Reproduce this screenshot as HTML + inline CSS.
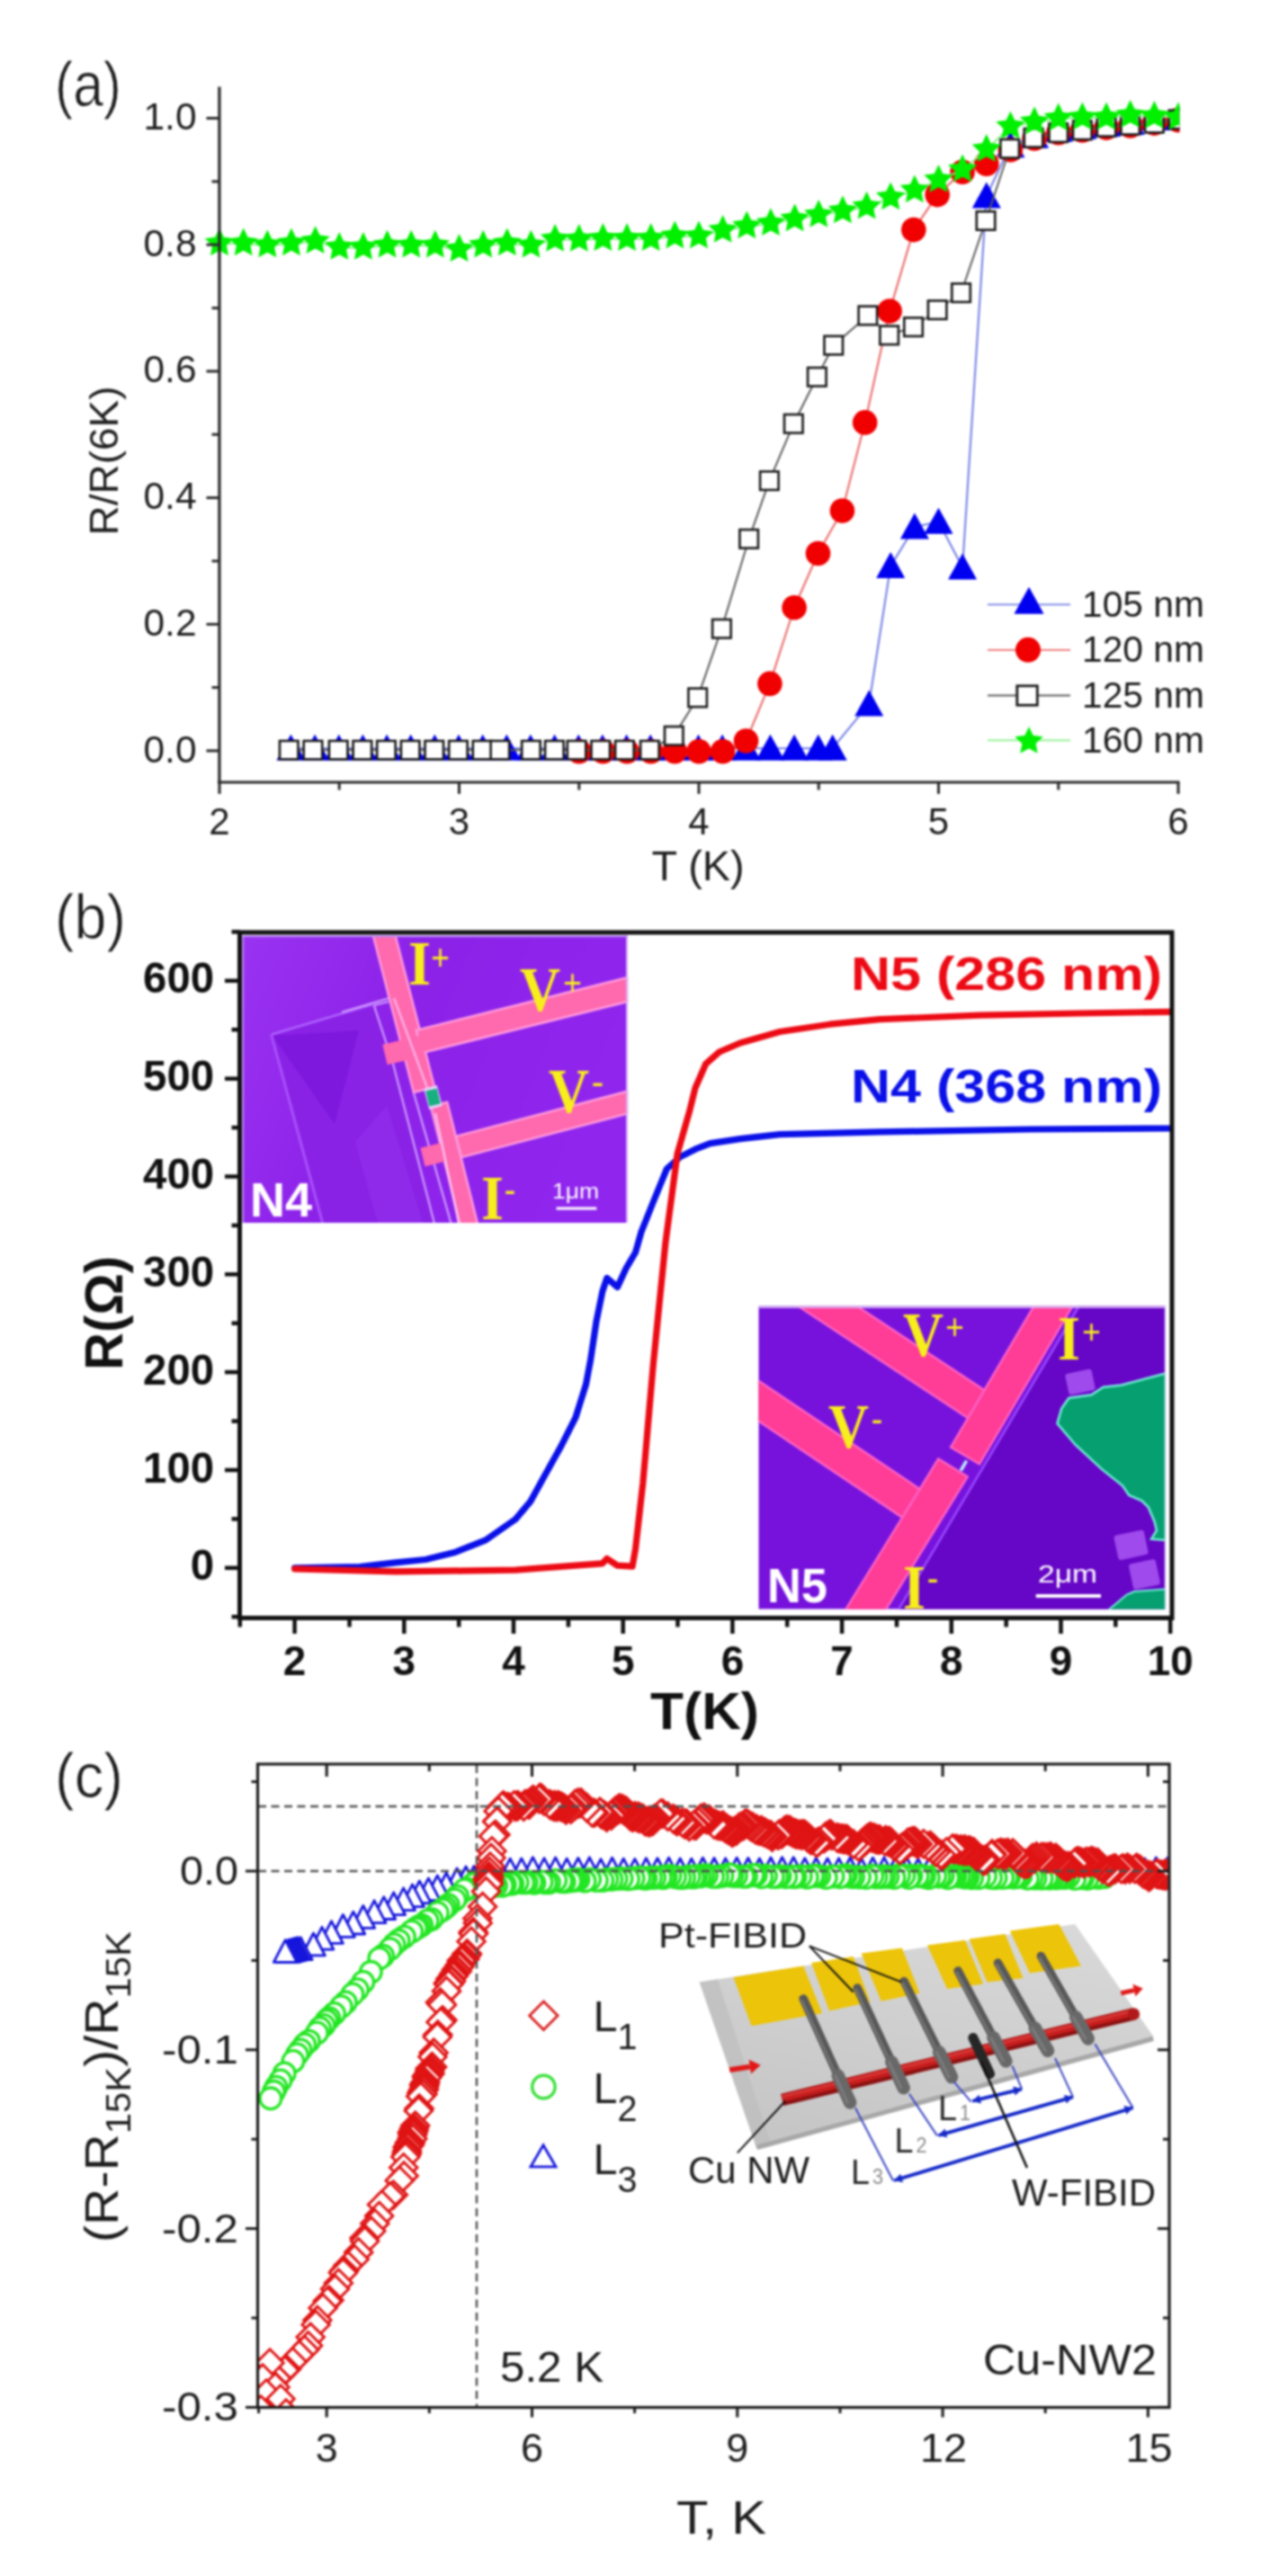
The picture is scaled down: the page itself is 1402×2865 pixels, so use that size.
<!DOCTYPE html><html><head><meta charset="utf-8"><style>html,body{margin:0;padding:0;background:#fff;}svg{display:block}</style></head><body><svg width="1402" height="2865" viewBox="0 0 1402 2865"><rect width="1402" height="2865" fill="#fff"/><defs><filter id="soft" x="0" y="0" width="1402" height="2865" filterUnits="userSpaceOnUse" color-interpolation-filters="sRGB"><feGaussianBlur stdDeviation="1.0"/></filter></defs><g filter="url(#soft)"><rect width="1402" height="2865" fill="#fff"/><defs><clipPath id="ca"><rect x="200" y="60" width="1111.5" height="820"/></clipPath></defs><g clip-path="url(#ca)">
<path d="M323.4 832.2 L350.1 832.2 L376.8 832.2 L403.4 832.2 L430.1 832.2 L456.7 832.2 L483.3 832.2 L510 832.2 L536.7 832.2 L563.3 832.2 L589.9 832.2 L616.6 832.2 L643.2 832.2 L669.9 832.2 L696.6 832.2 L723.2 832.2 L749.8 832.2 L776.5 832.2 L803.1 832.2 L829.8 832.2 L856.4 832.2 L883.1 832.2 L909.8 832.2 L925.7 832.2 L966.2 782.9 L990.2 629.6 L1016.9 586 L1043.5 580.3 L1070.1 631 L1096.8 218 L1123.4 161.8 L1150.1 151.2 L1176.8 144.2 L1203.4 141.3 L1230.1 138.5 L1256.7 136.4 L1283.4 131.5 L1310 131.5" fill="none" stroke="#7480e4" stroke-width="2.1" stroke-linejoin="round"/>
<path d="M323.4 816.7 L339.4 845.7 L307.4 845.7 Z" fill="#0000f0" stroke="none" stroke-width="1"/>
<path d="M350.1 816.7 L366.1 845.7 L334.1 845.7 Z" fill="#0000f0" stroke="none" stroke-width="1"/>
<path d="M376.8 816.7 L392.8 845.7 L360.8 845.7 Z" fill="#0000f0" stroke="none" stroke-width="1"/>
<path d="M403.4 816.7 L419.4 845.7 L387.4 845.7 Z" fill="#0000f0" stroke="none" stroke-width="1"/>
<path d="M430.1 816.7 L446.1 845.7 L414.1 845.7 Z" fill="#0000f0" stroke="none" stroke-width="1"/>
<path d="M456.7 816.7 L472.7 845.7 L440.7 845.7 Z" fill="#0000f0" stroke="none" stroke-width="1"/>
<path d="M483.3 816.7 L499.3 845.7 L467.3 845.7 Z" fill="#0000f0" stroke="none" stroke-width="1"/>
<path d="M510 816.7 L526 845.7 L494 845.7 Z" fill="#0000f0" stroke="none" stroke-width="1"/>
<path d="M536.7 816.7 L552.7 845.7 L520.7 845.7 Z" fill="#0000f0" stroke="none" stroke-width="1"/>
<path d="M563.3 816.7 L579.3 845.7 L547.3 845.7 Z" fill="#0000f0" stroke="none" stroke-width="1"/>
<path d="M589.9 816.7 L605.9 845.7 L573.9 845.7 Z" fill="#0000f0" stroke="none" stroke-width="1"/>
<path d="M616.6 816.7 L632.6 845.7 L600.6 845.7 Z" fill="#0000f0" stroke="none" stroke-width="1"/>
<path d="M643.2 816.7 L659.2 845.7 L627.2 845.7 Z" fill="#0000f0" stroke="none" stroke-width="1"/>
<path d="M669.9 816.7 L685.9 845.7 L653.9 845.7 Z" fill="#0000f0" stroke="none" stroke-width="1"/>
<path d="M696.6 816.7 L712.6 845.7 L680.6 845.7 Z" fill="#0000f0" stroke="none" stroke-width="1"/>
<path d="M723.2 816.7 L739.2 845.7 L707.2 845.7 Z" fill="#0000f0" stroke="none" stroke-width="1"/>
<path d="M749.8 816.7 L765.8 845.7 L733.8 845.7 Z" fill="#0000f0" stroke="none" stroke-width="1"/>
<path d="M776.5 816.7 L792.5 845.7 L760.5 845.7 Z" fill="#0000f0" stroke="none" stroke-width="1"/>
<path d="M803.1 816.7 L819.1 845.7 L787.1 845.7 Z" fill="#0000f0" stroke="none" stroke-width="1"/>
<path d="M829.8 816.7 L845.8 845.7 L813.8 845.7 Z" fill="#0000f0" stroke="none" stroke-width="1"/>
<path d="M856.4 816.7 L872.4 845.7 L840.4 845.7 Z" fill="#0000f0" stroke="none" stroke-width="1"/>
<path d="M883.1 816.7 L899.1 845.7 L867.1 845.7 Z" fill="#0000f0" stroke="none" stroke-width="1"/>
<path d="M909.8 816.7 L925.8 845.7 L893.8 845.7 Z" fill="#0000f0" stroke="none" stroke-width="1"/>
<path d="M925.7 816.7 L941.7 845.7 L909.7 845.7 Z" fill="#0000f0" stroke="none" stroke-width="1"/>
<path d="M966.2 767.4 L982.2 796.4 L950.2 796.4 Z" fill="#0000f0" stroke="none" stroke-width="1"/>
<path d="M990.2 614.1 L1006.2 643.1 L974.2 643.1 Z" fill="#0000f0" stroke="none" stroke-width="1"/>
<path d="M1016.9 570.5 L1032.9 599.5 L1000.9 599.5 Z" fill="#0000f0" stroke="none" stroke-width="1"/>
<path d="M1043.5 564.8 L1059.5 593.8 L1027.5 593.8 Z" fill="#0000f0" stroke="none" stroke-width="1"/>
<path d="M1070.1 615.5 L1086.1 644.5 L1054.1 644.5 Z" fill="#0000f0" stroke="none" stroke-width="1"/>
<path d="M1096.8 202.5 L1112.8 231.5 L1080.8 231.5 Z" fill="#0000f0" stroke="none" stroke-width="1"/>
<path d="M1123.4 146.3 L1139.4 175.3 L1107.4 175.3 Z" fill="#0000f0" stroke="none" stroke-width="1"/>
<path d="M1150.1 135.7 L1166.1 164.7 L1134.1 164.7 Z" fill="#0000f0" stroke="none" stroke-width="1"/>
<path d="M1176.8 128.7 L1192.8 157.7 L1160.8 157.7 Z" fill="#0000f0" stroke="none" stroke-width="1"/>
<path d="M1203.4 125.8 L1219.4 154.8 L1187.4 154.8 Z" fill="#0000f0" stroke="none" stroke-width="1"/>
<path d="M1230.1 123 L1246.1 152 L1214.1 152 Z" fill="#0000f0" stroke="none" stroke-width="1"/>
<path d="M1256.7 120.9 L1272.7 149.9 L1240.7 149.9 Z" fill="#0000f0" stroke="none" stroke-width="1"/>
<path d="M1283.4 116 L1299.4 145 L1267.4 145 Z" fill="#0000f0" stroke="none" stroke-width="1"/>
<path d="M1310 116 L1326 145 L1294 145 Z" fill="#0000f0" stroke="none" stroke-width="1"/>
<path d="M643.8 835.7 L670.4 835.7 L697.1 835.7 L723.7 835.7 L750.3 835.7 L777 835.7 L803.6 835.7 L829.5 824 L855.9 760.4 L883.1 675.7 L909.5 615.5 L936.4 568 L961.7 469.9 L989.1 346.1 L1015.8 255.6 L1042.2 216.6 L1070.1 191.3 L1096.8 182.2 L1123.4 166.7 L1150.1 154 L1176.8 147.7 L1203.4 144.9 L1230.1 142.1 L1256.7 139.9 L1283.4 137.1 L1310 133.6" fill="none" stroke="#ec6a6a" stroke-width="2.1" stroke-linejoin="round"/>
<circle cx="643.8" cy="835.7" r="13.8" fill="#f00000"/>
<circle cx="670.4" cy="835.7" r="13.8" fill="#f00000"/>
<circle cx="697.1" cy="835.7" r="13.8" fill="#f00000"/>
<circle cx="723.7" cy="835.7" r="13.8" fill="#f00000"/>
<circle cx="750.3" cy="835.7" r="13.8" fill="#f00000"/>
<circle cx="777" cy="835.7" r="13.8" fill="#f00000"/>
<circle cx="803.6" cy="835.7" r="13.8" fill="#f00000"/>
<circle cx="829.5" cy="824" r="13.8" fill="#f00000"/>
<circle cx="855.9" cy="760.4" r="13.8" fill="#f00000"/>
<circle cx="883.1" cy="675.7" r="13.8" fill="#f00000"/>
<circle cx="909.5" cy="615.5" r="13.8" fill="#f00000"/>
<circle cx="936.4" cy="568" r="13.8" fill="#f00000"/>
<circle cx="961.7" cy="469.9" r="13.8" fill="#f00000"/>
<circle cx="989.1" cy="346.1" r="13.8" fill="#f00000"/>
<circle cx="1015.8" cy="255.6" r="13.8" fill="#f00000"/>
<circle cx="1042.2" cy="216.6" r="13.8" fill="#f00000"/>
<circle cx="1070.1" cy="191.3" r="13.8" fill="#f00000"/>
<circle cx="1096.8" cy="182.2" r="13.8" fill="#f00000"/>
<circle cx="1123.4" cy="166.7" r="13.8" fill="#f00000"/>
<circle cx="1150.1" cy="154" r="13.8" fill="#f00000"/>
<circle cx="1176.8" cy="147.7" r="13.8" fill="#f00000"/>
<circle cx="1203.4" cy="144.9" r="13.8" fill="#f00000"/>
<circle cx="1230.1" cy="142.1" r="13.8" fill="#f00000"/>
<circle cx="1256.7" cy="139.9" r="13.8" fill="#f00000"/>
<circle cx="1283.4" cy="137.1" r="13.8" fill="#f00000"/>
<circle cx="1310" cy="133.6" r="13.8" fill="#f00000"/>
<path d="M321.3 834.3 L347.9 834.3 L376.2 834.3 L402.8 834.3 L429.5 834.3 L456.1 834.3 L482.8 834.3 L509.4 834.3 L536.1 834.3 L555.8 834.3 L590.4 834.3 L616.3 834.3 L641.1 834.3 L667.7 834.3 L694.4 834.3 L722.4 834.3 L749.3 818.4 L775.7 775.9 L802.3 699.2 L832.7 599.3 L855.4 534.6 L882.3 471.3 L908.4 419.2 L926.8 384.1 L964.9 351 L988.6 372.8 L1015.5 363.7 L1042.2 344.7 L1068.6 325.7 L1096 245.5 L1122.7 165.3 L1149 153.3 L1176.8 147.7 L1203.4 144.9 L1230.1 141.3 L1256.7 139.2 L1283.4 137.1 L1310 132.9" fill="none" stroke="#5a5a5a" stroke-width="2" stroke-linejoin="round"/>
<rect x="311" y="824" width="20.5" height="20.5" fill="#fff" stroke="#1a1a1a" stroke-width="2.6"/>
<rect x="337.7" y="824" width="20.5" height="20.5" fill="#fff" stroke="#1a1a1a" stroke-width="2.6"/>
<rect x="365.9" y="824" width="20.5" height="20.5" fill="#fff" stroke="#1a1a1a" stroke-width="2.6"/>
<rect x="392.6" y="824" width="20.5" height="20.5" fill="#fff" stroke="#1a1a1a" stroke-width="2.6"/>
<rect x="419.2" y="824" width="20.5" height="20.5" fill="#fff" stroke="#1a1a1a" stroke-width="2.6"/>
<rect x="445.9" y="824" width="20.5" height="20.5" fill="#fff" stroke="#1a1a1a" stroke-width="2.6"/>
<rect x="472.5" y="824" width="20.5" height="20.5" fill="#fff" stroke="#1a1a1a" stroke-width="2.6"/>
<rect x="499.2" y="824" width="20.5" height="20.5" fill="#fff" stroke="#1a1a1a" stroke-width="2.6"/>
<rect x="525.8" y="824" width="20.5" height="20.5" fill="#fff" stroke="#1a1a1a" stroke-width="2.6"/>
<rect x="545.6" y="824" width="20.5" height="20.5" fill="#fff" stroke="#1a1a1a" stroke-width="2.6"/>
<rect x="580.2" y="824" width="20.5" height="20.5" fill="#fff" stroke="#1a1a1a" stroke-width="2.6"/>
<rect x="606.1" y="824" width="20.5" height="20.5" fill="#fff" stroke="#1a1a1a" stroke-width="2.6"/>
<rect x="630.8" y="824" width="20.5" height="20.5" fill="#fff" stroke="#1a1a1a" stroke-width="2.6"/>
<rect x="657.5" y="824" width="20.5" height="20.5" fill="#fff" stroke="#1a1a1a" stroke-width="2.6"/>
<rect x="684.1" y="824" width="20.5" height="20.5" fill="#fff" stroke="#1a1a1a" stroke-width="2.6"/>
<rect x="712.1" y="824" width="20.5" height="20.5" fill="#fff" stroke="#1a1a1a" stroke-width="2.6"/>
<rect x="739" y="808.1" width="20.5" height="20.5" fill="#fff" stroke="#1a1a1a" stroke-width="2.6"/>
<rect x="765.4" y="765.7" width="20.5" height="20.5" fill="#fff" stroke="#1a1a1a" stroke-width="2.6"/>
<rect x="792.1" y="689" width="20.5" height="20.5" fill="#fff" stroke="#1a1a1a" stroke-width="2.6"/>
<rect x="822.4" y="589.1" width="20.5" height="20.5" fill="#fff" stroke="#1a1a1a" stroke-width="2.6"/>
<rect x="845.1" y="524.4" width="20.5" height="20.5" fill="#fff" stroke="#1a1a1a" stroke-width="2.6"/>
<rect x="872" y="461" width="20.5" height="20.5" fill="#fff" stroke="#1a1a1a" stroke-width="2.6"/>
<rect x="898.1" y="409" width="20.5" height="20.5" fill="#fff" stroke="#1a1a1a" stroke-width="2.6"/>
<rect x="916.5" y="373.8" width="20.5" height="20.5" fill="#fff" stroke="#1a1a1a" stroke-width="2.6"/>
<rect x="954.6" y="340.7" width="20.5" height="20.5" fill="#fff" stroke="#1a1a1a" stroke-width="2.6"/>
<rect x="978.4" y="362.6" width="20.5" height="20.5" fill="#fff" stroke="#1a1a1a" stroke-width="2.6"/>
<rect x="1005.3" y="353.4" width="20.5" height="20.5" fill="#fff" stroke="#1a1a1a" stroke-width="2.6"/>
<rect x="1031.9" y="334.4" width="20.5" height="20.5" fill="#fff" stroke="#1a1a1a" stroke-width="2.6"/>
<rect x="1058.3" y="315.4" width="20.5" height="20.5" fill="#fff" stroke="#1a1a1a" stroke-width="2.6"/>
<rect x="1085.8" y="235.2" width="20.5" height="20.5" fill="#fff" stroke="#1a1a1a" stroke-width="2.6"/>
<rect x="1112.4" y="155" width="20.5" height="20.5" fill="#fff" stroke="#1a1a1a" stroke-width="2.6"/>
<rect x="1138.8" y="143.1" width="20.5" height="20.5" fill="#fff" stroke="#1a1a1a" stroke-width="2.6"/>
<rect x="1166.5" y="137.4" width="20.5" height="20.5" fill="#fff" stroke="#1a1a1a" stroke-width="2.6"/>
<rect x="1193.1" y="134.6" width="20.5" height="20.5" fill="#fff" stroke="#1a1a1a" stroke-width="2.6"/>
<rect x="1219.8" y="131.1" width="20.5" height="20.5" fill="#fff" stroke="#1a1a1a" stroke-width="2.6"/>
<rect x="1246.4" y="129" width="20.5" height="20.5" fill="#fff" stroke="#1a1a1a" stroke-width="2.6"/>
<rect x="1273.1" y="126.9" width="20.5" height="20.5" fill="#fff" stroke="#1a1a1a" stroke-width="2.6"/>
<rect x="1299.8" y="122.7" width="20.5" height="20.5" fill="#fff" stroke="#1a1a1a" stroke-width="2.6"/>
<path d="M244 271 L270.7 271 L297.3 273 L323.9 271 L350.6 268.7 L377.2 275.4 L403.9 275.4 L430.6 273.2 L457.2 273.2 L483.8 273.2 L510.5 277.6 L537.2 273.2 L563.8 271 L590.4 273.2 L617.1 266.5 L643.8 266.5 L670.4 265.6 L697.1 265.6 L723.7 265.6 L750.3 263 L777 263 L803.6 256.5 L830.3 252 L856.9 248.7 L883.6 244 L910.2 239.5 L936.9 235 L963.6 230.3 L990.2 220 L1016.9 211.9 L1043.5 200.4 L1070.1 189 L1096.8 166.5 L1123.4 141 L1150.1 136 L1176.8 132 L1203.4 131 L1230.1 131 L1256.7 128.5 L1283.4 129.5 L1310 131" fill="none" stroke="#86f086" stroke-width="2.1" stroke-linejoin="round"/>
<path d="M244 253.5 L248.9 263.8 L260.2 265.2 L251.9 273.1 L254 284.3 L244 278.8 L234 284.3 L236.1 273.1 L227.8 265.2 L239.1 263.8 Z" fill="#00f000" stroke="none" stroke-width="1"/>
<path d="M270.7 253.5 L275.5 263.8 L286.8 265.2 L278.5 273.1 L280.6 284.3 L270.7 278.8 L260.7 284.3 L262.8 273.1 L254.5 265.2 L265.8 263.8 Z" fill="#00f000" stroke="none" stroke-width="1"/>
<path d="M297.3 255.5 L302.2 265.8 L313.5 267.2 L305.2 275.1 L307.3 286.3 L297.3 280.8 L287.3 286.3 L289.4 275.1 L281.1 267.2 L292.4 265.8 Z" fill="#00f000" stroke="none" stroke-width="1"/>
<path d="M323.9 253.5 L328.8 263.8 L340.1 265.2 L331.8 273.1 L333.9 284.3 L323.9 278.8 L314 284.3 L316.1 273.1 L307.8 265.2 L319.1 263.8 Z" fill="#00f000" stroke="none" stroke-width="1"/>
<path d="M350.6 251.2 L355.5 261.5 L366.8 262.9 L358.5 270.8 L360.6 282 L350.6 276.5 L340.6 282 L342.7 270.8 L334.4 262.9 L345.7 261.5 Z" fill="#00f000" stroke="none" stroke-width="1"/>
<path d="M377.2 257.9 L382.1 268.2 L393.4 269.6 L385.1 277.5 L387.2 288.7 L377.2 283.2 L367.3 288.7 L369.4 277.5 L361.1 269.6 L372.4 268.2 Z" fill="#00f000" stroke="none" stroke-width="1"/>
<path d="M403.9 257.9 L408.8 268.2 L420.1 269.6 L411.8 277.5 L413.9 288.7 L403.9 283.2 L393.9 288.7 L396 277.5 L387.7 269.6 L399 268.2 Z" fill="#00f000" stroke="none" stroke-width="1"/>
<path d="M430.6 255.7 L435.4 266 L446.7 267.4 L438.4 275.3 L440.5 286.5 L430.6 281 L420.6 286.5 L422.7 275.3 L414.4 267.4 L425.7 266 Z" fill="#00f000" stroke="none" stroke-width="1"/>
<path d="M457.2 255.7 L462.1 266 L473.4 267.4 L465.1 275.3 L467.2 286.5 L457.2 281 L447.2 286.5 L449.3 275.3 L441 267.4 L452.3 266 Z" fill="#00f000" stroke="none" stroke-width="1"/>
<path d="M483.8 255.7 L488.7 266 L500 267.4 L491.7 275.3 L493.8 286.5 L483.8 281 L473.9 286.5 L476 275.3 L467.7 267.4 L479 266 Z" fill="#00f000" stroke="none" stroke-width="1"/>
<path d="M510.5 260.1 L515.4 270.4 L526.7 271.8 L518.4 279.7 L520.5 290.9 L510.5 285.4 L500.5 290.9 L502.6 279.7 L494.3 271.8 L505.6 270.4 Z" fill="#00f000" stroke="none" stroke-width="1"/>
<path d="M537.2 255.7 L542 266 L553.3 267.4 L545 275.3 L547.1 286.5 L537.2 281 L527.2 286.5 L529.3 275.3 L521 267.4 L532.3 266 Z" fill="#00f000" stroke="none" stroke-width="1"/>
<path d="M563.8 253.5 L568.7 263.8 L580 265.2 L571.7 273.1 L573.8 284.3 L563.8 278.8 L553.8 284.3 L555.9 273.1 L547.6 265.2 L558.9 263.8 Z" fill="#00f000" stroke="none" stroke-width="1"/>
<path d="M590.4 255.7 L595.3 266 L606.6 267.4 L598.3 275.3 L600.4 286.5 L590.4 281 L580.5 286.5 L582.6 275.3 L574.3 267.4 L585.6 266 Z" fill="#00f000" stroke="none" stroke-width="1"/>
<path d="M617.1 249 L622 259.3 L633.3 260.7 L625 268.6 L627.1 279.8 L617.1 274.3 L607.1 279.8 L609.2 268.6 L600.9 260.7 L612.2 259.3 Z" fill="#00f000" stroke="none" stroke-width="1"/>
<path d="M643.8 249 L648.6 259.3 L659.9 260.7 L651.6 268.6 L653.7 279.8 L643.8 274.3 L633.8 279.8 L635.9 268.6 L627.6 260.7 L638.9 259.3 Z" fill="#00f000" stroke="none" stroke-width="1"/>
<path d="M670.4 248.1 L675.3 258.4 L686.6 259.8 L678.3 267.7 L680.4 278.9 L670.4 273.4 L660.4 278.9 L662.5 267.7 L654.2 259.8 L665.5 258.4 Z" fill="#00f000" stroke="none" stroke-width="1"/>
<path d="M697.1 248.1 L701.9 258.4 L713.2 259.8 L704.9 267.7 L707 278.9 L697.1 273.4 L687.1 278.9 L689.2 267.7 L680.9 259.8 L692.2 258.4 Z" fill="#00f000" stroke="none" stroke-width="1"/>
<path d="M723.7 248.1 L728.6 258.4 L739.9 259.8 L731.6 267.7 L733.7 278.9 L723.7 273.4 L713.7 278.9 L715.8 267.7 L707.5 259.8 L718.8 258.4 Z" fill="#00f000" stroke="none" stroke-width="1"/>
<path d="M750.3 245.5 L755.2 255.8 L766.5 257.2 L758.2 265.1 L760.3 276.3 L750.3 270.8 L740.4 276.3 L742.5 265.1 L734.2 257.2 L745.5 255.8 Z" fill="#00f000" stroke="none" stroke-width="1"/>
<path d="M777 245.5 L781.9 255.8 L793.2 257.2 L784.9 265.1 L787 276.3 L777 270.8 L767 276.3 L769.1 265.1 L760.8 257.2 L772.1 255.8 Z" fill="#00f000" stroke="none" stroke-width="1"/>
<path d="M803.6 239 L808.5 249.3 L819.8 250.7 L811.5 258.6 L813.6 269.8 L803.6 264.3 L793.7 269.8 L795.8 258.6 L787.5 250.7 L798.8 249.3 Z" fill="#00f000" stroke="none" stroke-width="1"/>
<path d="M830.3 234.5 L835.2 244.8 L846.5 246.2 L838.2 254.1 L840.3 265.3 L830.3 259.8 L820.3 265.3 L822.4 254.1 L814.1 246.2 L825.4 244.8 Z" fill="#00f000" stroke="none" stroke-width="1"/>
<path d="M856.9 231.2 L861.8 241.5 L873.1 242.9 L864.8 250.8 L866.9 262 L856.9 256.5 L847 262 L849.1 250.8 L840.8 242.9 L852.1 241.5 Z" fill="#00f000" stroke="none" stroke-width="1"/>
<path d="M883.6 226.5 L888.5 236.8 L899.8 238.2 L891.5 246.1 L893.6 257.3 L883.6 251.8 L873.6 257.3 L875.7 246.1 L867.4 238.2 L878.7 236.8 Z" fill="#00f000" stroke="none" stroke-width="1"/>
<path d="M910.2 222 L915.1 232.3 L926.4 233.7 L918.1 241.6 L920.2 252.8 L910.2 247.3 L900.3 252.8 L902.4 241.6 L894.1 233.7 L905.4 232.3 Z" fill="#00f000" stroke="none" stroke-width="1"/>
<path d="M936.9 217.5 L941.8 227.8 L953.1 229.2 L944.8 237.1 L946.9 248.3 L936.9 242.8 L926.9 248.3 L929 237.1 L920.7 229.2 L932 227.8 Z" fill="#00f000" stroke="none" stroke-width="1"/>
<path d="M963.6 212.8 L968.4 223.1 L979.7 224.5 L971.4 232.4 L973.5 243.6 L963.6 238.1 L953.6 243.6 L955.7 232.4 L947.4 224.5 L958.7 223.1 Z" fill="#00f000" stroke="none" stroke-width="1"/>
<path d="M990.2 202.5 L995.1 212.8 L1006.4 214.2 L998.1 222.1 L1000.2 233.3 L990.2 227.8 L980.2 233.3 L982.3 222.1 L974 214.2 L985.3 212.8 Z" fill="#00f000" stroke="none" stroke-width="1"/>
<path d="M1016.9 194.4 L1021.7 204.7 L1033 206.1 L1024.7 214 L1026.8 225.2 L1016.9 219.7 L1006.9 225.2 L1009 214 L1000.7 206.1 L1012 204.7 Z" fill="#00f000" stroke="none" stroke-width="1"/>
<path d="M1043.5 182.9 L1048.4 193.2 L1059.7 194.6 L1051.4 202.5 L1053.5 213.7 L1043.5 208.2 L1033.5 213.7 L1035.6 202.5 L1027.3 194.6 L1038.6 193.2 Z" fill="#00f000" stroke="none" stroke-width="1"/>
<path d="M1070.1 171.5 L1075 181.8 L1086.3 183.2 L1078 191.1 L1080.1 202.3 L1070.1 196.8 L1060.2 202.3 L1062.3 191.1 L1054 183.2 L1065.3 181.8 Z" fill="#00f000" stroke="none" stroke-width="1"/>
<path d="M1096.8 149 L1101.7 159.3 L1113 160.7 L1104.7 168.6 L1106.8 179.8 L1096.8 174.3 L1086.8 179.8 L1088.9 168.6 L1080.6 160.7 L1091.9 159.3 Z" fill="#00f000" stroke="none" stroke-width="1"/>
<path d="M1123.4 123.5 L1128.3 133.8 L1139.6 135.2 L1131.3 143.1 L1133.4 154.3 L1123.4 148.8 L1113.5 154.3 L1115.6 143.1 L1107.3 135.2 L1118.6 133.8 Z" fill="#00f000" stroke="none" stroke-width="1"/>
<path d="M1150.1 118.5 L1155 128.8 L1166.3 130.2 L1158 138.1 L1160.1 149.3 L1150.1 143.8 L1140.1 149.3 L1142.2 138.1 L1133.9 130.2 L1145.2 128.8 Z" fill="#00f000" stroke="none" stroke-width="1"/>
<path d="M1176.8 114.5 L1181.6 124.8 L1192.9 126.2 L1184.6 134.1 L1186.7 145.3 L1176.8 139.8 L1166.8 145.3 L1168.9 134.1 L1160.6 126.2 L1171.9 124.8 Z" fill="#00f000" stroke="none" stroke-width="1"/>
<path d="M1203.4 113.5 L1208.3 123.8 L1219.6 125.2 L1211.3 133.1 L1213.4 144.3 L1203.4 138.8 L1193.4 144.3 L1195.5 133.1 L1187.2 125.2 L1198.5 123.8 Z" fill="#00f000" stroke="none" stroke-width="1"/>
<path d="M1230.1 113.5 L1234.9 123.8 L1246.2 125.2 L1237.9 133.1 L1240 144.3 L1230.1 138.8 L1220.1 144.3 L1222.2 133.1 L1213.9 125.2 L1225.2 123.8 Z" fill="#00f000" stroke="none" stroke-width="1"/>
<path d="M1256.7 111 L1261.6 121.3 L1272.9 122.7 L1264.6 130.6 L1266.7 141.8 L1256.7 136.3 L1246.7 141.8 L1248.8 130.6 L1240.5 122.7 L1251.8 121.3 Z" fill="#00f000" stroke="none" stroke-width="1"/>
<path d="M1283.4 112 L1288.2 122.3 L1299.5 123.7 L1291.2 131.6 L1293.3 142.8 L1283.4 137.3 L1273.4 142.8 L1275.5 131.6 L1267.2 123.7 L1278.5 122.3 Z" fill="#00f000" stroke="none" stroke-width="1"/>
<path d="M1310 113.5 L1314.9 123.8 L1326.2 125.2 L1317.9 133.1 L1320 144.3 L1310 138.8 L1300 144.3 L1302.1 133.1 L1293.8 125.2 L1305.1 123.8 Z" fill="#00f000" stroke="none" stroke-width="1"/>
</g>
<line x1="243.9" y1="96.5" x2="243.9" y2="871.5" stroke="#2b2b2b" stroke-width="3.2"/>
<line x1="242" y1="870" x2="1311.5" y2="870" stroke="#2b2b2b" stroke-width="3"/>
<line x1="229.5" y1="835" x2="243.5" y2="835" stroke="#2b2b2b" stroke-width="3"/>
<text x="218.5" y="847.5" font-size="43" text-anchor="end" fill="#1e1e1e" font-family='"Liberation Sans", sans-serif' textLength="59" lengthAdjust="spacingAndGlyphs">0.0</text>
<line x1="229.5" y1="694.3" x2="243.5" y2="694.3" stroke="#2b2b2b" stroke-width="3"/>
<text x="218.5" y="706.8" font-size="43" text-anchor="end" fill="#1e1e1e" font-family='"Liberation Sans", sans-serif' textLength="59" lengthAdjust="spacingAndGlyphs">0.2</text>
<line x1="229.5" y1="553.6" x2="243.5" y2="553.6" stroke="#2b2b2b" stroke-width="3"/>
<text x="218.5" y="566.1" font-size="43" text-anchor="end" fill="#1e1e1e" font-family='"Liberation Sans", sans-serif' textLength="59" lengthAdjust="spacingAndGlyphs">0.4</text>
<line x1="229.5" y1="412.9" x2="243.5" y2="412.9" stroke="#2b2b2b" stroke-width="3"/>
<text x="218.5" y="425.4" font-size="43" text-anchor="end" fill="#1e1e1e" font-family='"Liberation Sans", sans-serif' textLength="59" lengthAdjust="spacingAndGlyphs">0.6</text>
<line x1="229.5" y1="272.2" x2="243.5" y2="272.2" stroke="#2b2b2b" stroke-width="3"/>
<text x="218.5" y="284.7" font-size="43" text-anchor="end" fill="#1e1e1e" font-family='"Liberation Sans", sans-serif' textLength="59" lengthAdjust="spacingAndGlyphs">0.8</text>
<line x1="229.5" y1="131.5" x2="243.5" y2="131.5" stroke="#2b2b2b" stroke-width="3"/>
<text x="218.5" y="144" font-size="43" text-anchor="end" fill="#1e1e1e" font-family='"Liberation Sans", sans-serif' textLength="59" lengthAdjust="spacingAndGlyphs">1.0</text>
<line x1="235.5" y1="764.6" x2="243.5" y2="764.6" stroke="#2b2b2b" stroke-width="3"/>
<line x1="235.5" y1="624" x2="243.5" y2="624" stroke="#2b2b2b" stroke-width="3"/>
<line x1="235.5" y1="483.2" x2="243.5" y2="483.2" stroke="#2b2b2b" stroke-width="3"/>
<line x1="235.5" y1="342.6" x2="243.5" y2="342.6" stroke="#2b2b2b" stroke-width="3"/>
<line x1="235.5" y1="201.9" x2="243.5" y2="201.9" stroke="#2b2b2b" stroke-width="3"/>
<line x1="244" y1="870" x2="244" y2="883" stroke="#2b2b2b" stroke-width="3"/>
<text x="244" y="927.8" font-size="42" text-anchor="middle" fill="#1e1e1e" font-family='"Liberation Sans", sans-serif'>2</text>
<line x1="510.5" y1="870" x2="510.5" y2="883" stroke="#2b2b2b" stroke-width="3"/>
<text x="510.5" y="927.8" font-size="42" text-anchor="middle" fill="#1e1e1e" font-family='"Liberation Sans", sans-serif'>3</text>
<line x1="777" y1="870" x2="777" y2="883" stroke="#2b2b2b" stroke-width="3"/>
<text x="777" y="927.8" font-size="42" text-anchor="middle" fill="#1e1e1e" font-family='"Liberation Sans", sans-serif'>4</text>
<line x1="1043.5" y1="870" x2="1043.5" y2="883" stroke="#2b2b2b" stroke-width="3"/>
<text x="1043.5" y="927.8" font-size="42" text-anchor="middle" fill="#1e1e1e" font-family='"Liberation Sans", sans-serif'>5</text>
<line x1="1310" y1="870" x2="1310" y2="883" stroke="#2b2b2b" stroke-width="3"/>
<text x="1310" y="927.8" font-size="42" text-anchor="middle" fill="#1e1e1e" font-family='"Liberation Sans", sans-serif'>6</text>
<line x1="377.2" y1="870" x2="377.2" y2="878.5" stroke="#2b2b2b" stroke-width="3"/>
<line x1="643.8" y1="870" x2="643.8" y2="878.5" stroke="#2b2b2b" stroke-width="3"/>
<line x1="910.2" y1="870" x2="910.2" y2="878.5" stroke="#2b2b2b" stroke-width="3"/>
<line x1="1176.8" y1="870" x2="1176.8" y2="878.5" stroke="#2b2b2b" stroke-width="3"/>
<text x="724.5" y="978.5" font-size="46" text-anchor="start" fill="#1e1e1e" font-family='"Liberation Sans", sans-serif' textLength="103" lengthAdjust="spacingAndGlyphs">T (K)</text>
<text x="131" y="595.5" font-size="45" text-anchor="start" fill="#1e1e1e" font-family='"Liberation Sans", sans-serif' textLength="166" lengthAdjust="spacingAndGlyphs" transform="rotate(-90 131 595.5)">R/R(6K)</text>
<text x="61" y="118.4" font-size="70" text-anchor="start" fill="#1e1e1e" font-family='"Liberation Sans", sans-serif' stroke="#fff" stroke-width="0.9" textLength="74" lengthAdjust="spacingAndGlyphs">(a)</text>
<line x1="1098" y1="672.3" x2="1190" y2="672.3" stroke="#7480e4" stroke-width="1.8"/>
<path d="M1144 652.8 L1160.5 682.8 L1127.5 682.8 Z" fill="#0000f0" stroke="none" stroke-width="1"/>
<line x1="1098" y1="722.8" x2="1190" y2="722.8" stroke="#ec6a6a" stroke-width="1.8"/>
<circle cx="1143" cy="722.8" r="14" fill="#f00000"/>
<line x1="1098" y1="773.5" x2="1190" y2="773.5" stroke="#5a5a5a" stroke-width="1.8"/>
<rect x="1130.8" y="762.8" width="22.5" height="21.5" fill="#fff" stroke="#1a1a1a" stroke-width="2.8"/>
<line x1="1098" y1="823.4" x2="1190" y2="823.4" stroke="#86f086" stroke-width="1.8"/>
<path d="M1144 807.9 L1148.7 817.9 L1159.7 819.3 L1151.6 826.9 L1153.7 837.7 L1144 832.4 L1134.3 837.7 L1136.4 826.9 L1128.3 819.3 L1139.3 817.9 Z" fill="#00f000" stroke="none" stroke-width="1"/>
<text x="1203" y="685.8" font-size="41.5" text-anchor="start" fill="#1e1e1e" font-family='"Liberation Sans", sans-serif' textLength="136" lengthAdjust="spacingAndGlyphs">105 nm</text>
<text x="1203" y="736.3" font-size="41.5" text-anchor="start" fill="#1e1e1e" font-family='"Liberation Sans", sans-serif' textLength="136" lengthAdjust="spacingAndGlyphs">120 nm</text>
<text x="1203" y="787" font-size="41.5" text-anchor="start" fill="#1e1e1e" font-family='"Liberation Sans", sans-serif' textLength="136" lengthAdjust="spacingAndGlyphs">125 nm</text>
<text x="1203" y="836.9" font-size="41.5" text-anchor="start" fill="#1e1e1e" font-family='"Liberation Sans", sans-serif' textLength="136" lengthAdjust="spacingAndGlyphs">160 nm</text>
<defs><clipPath id="c4"><rect x="270.7" y="1040.7" width="427.5" height="319.3"/></clipPath><clipPath id="c5"><rect x="843.3" y="1452.2" width="452" height="337.5"/></clipPath><linearGradient id="g4" x1="0" y1="0" x2="1" y2="0.3"><stop offset="0" stop-color="#9a32f2"/><stop offset="0.45" stop-color="#8c22e8"/><stop offset="1" stop-color="#9026ee"/></linearGradient><linearGradient id="gsub" x1="0.7" y1="0" x2="0.3" y2="1"><stop offset="0" stop-color="#d8d8d8"/><stop offset="1" stop-color="#c6c6c6"/></linearGradient></defs>
<g clip-path="url(#c4)">
<rect x="270.7" y="1040.7" width="427.5" height="319.3" fill="url(#g4)"/>
<path d="M301.6 1150.6 L414.3 1117 L440 1185 L483 1360 L358.8 1360.8 Z" fill="#8a22e6" stroke="none" stroke-width="1"/>
<path d="M303 1152 L399 1146 L372 1250 Z" fill="#7e18dc" stroke="none" stroke-width="1"/>
<path d="M395 1270 L430 1230 L470 1360 L420 1360 Z" fill="#9430ee" stroke="none" stroke-width="1" opacity="0.6"/>
<line x1="301.6" y1="1150.6" x2="414.3" y2="1117" stroke="#b264ff" stroke-width="2.5"/>
<line x1="301.6" y1="1150.6" x2="358.8" y2="1360.8" stroke="#a850fa" stroke-width="3"/>
<line x1="380" y1="1125.7" x2="432.9" y2="1110" stroke="#cf9cff" stroke-width="2.2"/>
<line x1="415.7" y1="1118" x2="437" y2="1183" stroke="#cf9cff" stroke-width="2.2"/>
<line x1="437" y1="1183" x2="482.8" y2="1360" stroke="#cf9cff" stroke-width="2.2"/>
<line x1="460" y1="1215.7" x2="501.4" y2="1360" stroke="#cf9cff" stroke-width="2.2"/>
<line x1="415.7" y1="1118" x2="432" y2="1114" stroke="#cf9cff" stroke-width="2"/>
<path d="M412.9 1033 L459.9 1215 L483.1 1209 L436.1 1027 Z" fill="#ff69ae" stroke="#ff9ade" stroke-width="2.5"/>
<path d="M478.8 1230.3 L514.8 1374.3 L533.2 1369.7 L497.2 1225.7 Z" fill="#ff69ae" stroke="#ff9ade" stroke-width="2.5"/>
<path d="M469.2 1171.1 L705.2 1112.1 L698.8 1086.9 L462.8 1145.9 Z" fill="#ff69ae" stroke="#ff9ade" stroke-width="2.5"/>
<path d="M430.7 1184.2 L472.7 1174.2 L467.3 1151.8 L425.3 1161.8 Z" fill="#ff69ae" stroke="none" stroke-width="1"/>
<path d="M513.1 1287.1 L705.1 1236.6 L698.9 1213.4 L506.9 1263.9 Z" fill="#ff69ae" stroke="#ff9ade" stroke-width="2.5"/>
<path d="M472.5 1297.2 L508.5 1288.2 L503.5 1267.8 L467.5 1276.8 Z" fill="#ff69ae" stroke="none" stroke-width="1"/>
<line x1="438" y1="1110" x2="475" y2="1210" stroke="#ffb4ea" stroke-width="2.2"/>
<line x1="484" y1="1238" x2="510" y2="1360" stroke="#ffc0f0" stroke-width="2.4"/>
<path d="M471.2 1210.9 L477.2 1233.9 L491.8 1230.1 L485.8 1207.1 Z" fill="#e8d0ff" stroke="none" stroke-width="1"/>
<path d="M473.2 1213.5 L477.2 1230.5 L489.8 1227.5 L485.8 1210.5 Z" fill="#18b080" stroke="none" stroke-width="1"/>
<text x="454" y="1095" font-size="70" text-anchor="start" font-weight="bold" fill="#f8ee1c" font-family='"Liberation Serif", serif' textLength="25" lengthAdjust="spacingAndGlyphs">I</text>
<text x="479" y="1079" font-size="42" text-anchor="start" font-weight="bold" fill="#f8ee1c" font-family='"Liberation Serif", serif' textLength="21" lengthAdjust="spacingAndGlyphs">+</text>
<text x="578" y="1124" font-size="69" text-anchor="start" font-weight="bold" fill="#f8ee1c" font-family='"Liberation Serif", serif' textLength="45" lengthAdjust="spacingAndGlyphs">V</text>
<text x="626" y="1107" font-size="42" text-anchor="start" font-weight="bold" fill="#f8ee1c" font-family='"Liberation Serif", serif' textLength="21" lengthAdjust="spacingAndGlyphs">+</text>
<text x="610" y="1237" font-size="69" text-anchor="start" font-weight="bold" fill="#f8ee1c" font-family='"Liberation Serif", serif' textLength="45" lengthAdjust="spacingAndGlyphs">V</text>
<text x="658" y="1216" font-size="40" text-anchor="start" font-weight="bold" fill="#f8ee1c" font-family='"Liberation Serif", serif' textLength="13" lengthAdjust="spacingAndGlyphs">-</text>
<text x="535" y="1356" font-size="70" text-anchor="start" font-weight="bold" fill="#f8ee1c" font-family='"Liberation Serif", serif' textLength="25" lengthAdjust="spacingAndGlyphs">I</text>
<text x="561" y="1335.5" font-size="40" text-anchor="start" font-weight="bold" fill="#f8ee1c" font-family='"Liberation Serif", serif' textLength="12" lengthAdjust="spacingAndGlyphs">-</text>
<text x="278" y="1353" font-size="54" text-anchor="start" font-weight="bold" fill="#ffffff" font-family='"Liberation Sans", sans-serif' textLength="69" lengthAdjust="spacingAndGlyphs">N4</text>
<text x="614" y="1333" font-size="24" text-anchor="start" fill="#ffffff" font-family='"Liberation Sans", sans-serif' textLength="52" lengthAdjust="spacingAndGlyphs">1μm</text>
<line x1="618.6" y1="1344" x2="663.3" y2="1344" stroke="#ffffff" stroke-width="3"/>
</g>
<line x1="697" y1="1040.7" x2="697" y2="1360" stroke="#d8b0f4" stroke-width="2"/>
<line x1="270.2" y1="1040.7" x2="270.2" y2="1360" stroke="#b47af2" stroke-width="2"/>
<line x1="270.7" y1="1041.2" x2="698" y2="1041.2" stroke="#b884f4" stroke-width="2"/>
<g clip-path="url(#c5)">
<rect x="843.3" y="1452.2" width="452" height="337.5" fill="#7612dc"/>
<path d="M1200 1452 L1296 1452 L1296 1790 L999 1790 Z" fill="#6606c6" stroke="none" stroke-width="1"/>
<path d="M850.1 1428 L1085.1 1583 L1104.9 1553 L869.9 1398 Z" fill="#ff3c96" stroke="#ff62c6" stroke-width="2.5"/>
<path d="M789.7 1544.4 L1014.7 1695.4 L1035.3 1664.6 L810.3 1513.6 Z" fill="#ff3c96" stroke="#ff62c6" stroke-width="2.5"/>
<path d="M1180.1 1400.6 L1057.1 1609.6 L1088.9 1628.4 L1211.9 1419.4 Z" fill="#ff3c96" stroke="#ff62c6" stroke-width="2.5"/>
<path d="M1043.3 1622.5 L918.8 1825 L951.2 1845 L1075.7 1642.5 Z" fill="#ff3c96" stroke="#ff62c6" stroke-width="2.5"/>
<line x1="1074.6" y1="1624.6" x2="1068.2" y2="1635.7" stroke="#c0f0ff" stroke-width="3.5"/>
<line x1="1200" y1="1452" x2="999" y2="1790" stroke="#9a48ff" stroke-width="2.6"/>
<path d="M1296 1527.4 L1246.8 1540.4 L1226.6 1542.8 L1213.5 1551.2 L1188.5 1554.7 L1180.2 1566.6 L1175.5 1583.3 L1195.7 1607 L1225.4 1634.4 L1248 1652.3 L1255.2 1663 L1269.4 1669 L1276.6 1676 L1283.7 1692.7 L1286 1702.2 L1280.1 1711.7 L1296 1713 Z" fill="#06a070" stroke="#74ecd8" stroke-width="2.5"/>
<path d="M1231.4 1791.4 L1252.8 1773.6 L1261 1770 L1296 1767.6 L1296 1792 Z" fill="#06a070" stroke="#74ecd8" stroke-width="2"/>
<rect x="1186" y="1525" width="30" height="24" rx="3" fill="#a450f0" opacity="0.92" transform="rotate(-12 1201 1537)"/>
<rect x="1240.5" y="1704.4" width="34.1" height="27.9" rx="3" fill="#a450f0" opacity="0.92" transform="rotate(-12 1257.5 1718.3)"/>
<rect x="1257.2" y="1736.5" width="30.5" height="29" rx="3" fill="#a450f0" opacity="0.92" transform="rotate(-12 1272.5 1751)"/>
<line x1="1296" y1="1452" x2="1296" y2="1790" stroke="#e0d0f8" stroke-width="2.5"/>
<text x="1004" y="1508" font-size="69" text-anchor="start" font-weight="bold" fill="#f8ee1c" font-family='"Liberation Serif", serif' textLength="45" lengthAdjust="spacingAndGlyphs">V</text>
<text x="1051" y="1490" font-size="42" text-anchor="start" font-weight="bold" fill="#f8ee1c" font-family='"Liberation Serif", serif' textLength="21" lengthAdjust="spacingAndGlyphs">+</text>
<text x="921" y="1610" font-size="69" text-anchor="start" font-weight="bold" fill="#f8ee1c" font-family='"Liberation Serif", serif' textLength="45" lengthAdjust="spacingAndGlyphs">V</text>
<text x="969" y="1591" font-size="40" text-anchor="start" font-weight="bold" fill="#f8ee1c" font-family='"Liberation Serif", serif' textLength="12" lengthAdjust="spacingAndGlyphs">-</text>
<text x="1176" y="1512" font-size="70" text-anchor="start" font-weight="bold" fill="#f8ee1c" font-family='"Liberation Serif", serif' textLength="25" lengthAdjust="spacingAndGlyphs">I</text>
<text x="1203" y="1495" font-size="40" text-anchor="start" font-weight="bold" fill="#f8ee1c" font-family='"Liberation Serif", serif' textLength="21" lengthAdjust="spacingAndGlyphs">+</text>
<text x="1004" y="1789" font-size="70" text-anchor="start" font-weight="bold" fill="#f8ee1c" font-family='"Liberation Serif", serif' textLength="25" lengthAdjust="spacingAndGlyphs">I</text>
<text x="1031" y="1767.5" font-size="40" text-anchor="start" font-weight="bold" fill="#f8ee1c" font-family='"Liberation Serif", serif' textLength="12" lengthAdjust="spacingAndGlyphs">-</text>
<text x="853" y="1782" font-size="54" text-anchor="start" font-weight="bold" fill="#ffffff" font-family='"Liberation Sans", sans-serif' textLength="67" lengthAdjust="spacingAndGlyphs">N5</text>
<text x="1154" y="1760" font-size="28" text-anchor="start" fill="#ffffff" font-family='"Liberation Sans", sans-serif' textLength="66" lengthAdjust="spacingAndGlyphs">2μm</text>
<line x1="1151.7" y1="1775" x2="1224" y2="1775" stroke="#ffffff" stroke-width="4"/>
</g>
<line x1="843.3" y1="1453.5" x2="1295.2" y2="1453.5" stroke="#d8b8f4" stroke-width="2.5"/>
<path d="M327.6 1743.8 L400 1742.5 L440 1737.9 L473.3 1734.5 L506.6 1726.2 L540 1712.9 L573.2 1689.6 L590 1669.6 L606.5 1639.6 L623.2 1609.6 L640 1576.3 L651.5 1539.7 L656.5 1513 L663 1469.7 L669.8 1436.4 L674.8 1421.4 L686.5 1431.4 L696.5 1409.8 L706.5 1393 L713.1 1369.8 L726.4 1336.5 L741.4 1299.9 L756.4 1286.6 L773 1278.2 L789.7 1271.6 L823 1266.6 L867 1261.6 L978.4 1258.9 L1145.4 1256 L1301 1255" fill="none" stroke="#0a10e8" stroke-width="7.2" stroke-linejoin="round" stroke-linecap="round"/>
<path d="M327.6 1744.8 L440 1747.9 L573.2 1746.2 L640 1741.2 L669.8 1738.9 L674.8 1733.5 L686.5 1741.2 L703.1 1742.2 L706.5 1722.9 L714.8 1649.6 L726.4 1516.4 L739.8 1383.1 L753.1 1283.2 L766.4 1236.6 L773 1210 L784.7 1183.3 L799.7 1170 L823 1160 L867 1147.5 L922.7 1139.2 L978.4 1133.6 L1089.7 1129.2 L1201 1127 L1301 1125.3" fill="none" stroke="#ec0a14" stroke-width="7.2" stroke-linejoin="round" stroke-linecap="round"/>
<rect x="266.5" y="1037" width="1036.5" height="762.5" fill="none" stroke="#111" stroke-width="5"/>
<line x1="250" y1="1743.8" x2="266.5" y2="1743.8" stroke="#111" stroke-width="4.5"/>
<text x="238" y="1757.3" font-size="48" text-anchor="end" font-weight="bold" fill="#111" font-family='"Liberation Sans", sans-serif' textLength="26.3" lengthAdjust="spacingAndGlyphs">0</text>
<line x1="250" y1="1635" x2="266.5" y2="1635" stroke="#111" stroke-width="4.5"/>
<text x="238" y="1648.5" font-size="48" text-anchor="end" font-weight="bold" fill="#111" font-family='"Liberation Sans", sans-serif' textLength="78.9" lengthAdjust="spacingAndGlyphs">100</text>
<line x1="250" y1="1526.1" x2="266.5" y2="1526.1" stroke="#111" stroke-width="4.5"/>
<text x="238" y="1539.6" font-size="48" text-anchor="end" font-weight="bold" fill="#111" font-family='"Liberation Sans", sans-serif' textLength="78.9" lengthAdjust="spacingAndGlyphs">200</text>
<line x1="250" y1="1417.3" x2="266.5" y2="1417.3" stroke="#111" stroke-width="4.5"/>
<text x="238" y="1430.8" font-size="48" text-anchor="end" font-weight="bold" fill="#111" font-family='"Liberation Sans", sans-serif' textLength="78.9" lengthAdjust="spacingAndGlyphs">300</text>
<line x1="250" y1="1308.5" x2="266.5" y2="1308.5" stroke="#111" stroke-width="4.5"/>
<text x="238" y="1322" font-size="48" text-anchor="end" font-weight="bold" fill="#111" font-family='"Liberation Sans", sans-serif' textLength="78.9" lengthAdjust="spacingAndGlyphs">400</text>
<line x1="250" y1="1199.7" x2="266.5" y2="1199.7" stroke="#111" stroke-width="4.5"/>
<text x="238" y="1213.2" font-size="48" text-anchor="end" font-weight="bold" fill="#111" font-family='"Liberation Sans", sans-serif' textLength="78.9" lengthAdjust="spacingAndGlyphs">500</text>
<line x1="250" y1="1090.8" x2="266.5" y2="1090.8" stroke="#111" stroke-width="4.5"/>
<text x="238" y="1104.3" font-size="48" text-anchor="end" font-weight="bold" fill="#111" font-family='"Liberation Sans", sans-serif' textLength="78.9" lengthAdjust="spacingAndGlyphs">600</text>
<line x1="257.5" y1="1798.2" x2="266.5" y2="1798.2" stroke="#111" stroke-width="4.5"/>
<line x1="257.5" y1="1689.4" x2="266.5" y2="1689.4" stroke="#111" stroke-width="4.5"/>
<line x1="257.5" y1="1580.6" x2="266.5" y2="1580.6" stroke="#111" stroke-width="4.5"/>
<line x1="257.5" y1="1471.7" x2="266.5" y2="1471.7" stroke="#111" stroke-width="4.5"/>
<line x1="257.5" y1="1362.9" x2="266.5" y2="1362.9" stroke="#111" stroke-width="4.5"/>
<line x1="257.5" y1="1254.1" x2="266.5" y2="1254.1" stroke="#111" stroke-width="4.5"/>
<line x1="257.5" y1="1145.2" x2="266.5" y2="1145.2" stroke="#111" stroke-width="4.5"/>
<line x1="257.5" y1="1036.4" x2="266.5" y2="1036.4" stroke="#111" stroke-width="4.5"/>
<line x1="327.6" y1="1800" x2="327.6" y2="1817" stroke="#111" stroke-width="4.5"/>
<text x="327.6" y="1862.5" font-size="47" text-anchor="middle" font-weight="bold" fill="#111" font-family='"Liberation Sans", sans-serif' textLength="25.5" lengthAdjust="spacingAndGlyphs">2</text>
<line x1="449.3" y1="1800" x2="449.3" y2="1817" stroke="#111" stroke-width="4.5"/>
<text x="449.3" y="1862.5" font-size="47" text-anchor="middle" font-weight="bold" fill="#111" font-family='"Liberation Sans", sans-serif' textLength="25.5" lengthAdjust="spacingAndGlyphs">3</text>
<line x1="571" y1="1800" x2="571" y2="1817" stroke="#111" stroke-width="4.5"/>
<text x="571" y="1862.5" font-size="47" text-anchor="middle" font-weight="bold" fill="#111" font-family='"Liberation Sans", sans-serif' textLength="25.5" lengthAdjust="spacingAndGlyphs">4</text>
<line x1="692.7" y1="1800" x2="692.7" y2="1817" stroke="#111" stroke-width="4.5"/>
<text x="692.7" y="1862.5" font-size="47" text-anchor="middle" font-weight="bold" fill="#111" font-family='"Liberation Sans", sans-serif' textLength="25.5" lengthAdjust="spacingAndGlyphs">5</text>
<line x1="814.4" y1="1800" x2="814.4" y2="1817" stroke="#111" stroke-width="4.5"/>
<text x="814.4" y="1862.5" font-size="47" text-anchor="middle" font-weight="bold" fill="#111" font-family='"Liberation Sans", sans-serif' textLength="25.5" lengthAdjust="spacingAndGlyphs">6</text>
<line x1="936.1" y1="1800" x2="936.1" y2="1817" stroke="#111" stroke-width="4.5"/>
<text x="936.1" y="1862.5" font-size="47" text-anchor="middle" font-weight="bold" fill="#111" font-family='"Liberation Sans", sans-serif' textLength="25.5" lengthAdjust="spacingAndGlyphs">7</text>
<line x1="1057.8" y1="1800" x2="1057.8" y2="1817" stroke="#111" stroke-width="4.5"/>
<text x="1057.8" y="1862.5" font-size="47" text-anchor="middle" font-weight="bold" fill="#111" font-family='"Liberation Sans", sans-serif' textLength="25.5" lengthAdjust="spacingAndGlyphs">8</text>
<line x1="1179.5" y1="1800" x2="1179.5" y2="1817" stroke="#111" stroke-width="4.5"/>
<text x="1179.5" y="1862.5" font-size="47" text-anchor="middle" font-weight="bold" fill="#111" font-family='"Liberation Sans", sans-serif' textLength="25.5" lengthAdjust="spacingAndGlyphs">9</text>
<line x1="1301.2" y1="1800" x2="1301.2" y2="1817" stroke="#111" stroke-width="4.5"/>
<text x="1301.2" y="1862.5" font-size="47" text-anchor="middle" font-weight="bold" fill="#111" font-family='"Liberation Sans", sans-serif' textLength="51" lengthAdjust="spacingAndGlyphs">10</text>
<line x1="266.8" y1="1800" x2="266.8" y2="1809.5" stroke="#111" stroke-width="4.5"/>
<line x1="388.5" y1="1800" x2="388.5" y2="1809.5" stroke="#111" stroke-width="4.5"/>
<line x1="510.2" y1="1800" x2="510.2" y2="1809.5" stroke="#111" stroke-width="4.5"/>
<line x1="631.9" y1="1800" x2="631.9" y2="1809.5" stroke="#111" stroke-width="4.5"/>
<line x1="753.5" y1="1800" x2="753.5" y2="1809.5" stroke="#111" stroke-width="4.5"/>
<line x1="875.2" y1="1800" x2="875.2" y2="1809.5" stroke="#111" stroke-width="4.5"/>
<line x1="997" y1="1800" x2="997" y2="1809.5" stroke="#111" stroke-width="4.5"/>
<line x1="1118.7" y1="1800" x2="1118.7" y2="1809.5" stroke="#111" stroke-width="4.5"/>
<line x1="1240.3" y1="1800" x2="1240.3" y2="1809.5" stroke="#111" stroke-width="4.5"/>
<text x="723" y="1923" font-size="57" text-anchor="start" font-weight="bold" fill="#111" font-family='"Liberation Sans", sans-serif' textLength="121" lengthAdjust="spacingAndGlyphs">T(K)</text>
<text x="136" y="1524" font-size="60" text-anchor="start" font-weight="bold" fill="#111" font-family='"Liberation Sans", sans-serif' textLength="127" lengthAdjust="spacingAndGlyphs" transform="rotate(-90 136 1524)">R(Ω)</text>
<text x="61" y="1044" font-size="70" text-anchor="start" fill="#1e1e1e" font-family='"Liberation Sans", sans-serif' stroke="#fff" stroke-width="0.9" textLength="79" lengthAdjust="spacingAndGlyphs">(b)</text>
<text x="946" y="1101" font-size="52" text-anchor="start" font-weight="bold" fill="#ec0a14" font-family='"Liberation Sans", sans-serif' textLength="346" lengthAdjust="spacingAndGlyphs">N5 (286 nm)</text>
<text x="946" y="1226" font-size="52" text-anchor="start" font-weight="bold" fill="#0a10e8" font-family='"Liberation Sans", sans-serif' textLength="346" lengthAdjust="spacingAndGlyphs">N4 (368 nm)</text>
<defs><clipPath id="cc"><rect x="287.5" y="1963.5" width="1011" height="712.5"/></clipPath></defs>
<g clip-path="url(#cc)">
<path d="M1298 2066.2 L1310.9 2091 L1285.1 2091 Z" fill="#fff" stroke="#1414dc" stroke-width="2.8" stroke-linejoin="round"/>
<path d="M1285.4 2065.9 L1298.3 2090.7 L1272.5 2090.7 Z" fill="#fff" stroke="#1414dc" stroke-width="2.8" stroke-linejoin="round"/>
<path d="M1272.8 2066.9 L1285.7 2091.7 L1259.9 2091.7 Z" fill="#fff" stroke="#1414dc" stroke-width="2.8" stroke-linejoin="round"/>
<path d="M1260.2 2065.7 L1273.1 2090.5 L1247.3 2090.5 Z" fill="#fff" stroke="#1414dc" stroke-width="2.8" stroke-linejoin="round"/>
<path d="M1247.6 2066.7 L1260.5 2091.5 L1234.7 2091.5 Z" fill="#fff" stroke="#1414dc" stroke-width="2.8" stroke-linejoin="round"/>
<path d="M1235 2066.3 L1247.9 2091.1 L1222.1 2091.1 Z" fill="#fff" stroke="#1414dc" stroke-width="2.8" stroke-linejoin="round"/>
<path d="M1222.4 2065.7 L1235.3 2090.5 L1209.5 2090.5 Z" fill="#fff" stroke="#1414dc" stroke-width="2.8" stroke-linejoin="round"/>
<path d="M1209.8 2066.6 L1222.7 2091.4 L1196.9 2091.4 Z" fill="#fff" stroke="#1414dc" stroke-width="2.8" stroke-linejoin="round"/>
<path d="M1197.2 2065.7 L1210.1 2090.5 L1184.3 2090.5 Z" fill="#fff" stroke="#1414dc" stroke-width="2.8" stroke-linejoin="round"/>
<path d="M1184.6 2066.5 L1197.5 2091.3 L1171.7 2091.3 Z" fill="#fff" stroke="#1414dc" stroke-width="2.8" stroke-linejoin="round"/>
<path d="M1172 2065.7 L1184.9 2090.5 L1159.1 2090.5 Z" fill="#fff" stroke="#1414dc" stroke-width="2.8" stroke-linejoin="round"/>
<path d="M1159.4 2065.8 L1172.3 2090.6 L1146.5 2090.6 Z" fill="#fff" stroke="#1414dc" stroke-width="2.8" stroke-linejoin="round"/>
<path d="M1146.8 2066.4 L1159.7 2091.2 L1133.9 2091.2 Z" fill="#fff" stroke="#1414dc" stroke-width="2.8" stroke-linejoin="round"/>
<path d="M1134.2 2067.3 L1147.1 2092.1 L1121.3 2092.1 Z" fill="#fff" stroke="#1414dc" stroke-width="2.8" stroke-linejoin="round"/>
<path d="M1121.6 2065.8 L1134.5 2090.6 L1108.7 2090.6 Z" fill="#fff" stroke="#1414dc" stroke-width="2.8" stroke-linejoin="round"/>
<path d="M1109 2066 L1121.9 2090.8 L1096.1 2090.8 Z" fill="#fff" stroke="#1414dc" stroke-width="2.8" stroke-linejoin="round"/>
<path d="M1096.4 2066.9 L1109.3 2091.7 L1083.5 2091.7 Z" fill="#fff" stroke="#1414dc" stroke-width="2.8" stroke-linejoin="round"/>
<path d="M1083.8 2067.5 L1096.7 2092.3 L1070.9 2092.3 Z" fill="#fff" stroke="#1414dc" stroke-width="2.8" stroke-linejoin="round"/>
<path d="M1071.2 2066.8 L1084.1 2091.6 L1058.3 2091.6 Z" fill="#fff" stroke="#1414dc" stroke-width="2.8" stroke-linejoin="round"/>
<path d="M1058.6 2066.4 L1071.5 2091.2 L1045.7 2091.2 Z" fill="#fff" stroke="#1414dc" stroke-width="2.8" stroke-linejoin="round"/>
<path d="M1046 2067.6 L1058.9 2092.4 L1033.1 2092.4 Z" fill="#fff" stroke="#1414dc" stroke-width="2.8" stroke-linejoin="round"/>
<path d="M1033.4 2065.7 L1046.3 2090.5 L1020.5 2090.5 Z" fill="#fff" stroke="#1414dc" stroke-width="2.8" stroke-linejoin="round"/>
<path d="M1020.8 2067.3 L1033.7 2092.1 L1007.9 2092.1 Z" fill="#fff" stroke="#1414dc" stroke-width="2.8" stroke-linejoin="round"/>
<path d="M1008.2 2066.2 L1021.1 2091 L995.3 2091 Z" fill="#fff" stroke="#1414dc" stroke-width="2.8" stroke-linejoin="round"/>
<path d="M995.6 2065.9 L1008.5 2090.7 L982.7 2090.7 Z" fill="#fff" stroke="#1414dc" stroke-width="2.8" stroke-linejoin="round"/>
<path d="M983 2065.8 L995.9 2090.6 L970.1 2090.6 Z" fill="#fff" stroke="#1414dc" stroke-width="2.8" stroke-linejoin="round"/>
<path d="M970.4 2066.2 L983.3 2091 L957.5 2091 Z" fill="#fff" stroke="#1414dc" stroke-width="2.8" stroke-linejoin="round"/>
<path d="M957.8 2067.2 L970.7 2092 L944.9 2092 Z" fill="#fff" stroke="#1414dc" stroke-width="2.8" stroke-linejoin="round"/>
<path d="M945.2 2066 L958.1 2090.8 L932.3 2090.8 Z" fill="#fff" stroke="#1414dc" stroke-width="2.8" stroke-linejoin="round"/>
<path d="M932.6 2066.8 L945.5 2091.6 L919.7 2091.6 Z" fill="#fff" stroke="#1414dc" stroke-width="2.8" stroke-linejoin="round"/>
<path d="M920 2066.9 L932.9 2091.7 L907.1 2091.7 Z" fill="#fff" stroke="#1414dc" stroke-width="2.8" stroke-linejoin="round"/>
<path d="M907.4 2066.3 L920.3 2091.1 L894.5 2091.1 Z" fill="#fff" stroke="#1414dc" stroke-width="2.8" stroke-linejoin="round"/>
<path d="M894.8 2066.7 L907.7 2091.5 L881.9 2091.5 Z" fill="#fff" stroke="#1414dc" stroke-width="2.8" stroke-linejoin="round"/>
<path d="M882.2 2065.7 L895.1 2090.5 L869.3 2090.5 Z" fill="#fff" stroke="#1414dc" stroke-width="2.8" stroke-linejoin="round"/>
<path d="M869.6 2065.7 L882.5 2090.5 L856.7 2090.5 Z" fill="#fff" stroke="#1414dc" stroke-width="2.8" stroke-linejoin="round"/>
<path d="M857 2066 L869.9 2090.8 L844.1 2090.8 Z" fill="#fff" stroke="#1414dc" stroke-width="2.8" stroke-linejoin="round"/>
<path d="M844.4 2067 L857.3 2091.8 L831.5 2091.8 Z" fill="#fff" stroke="#1414dc" stroke-width="2.8" stroke-linejoin="round"/>
<path d="M831.8 2066.5 L844.7 2091.3 L818.9 2091.3 Z" fill="#fff" stroke="#1414dc" stroke-width="2.8" stroke-linejoin="round"/>
<path d="M819.2 2066.2 L832.1 2091 L806.3 2091 Z" fill="#fff" stroke="#1414dc" stroke-width="2.8" stroke-linejoin="round"/>
<path d="M806.6 2066.8 L819.5 2091.6 L793.7 2091.6 Z" fill="#fff" stroke="#1414dc" stroke-width="2.8" stroke-linejoin="round"/>
<path d="M794 2066.5 L806.9 2091.3 L781.1 2091.3 Z" fill="#fff" stroke="#1414dc" stroke-width="2.8" stroke-linejoin="round"/>
<path d="M781.4 2066.2 L794.3 2091 L768.5 2091 Z" fill="#fff" stroke="#1414dc" stroke-width="2.8" stroke-linejoin="round"/>
<path d="M768.8 2067.2 L781.7 2092 L755.9 2092 Z" fill="#fff" stroke="#1414dc" stroke-width="2.8" stroke-linejoin="round"/>
<path d="M756.2 2067 L769.1 2091.8 L743.3 2091.8 Z" fill="#fff" stroke="#1414dc" stroke-width="2.8" stroke-linejoin="round"/>
<path d="M743.6 2066.1 L756.5 2090.9 L730.7 2090.9 Z" fill="#fff" stroke="#1414dc" stroke-width="2.8" stroke-linejoin="round"/>
<path d="M731 2066.7 L743.9 2091.5 L718.1 2091.5 Z" fill="#fff" stroke="#1414dc" stroke-width="2.8" stroke-linejoin="round"/>
<path d="M718.4 2066.7 L731.3 2091.5 L705.5 2091.5 Z" fill="#fff" stroke="#1414dc" stroke-width="2.8" stroke-linejoin="round"/>
<path d="M705.8 2067.4 L718.7 2092.2 L692.9 2092.2 Z" fill="#fff" stroke="#1414dc" stroke-width="2.8" stroke-linejoin="round"/>
<path d="M693.2 2067.1 L706.1 2091.9 L680.3 2091.9 Z" fill="#fff" stroke="#1414dc" stroke-width="2.8" stroke-linejoin="round"/>
<path d="M680.6 2066.2 L693.5 2091 L667.7 2091 Z" fill="#fff" stroke="#1414dc" stroke-width="2.8" stroke-linejoin="round"/>
<path d="M668 2067.6 L680.9 2092.4 L655.1 2092.4 Z" fill="#fff" stroke="#1414dc" stroke-width="2.8" stroke-linejoin="round"/>
<path d="M655.4 2065.8 L668.3 2090.6 L642.5 2090.6 Z" fill="#fff" stroke="#1414dc" stroke-width="2.8" stroke-linejoin="round"/>
<path d="M642.8 2066.4 L655.7 2091.2 L629.9 2091.2 Z" fill="#fff" stroke="#1414dc" stroke-width="2.8" stroke-linejoin="round"/>
<path d="M630.2 2067.1 L643.1 2091.9 L617.3 2091.9 Z" fill="#fff" stroke="#1414dc" stroke-width="2.8" stroke-linejoin="round"/>
<path d="M617.6 2065.9 L630.5 2090.7 L604.7 2090.7 Z" fill="#fff" stroke="#1414dc" stroke-width="2.8" stroke-linejoin="round"/>
<path d="M605 2066.6 L617.9 2091.4 L592.1 2091.4 Z" fill="#fff" stroke="#1414dc" stroke-width="2.8" stroke-linejoin="round"/>
<path d="M592.4 2065.7 L605.3 2090.5 L579.5 2090.5 Z" fill="#fff" stroke="#1414dc" stroke-width="2.8" stroke-linejoin="round"/>
<path d="M579.8 2066.9 L592.7 2091.7 L566.9 2091.7 Z" fill="#fff" stroke="#1414dc" stroke-width="2.8" stroke-linejoin="round"/>
<path d="M567.2 2067.1 L580.1 2091.9 L554.3 2091.9 Z" fill="#fff" stroke="#1414dc" stroke-width="2.8" stroke-linejoin="round"/>
<path d="M554.6 2066.7 L567.5 2091.5 L541.7 2091.5 Z" fill="#fff" stroke="#1414dc" stroke-width="2.8" stroke-linejoin="round"/>
<path d="M542 2067.4 L554.9 2092.2 L529.1 2092.2 Z" fill="#fff" stroke="#1414dc" stroke-width="2.8" stroke-linejoin="round"/>
<path d="M527 2075.5 L539.9 2100.3 L514.1 2100.3 Z" fill="#fff" stroke="#1414dc" stroke-width="2.8" stroke-linejoin="round"/>
<path d="M518 2076 L530.9 2100.8 L505.1 2100.8 Z" fill="#fff" stroke="#1414dc" stroke-width="2.8" stroke-linejoin="round"/>
<path d="M508.1 2078 L521 2102.8 L495.2 2102.8 Z" fill="#fff" stroke="#1414dc" stroke-width="2.8" stroke-linejoin="round"/>
<path d="M496.2 2083 L509.1 2107.8 L483.3 2107.8 Z" fill="#fff" stroke="#1414dc" stroke-width="2.8" stroke-linejoin="round"/>
<path d="M486.3 2085.9 L499.2 2110.7 L473.4 2110.7 Z" fill="#fff" stroke="#1414dc" stroke-width="2.8" stroke-linejoin="round"/>
<path d="M476.4 2088.9 L489.3 2113.7 L463.5 2113.7 Z" fill="#fff" stroke="#1414dc" stroke-width="2.8" stroke-linejoin="round"/>
<path d="M466.4 2091.9 L479.3 2116.7 L453.5 2116.7 Z" fill="#fff" stroke="#1414dc" stroke-width="2.8" stroke-linejoin="round"/>
<path d="M458.5 2095.9 L471.4 2120.7 L445.6 2120.7 Z" fill="#fff" stroke="#1414dc" stroke-width="2.8" stroke-linejoin="round"/>
<path d="M448.6 2099.8 L461.5 2124.6 L435.7 2124.6 Z" fill="#fff" stroke="#1414dc" stroke-width="2.8" stroke-linejoin="round"/>
<path d="M437.7 2104.8 L450.6 2129.6 L424.8 2129.6 Z" fill="#fff" stroke="#1414dc" stroke-width="2.8" stroke-linejoin="round"/>
<path d="M426.8 2109.7 L439.7 2134.5 L413.9 2134.5 Z" fill="#fff" stroke="#1414dc" stroke-width="2.8" stroke-linejoin="round"/>
<path d="M416.1 2113.8 L429 2138.6 L403.2 2138.6 Z" fill="#fff" stroke="#1414dc" stroke-width="2.8" stroke-linejoin="round"/>
<path d="M403.8 2119.5 L416.7 2144.3 L390.9 2144.3 Z" fill="#fff" stroke="#1414dc" stroke-width="2.8" stroke-linejoin="round"/>
<path d="M392.8 2126.2 L405.7 2151 L379.9 2151 Z" fill="#fff" stroke="#1414dc" stroke-width="2.8" stroke-linejoin="round"/>
<path d="M381.4 2129.5 L394.3 2154.3 L368.5 2154.3 Z" fill="#fff" stroke="#1414dc" stroke-width="2.8" stroke-linejoin="round"/>
<path d="M368.5 2136.6 L381.4 2161.4 L355.6 2161.4 Z" fill="#fff" stroke="#1414dc" stroke-width="2.8" stroke-linejoin="round"/>
<path d="M358 2143.3 L370.9 2168.1 L345.1 2168.1 Z" fill="#fff" stroke="#1414dc" stroke-width="2.8" stroke-linejoin="round"/>
<path d="M348.5 2150 L361.4 2174.8 L335.6 2174.8 Z" fill="#fff" stroke="#1414dc" stroke-width="2.8" stroke-linejoin="round"/>
<path d="M334.3 2154.8 L347.2 2179.6 L321.4 2179.6 Z" fill="#fff" stroke="#1414dc" stroke-width="2.8" stroke-linejoin="round"/>
<path d="M331 2154.6 L343.9 2179.4 L318.1 2179.4 Z" fill="#fff" stroke="#1414dc" stroke-width="2.8" stroke-linejoin="round"/>
<path d="M328.8 2155.2 L341.7 2180 L315.9 2180 Z" fill="#fff" stroke="#1414dc" stroke-width="2.8" stroke-linejoin="round"/>
<path d="M326.6 2155.8 L339.5 2180.6 L313.7 2180.6 Z" fill="#fff" stroke="#1414dc" stroke-width="2.8" stroke-linejoin="round"/>
<path d="M324.4 2156.4 L337.3 2181.2 L311.5 2181.2 Z" fill="#fff" stroke="#1414dc" stroke-width="2.8" stroke-linejoin="round"/>
<path d="M322.2 2157 L335.1 2181.8 L309.3 2181.8 Z" fill="#fff" stroke="#1414dc" stroke-width="2.8" stroke-linejoin="round"/>
<path d="M320 2157.6 L332.9 2182.4 L307.1 2182.4 Z" fill="#fff" stroke="#1414dc" stroke-width="2.8" stroke-linejoin="round"/>
<path d="M317.2 2157.6 L330.1 2182.4 L304.3 2182.4 Z" fill="#fff" stroke="#1414dc" stroke-width="2.8" stroke-linejoin="round"/>
<circle cx="1228" cy="2087.5" r="11.8" fill="#fff" stroke="#22e622" stroke-width="3.3"/>
<circle cx="1221.7" cy="2088.2" r="11.8" fill="#fff" stroke="#22e622" stroke-width="3.3"/>
<circle cx="1216" cy="2087.9" r="11.8" fill="#fff" stroke="#22e622" stroke-width="3.3"/>
<circle cx="1208.9" cy="2089.2" r="11.8" fill="#fff" stroke="#22e622" stroke-width="3.3"/>
<circle cx="1203.8" cy="2088.4" r="11.8" fill="#fff" stroke="#22e622" stroke-width="3.3"/>
<circle cx="1200.9" cy="2088.5" r="11.8" fill="#fff" stroke="#22e622" stroke-width="3.3"/>
<circle cx="1194.9" cy="2089.3" r="11.8" fill="#fff" stroke="#22e622" stroke-width="3.3"/>
<circle cx="1187.8" cy="2087.4" r="11.8" fill="#fff" stroke="#22e622" stroke-width="3.3"/>
<circle cx="1183.2" cy="2088.4" r="11.8" fill="#fff" stroke="#22e622" stroke-width="3.3"/>
<circle cx="1180.6" cy="2087.9" r="11.8" fill="#fff" stroke="#22e622" stroke-width="3.3"/>
<circle cx="1177.2" cy="2087" r="11.8" fill="#fff" stroke="#22e622" stroke-width="3.3"/>
<circle cx="1174.4" cy="2088.7" r="11.8" fill="#fff" stroke="#22e622" stroke-width="3.3"/>
<circle cx="1171.1" cy="2087.3" r="11.8" fill="#fff" stroke="#22e622" stroke-width="3.3"/>
<circle cx="1166.5" cy="2089" r="11.8" fill="#fff" stroke="#22e622" stroke-width="3.3"/>
<circle cx="1163.5" cy="2087.9" r="11.8" fill="#fff" stroke="#22e622" stroke-width="3.3"/>
<circle cx="1158" cy="2089" r="11.8" fill="#fff" stroke="#22e622" stroke-width="3.3"/>
<circle cx="1151" cy="2088.9" r="11.8" fill="#fff" stroke="#22e622" stroke-width="3.3"/>
<circle cx="1147" cy="2087.8" r="11.8" fill="#fff" stroke="#22e622" stroke-width="3.3"/>
<circle cx="1142.5" cy="2089" r="11.8" fill="#fff" stroke="#22e622" stroke-width="3.3"/>
<circle cx="1134.7" cy="2087.1" r="11.8" fill="#fff" stroke="#22e622" stroke-width="3.3"/>
<circle cx="1131.3" cy="2087.3" r="11.8" fill="#fff" stroke="#22e622" stroke-width="3.3"/>
<circle cx="1127.5" cy="2088" r="11.8" fill="#fff" stroke="#22e622" stroke-width="3.3"/>
<circle cx="1121.8" cy="2087.4" r="11.8" fill="#fff" stroke="#22e622" stroke-width="3.3"/>
<circle cx="1119.2" cy="2087.8" r="11.8" fill="#fff" stroke="#22e622" stroke-width="3.3"/>
<circle cx="1114.7" cy="2088.2" r="11.8" fill="#fff" stroke="#22e622" stroke-width="3.3"/>
<circle cx="1107" cy="2088.5" r="11.8" fill="#fff" stroke="#22e622" stroke-width="3.3"/>
<circle cx="1101.6" cy="2088.3" r="11.8" fill="#fff" stroke="#22e622" stroke-width="3.3"/>
<circle cx="1095.4" cy="2086.8" r="11.8" fill="#fff" stroke="#22e622" stroke-width="3.3"/>
<circle cx="1088" cy="2088.6" r="11.8" fill="#fff" stroke="#22e622" stroke-width="3.3"/>
<circle cx="1080.6" cy="2088.6" r="11.8" fill="#fff" stroke="#22e622" stroke-width="3.3"/>
<circle cx="1076" cy="2087.5" r="11.8" fill="#fff" stroke="#22e622" stroke-width="3.3"/>
<circle cx="1072.9" cy="2088.1" r="11.8" fill="#fff" stroke="#22e622" stroke-width="3.3"/>
<circle cx="1070.1" cy="2086.6" r="11.8" fill="#fff" stroke="#22e622" stroke-width="3.3"/>
<circle cx="1066.4" cy="2086.8" r="11.8" fill="#fff" stroke="#22e622" stroke-width="3.3"/>
<circle cx="1062.1" cy="2086.5" r="11.8" fill="#fff" stroke="#22e622" stroke-width="3.3"/>
<circle cx="1059.6" cy="2086.7" r="11.8" fill="#fff" stroke="#22e622" stroke-width="3.3"/>
<circle cx="1056.5" cy="2087.2" r="11.8" fill="#fff" stroke="#22e622" stroke-width="3.3"/>
<circle cx="1053.9" cy="2088.5" r="11.8" fill="#fff" stroke="#22e622" stroke-width="3.3"/>
<circle cx="1048" cy="2086.6" r="11.8" fill="#fff" stroke="#22e622" stroke-width="3.3"/>
<circle cx="1044.1" cy="2087" r="11.8" fill="#fff" stroke="#22e622" stroke-width="3.3"/>
<circle cx="1039.6" cy="2086.4" r="11.8" fill="#fff" stroke="#22e622" stroke-width="3.3"/>
<circle cx="1032.4" cy="2088.6" r="11.8" fill="#fff" stroke="#22e622" stroke-width="3.3"/>
<circle cx="1027.4" cy="2087.2" r="11.8" fill="#fff" stroke="#22e622" stroke-width="3.3"/>
<circle cx="1024.4" cy="2086.2" r="11.8" fill="#fff" stroke="#22e622" stroke-width="3.3"/>
<circle cx="1020" cy="2086.6" r="11.8" fill="#fff" stroke="#22e622" stroke-width="3.3"/>
<circle cx="1012.9" cy="2086.2" r="11.8" fill="#fff" stroke="#22e622" stroke-width="3.3"/>
<circle cx="1010.3" cy="2088.3" r="11.8" fill="#fff" stroke="#22e622" stroke-width="3.3"/>
<circle cx="1004.9" cy="2086.1" r="11.8" fill="#fff" stroke="#22e622" stroke-width="3.3"/>
<circle cx="999.4" cy="2085.8" r="11.8" fill="#fff" stroke="#22e622" stroke-width="3.3"/>
<circle cx="994" cy="2088.2" r="11.8" fill="#fff" stroke="#22e622" stroke-width="3.3"/>
<circle cx="986.8" cy="2087.5" r="11.8" fill="#fff" stroke="#22e622" stroke-width="3.3"/>
<circle cx="982.8" cy="2086.7" r="11.8" fill="#fff" stroke="#22e622" stroke-width="3.3"/>
<circle cx="979.4" cy="2087.7" r="11.8" fill="#fff" stroke="#22e622" stroke-width="3.3"/>
<circle cx="974" cy="2087.7" r="11.8" fill="#fff" stroke="#22e622" stroke-width="3.3"/>
<circle cx="969.7" cy="2086.3" r="11.8" fill="#fff" stroke="#22e622" stroke-width="3.3"/>
<circle cx="962.7" cy="2088.3" r="11.8" fill="#fff" stroke="#22e622" stroke-width="3.3"/>
<circle cx="955.5" cy="2087.8" r="11.8" fill="#fff" stroke="#22e622" stroke-width="3.3"/>
<circle cx="948.5" cy="2087.6" r="11.8" fill="#fff" stroke="#22e622" stroke-width="3.3"/>
<circle cx="944.8" cy="2087" r="11.8" fill="#fff" stroke="#22e622" stroke-width="3.3"/>
<circle cx="940.3" cy="2085.8" r="11.8" fill="#fff" stroke="#22e622" stroke-width="3.3"/>
<circle cx="937.7" cy="2086.4" r="11.8" fill="#fff" stroke="#22e622" stroke-width="3.3"/>
<circle cx="933.7" cy="2087.5" r="11.8" fill="#fff" stroke="#22e622" stroke-width="3.3"/>
<circle cx="926" cy="2086.9" r="11.8" fill="#fff" stroke="#22e622" stroke-width="3.3"/>
<circle cx="918.3" cy="2088.3" r="11.8" fill="#fff" stroke="#22e622" stroke-width="3.3"/>
<circle cx="910.6" cy="2086.6" r="11.8" fill="#fff" stroke="#22e622" stroke-width="3.3"/>
<circle cx="906.9" cy="2086.3" r="11.8" fill="#fff" stroke="#22e622" stroke-width="3.3"/>
<circle cx="903.3" cy="2086.2" r="11.8" fill="#fff" stroke="#22e622" stroke-width="3.3"/>
<circle cx="897.3" cy="2088" r="11.8" fill="#fff" stroke="#22e622" stroke-width="3.3"/>
<circle cx="890.2" cy="2086.8" r="11.8" fill="#fff" stroke="#22e622" stroke-width="3.3"/>
<circle cx="884.1" cy="2087.6" r="11.8" fill="#fff" stroke="#22e622" stroke-width="3.3"/>
<circle cx="881.2" cy="2087.2" r="11.8" fill="#fff" stroke="#22e622" stroke-width="3.3"/>
<circle cx="873.7" cy="2087.5" r="11.8" fill="#fff" stroke="#22e622" stroke-width="3.3"/>
<circle cx="867" cy="2086.6" r="11.8" fill="#fff" stroke="#22e622" stroke-width="3.3"/>
<circle cx="863.6" cy="2087.4" r="11.8" fill="#fff" stroke="#22e622" stroke-width="3.3"/>
<circle cx="859.2" cy="2087.4" r="11.8" fill="#fff" stroke="#22e622" stroke-width="3.3"/>
<circle cx="851.4" cy="2086.2" r="11.8" fill="#fff" stroke="#22e622" stroke-width="3.3"/>
<circle cx="846.7" cy="2087.6" r="11.8" fill="#fff" stroke="#22e622" stroke-width="3.3"/>
<circle cx="840.2" cy="2085.5" r="11.8" fill="#fff" stroke="#22e622" stroke-width="3.3"/>
<circle cx="837" cy="2085.5" r="11.8" fill="#fff" stroke="#22e622" stroke-width="3.3"/>
<circle cx="829.5" cy="2087.1" r="11.8" fill="#fff" stroke="#22e622" stroke-width="3.3"/>
<circle cx="826.2" cy="2087.1" r="11.8" fill="#fff" stroke="#22e622" stroke-width="3.3"/>
<circle cx="818.3" cy="2086.6" r="11.8" fill="#fff" stroke="#22e622" stroke-width="3.3"/>
<circle cx="813.9" cy="2086.3" r="11.8" fill="#fff" stroke="#22e622" stroke-width="3.3"/>
<circle cx="810.7" cy="2084.8" r="11.8" fill="#fff" stroke="#22e622" stroke-width="3.3"/>
<circle cx="802.8" cy="2086.4" r="11.8" fill="#fff" stroke="#22e622" stroke-width="3.3"/>
<circle cx="797.4" cy="2087.2" r="11.8" fill="#fff" stroke="#22e622" stroke-width="3.3"/>
<circle cx="792.5" cy="2087.2" r="11.8" fill="#fff" stroke="#22e622" stroke-width="3.3"/>
<circle cx="785.5" cy="2085.7" r="11.8" fill="#fff" stroke="#22e622" stroke-width="3.3"/>
<circle cx="781.6" cy="2086" r="11.8" fill="#fff" stroke="#22e622" stroke-width="3.3"/>
<circle cx="777.8" cy="2086.9" r="11.8" fill="#fff" stroke="#22e622" stroke-width="3.3"/>
<circle cx="773.9" cy="2086.6" r="11.8" fill="#fff" stroke="#22e622" stroke-width="3.3"/>
<circle cx="770.6" cy="2087.9" r="11.8" fill="#fff" stroke="#22e622" stroke-width="3.3"/>
<circle cx="766.2" cy="2086.9" r="11.8" fill="#fff" stroke="#22e622" stroke-width="3.3"/>
<circle cx="760.5" cy="2088.2" r="11.8" fill="#fff" stroke="#22e622" stroke-width="3.3"/>
<circle cx="755.7" cy="2088.4" r="11.8" fill="#fff" stroke="#22e622" stroke-width="3.3"/>
<circle cx="750.4" cy="2087.6" r="11.8" fill="#fff" stroke="#22e622" stroke-width="3.3"/>
<circle cx="745" cy="2086.4" r="11.8" fill="#fff" stroke="#22e622" stroke-width="3.3"/>
<circle cx="740.1" cy="2087" r="11.8" fill="#fff" stroke="#22e622" stroke-width="3.3"/>
<circle cx="737.6" cy="2088.6" r="11.8" fill="#fff" stroke="#22e622" stroke-width="3.3"/>
<circle cx="734.1" cy="2087.9" r="11.8" fill="#fff" stroke="#22e622" stroke-width="3.3"/>
<circle cx="727.7" cy="2088.3" r="11.8" fill="#fff" stroke="#22e622" stroke-width="3.3"/>
<circle cx="723.4" cy="2088.3" r="11.8" fill="#fff" stroke="#22e622" stroke-width="3.3"/>
<circle cx="717.8" cy="2089.2" r="11.8" fill="#fff" stroke="#22e622" stroke-width="3.3"/>
<circle cx="714.7" cy="2088.7" r="11.8" fill="#fff" stroke="#22e622" stroke-width="3.3"/>
<circle cx="710.9" cy="2088.1" r="11.8" fill="#fff" stroke="#22e622" stroke-width="3.3"/>
<circle cx="704.1" cy="2088.9" r="11.8" fill="#fff" stroke="#22e622" stroke-width="3.3"/>
<circle cx="698.5" cy="2089.7" r="11.8" fill="#fff" stroke="#22e622" stroke-width="3.3"/>
<circle cx="691" cy="2089.2" r="11.8" fill="#fff" stroke="#22e622" stroke-width="3.3"/>
<circle cx="685.1" cy="2089.6" r="11.8" fill="#fff" stroke="#22e622" stroke-width="3.3"/>
<circle cx="679.8" cy="2090.3" r="11.8" fill="#fff" stroke="#22e622" stroke-width="3.3"/>
<circle cx="674.8" cy="2090.1" r="11.8" fill="#fff" stroke="#22e622" stroke-width="3.3"/>
<circle cx="669.7" cy="2091.4" r="11.8" fill="#fff" stroke="#22e622" stroke-width="3.3"/>
<circle cx="663.4" cy="2091.4" r="11.8" fill="#fff" stroke="#22e622" stroke-width="3.3"/>
<circle cx="655.7" cy="2090.1" r="11.8" fill="#fff" stroke="#22e622" stroke-width="3.3"/>
<circle cx="650.1" cy="2092.1" r="11.8" fill="#fff" stroke="#22e622" stroke-width="3.3"/>
<circle cx="643" cy="2090.3" r="11.8" fill="#fff" stroke="#22e622" stroke-width="3.3"/>
<circle cx="639.8" cy="2091.3" r="11.8" fill="#fff" stroke="#22e622" stroke-width="3.3"/>
<circle cx="636.9" cy="2090.8" r="11.8" fill="#fff" stroke="#22e622" stroke-width="3.3"/>
<circle cx="634" cy="2092.1" r="11.8" fill="#fff" stroke="#22e622" stroke-width="3.3"/>
<circle cx="627.2" cy="2092.9" r="11.8" fill="#fff" stroke="#22e622" stroke-width="3.3"/>
<circle cx="623.8" cy="2092.6" r="11.8" fill="#fff" stroke="#22e622" stroke-width="3.3"/>
<circle cx="617.7" cy="2091.4" r="11.8" fill="#fff" stroke="#22e622" stroke-width="3.3"/>
<circle cx="610.4" cy="2093.8" r="11.8" fill="#fff" stroke="#22e622" stroke-width="3.3"/>
<circle cx="606.7" cy="2093.9" r="11.8" fill="#fff" stroke="#22e622" stroke-width="3.3"/>
<circle cx="602" cy="2092.9" r="11.8" fill="#fff" stroke="#22e622" stroke-width="3.3"/>
<circle cx="594" cy="2094.3" r="11.8" fill="#fff" stroke="#22e622" stroke-width="3.3"/>
<circle cx="590.6" cy="2093.5" r="11.8" fill="#fff" stroke="#22e622" stroke-width="3.3"/>
<circle cx="585.3" cy="2093.7" r="11.8" fill="#fff" stroke="#22e622" stroke-width="3.3"/>
<circle cx="581.7" cy="2093.9" r="11.8" fill="#fff" stroke="#22e622" stroke-width="3.3"/>
<circle cx="575.2" cy="2093.6" r="11.8" fill="#fff" stroke="#22e622" stroke-width="3.3"/>
<circle cx="569.7" cy="2095.1" r="11.8" fill="#fff" stroke="#22e622" stroke-width="3.3"/>
<circle cx="567.1" cy="2095" r="11.8" fill="#fff" stroke="#22e622" stroke-width="3.3"/>
<circle cx="561.2" cy="2095.9" r="11.8" fill="#fff" stroke="#22e622" stroke-width="3.3"/>
<circle cx="558.3" cy="2097.3" r="11.8" fill="#fff" stroke="#22e622" stroke-width="3.3"/>
<circle cx="551.5" cy="2097.2" r="11.8" fill="#fff" stroke="#22e622" stroke-width="3.3"/>
<circle cx="548.4" cy="2095.4" r="11.8" fill="#fff" stroke="#22e622" stroke-width="3.3"/>
<circle cx="545.7" cy="2096.7" r="11.8" fill="#fff" stroke="#22e622" stroke-width="3.3"/>
<circle cx="541.7" cy="2095" r="11.8" fill="#fff" stroke="#22e622" stroke-width="3.3"/>
<circle cx="536.9" cy="2096.3" r="11.8" fill="#fff" stroke="#22e622" stroke-width="3.3"/>
<circle cx="529.9" cy="2092.9" r="11.8" fill="#fff" stroke="#22e622" stroke-width="3.3"/>
<circle cx="526.2" cy="2095.6" r="11.8" fill="#fff" stroke="#22e622" stroke-width="3.3"/>
<circle cx="519.5" cy="2101" r="11.8" fill="#fff" stroke="#22e622" stroke-width="3.3"/>
<circle cx="516.3" cy="2102" r="11.8" fill="#fff" stroke="#22e622" stroke-width="3.3"/>
<circle cx="508.6" cy="2109.1" r="11.8" fill="#fff" stroke="#22e622" stroke-width="3.3"/>
<circle cx="505.6" cy="2112.9" r="11.8" fill="#fff" stroke="#22e622" stroke-width="3.3"/>
<circle cx="498.3" cy="2118.7" r="11.8" fill="#fff" stroke="#22e622" stroke-width="3.3"/>
<circle cx="495.2" cy="2121.5" r="11.8" fill="#fff" stroke="#22e622" stroke-width="3.3"/>
<circle cx="492.2" cy="2124" r="11.8" fill="#fff" stroke="#22e622" stroke-width="3.3"/>
<circle cx="486.3" cy="2127.5" r="11.8" fill="#fff" stroke="#22e622" stroke-width="3.3"/>
<circle cx="479.7" cy="2134.6" r="11.8" fill="#fff" stroke="#22e622" stroke-width="3.3"/>
<circle cx="475.1" cy="2136.2" r="11.8" fill="#fff" stroke="#22e622" stroke-width="3.3"/>
<circle cx="468.7" cy="2141.1" r="11.8" fill="#fff" stroke="#22e622" stroke-width="3.3"/>
<circle cx="465.4" cy="2142.9" r="11.8" fill="#fff" stroke="#22e622" stroke-width="3.3"/>
<circle cx="462.5" cy="2144.8" r="11.8" fill="#fff" stroke="#22e622" stroke-width="3.3"/>
<circle cx="457.7" cy="2148.1" r="11.8" fill="#fff" stroke="#22e622" stroke-width="3.3"/>
<circle cx="449.5" cy="2154.1" r="11.8" fill="#fff" stroke="#22e622" stroke-width="3.3"/>
<circle cx="443.2" cy="2158.3" r="11.8" fill="#fff" stroke="#22e622" stroke-width="3.3"/>
<circle cx="438.1" cy="2162.7" r="11.8" fill="#fff" stroke="#22e622" stroke-width="3.3"/>
<circle cx="433.7" cy="2167.6" r="11.8" fill="#fff" stroke="#22e622" stroke-width="3.3"/>
<circle cx="425.7" cy="2175.3" r="11.8" fill="#fff" stroke="#22e622" stroke-width="3.3"/>
<circle cx="421.8" cy="2178.1" r="11.8" fill="#fff" stroke="#22e622" stroke-width="3.3"/>
<circle cx="412.3" cy="2193.3" r="11.8" fill="#fff" stroke="#22e622" stroke-width="3.3"/>
<circle cx="403.7" cy="2204.5" r="11.8" fill="#fff" stroke="#22e622" stroke-width="3.3"/>
<circle cx="397.4" cy="2212.7" r="11.8" fill="#fff" stroke="#22e622" stroke-width="3.3"/>
<circle cx="392" cy="2218" r="11.8" fill="#fff" stroke="#22e622" stroke-width="3.3"/>
<circle cx="384.3" cy="2227" r="11.8" fill="#fff" stroke="#22e622" stroke-width="3.3"/>
<circle cx="379.3" cy="2231.7" r="11.8" fill="#fff" stroke="#22e622" stroke-width="3.3"/>
<circle cx="371.5" cy="2239.5" r="11.8" fill="#fff" stroke="#22e622" stroke-width="3.3"/>
<circle cx="365.9" cy="2244.8" r="11.8" fill="#fff" stroke="#22e622" stroke-width="3.3"/>
<circle cx="363" cy="2247.4" r="11.8" fill="#fff" stroke="#22e622" stroke-width="3.3"/>
<circle cx="360" cy="2252.4" r="11.8" fill="#fff" stroke="#22e622" stroke-width="3.3"/>
<circle cx="355.6" cy="2255.7" r="11.8" fill="#fff" stroke="#22e622" stroke-width="3.3"/>
<circle cx="352.4" cy="2260.9" r="11.8" fill="#fff" stroke="#22e622" stroke-width="3.3"/>
<circle cx="343.4" cy="2270.1" r="11.8" fill="#fff" stroke="#22e622" stroke-width="3.3"/>
<circle cx="338.8" cy="2273.9" r="11.8" fill="#fff" stroke="#22e622" stroke-width="3.3"/>
<circle cx="334.1" cy="2279.9" r="11.8" fill="#fff" stroke="#22e622" stroke-width="3.3"/>
<circle cx="330.4" cy="2284.9" r="11.8" fill="#fff" stroke="#22e622" stroke-width="3.3"/>
<circle cx="325.9" cy="2292.4" r="11.8" fill="#fff" stroke="#22e622" stroke-width="3.3"/>
<circle cx="316.2" cy="2306" r="11.8" fill="#fff" stroke="#22e622" stroke-width="3.3"/>
<circle cx="311.8" cy="2314" r="11.8" fill="#fff" stroke="#22e622" stroke-width="3.3"/>
<circle cx="307" cy="2321.2" r="11.8" fill="#fff" stroke="#22e622" stroke-width="3.3"/>
<circle cx="304.5" cy="2326.3" r="11.8" fill="#fff" stroke="#22e622" stroke-width="3.3"/>
<circle cx="300.9" cy="2333.8" r="11.8" fill="#fff" stroke="#22e622" stroke-width="3.3"/>
<path d="M1300 2070.9 L1315.2 2086.1 L1300 2101.3 L1284.8 2086.1 Z" fill="#fff" stroke="#e01414" stroke-width="3"/>
<path d="M1297.5 2068.8 L1312.7 2084 L1297.5 2099.2 L1282.3 2084 Z" fill="#fff" stroke="#e01414" stroke-width="3"/>
<path d="M1296 2070.9 L1311.2 2086.1 L1296 2101.3 L1280.8 2086.1 Z" fill="#fff" stroke="#e01414" stroke-width="3"/>
<path d="M1294.6 2069 L1309.8 2084.2 L1294.6 2099.4 L1279.4 2084.2 Z" fill="#fff" stroke="#e01414" stroke-width="3"/>
<path d="M1293 2070.5 L1308.2 2085.7 L1293 2100.9 L1277.8 2085.7 Z" fill="#fff" stroke="#e01414" stroke-width="3"/>
<path d="M1290.8 2069.8 L1306 2085 L1290.8 2100.2 L1275.6 2085 Z" fill="#fff" stroke="#e01414" stroke-width="3"/>
<path d="M1288.7 2069.5 L1303.9 2084.7 L1288.7 2099.9 L1273.5 2084.7 Z" fill="#fff" stroke="#e01414" stroke-width="3"/>
<path d="M1287.4 2069.1 L1302.6 2084.3 L1287.4 2099.5 L1272.2 2084.3 Z" fill="#fff" stroke="#e01414" stroke-width="3"/>
<path d="M1286.7 2068.8 L1301.9 2084 L1286.7 2099.2 L1271.5 2084 Z" fill="#fff" stroke="#e01414" stroke-width="3"/>
<path d="M1285.6 2068.8 L1300.8 2084 L1285.6 2099.2 L1270.4 2084 Z" fill="#fff" stroke="#e01414" stroke-width="3"/>
<path d="M1279.7 2070.8 L1294.9 2086 L1279.7 2101.2 L1264.5 2086 Z" fill="#fff" stroke="#e01414" stroke-width="3"/>
<path d="M1277.4 2072.4 L1292.6 2087.6 L1277.4 2102.8 L1262.2 2087.6 Z" fill="#fff" stroke="#e01414" stroke-width="3"/>
<path d="M1276.6 2070 L1291.8 2085.2 L1276.6 2100.4 L1261.4 2085.2 Z" fill="#fff" stroke="#e01414" stroke-width="3"/>
<path d="M1274.6 2070.1 L1289.8 2085.3 L1274.6 2100.5 L1259.4 2085.3 Z" fill="#fff" stroke="#e01414" stroke-width="3"/>
<path d="M1273.1 2069.6 L1288.3 2084.8 L1273.1 2100 L1257.9 2084.8 Z" fill="#fff" stroke="#e01414" stroke-width="3"/>
<path d="M1271 2068.6 L1286.2 2083.8 L1271 2099 L1255.8 2083.8 Z" fill="#fff" stroke="#e01414" stroke-width="3"/>
<path d="M1270.2 2067.8 L1285.4 2083 L1270.2 2098.2 L1255 2083 Z" fill="#fff" stroke="#e01414" stroke-width="3"/>
<path d="M1268.5 2065.3 L1283.7 2080.5 L1268.5 2095.7 L1253.3 2080.5 Z" fill="#fff" stroke="#e01414" stroke-width="3"/>
<path d="M1267.5 2064.2 L1282.7 2079.4 L1267.5 2094.6 L1252.3 2079.4 Z" fill="#fff" stroke="#e01414" stroke-width="3"/>
<path d="M1266.6 2065.1 L1281.8 2080.3 L1266.6 2095.5 L1251.4 2080.3 Z" fill="#fff" stroke="#e01414" stroke-width="3"/>
<path d="M1265.3 2063.2 L1280.5 2078.4 L1265.3 2093.6 L1250.1 2078.4 Z" fill="#fff" stroke="#e01414" stroke-width="3"/>
<path d="M1263.7 2062.1 L1278.9 2077.3 L1263.7 2092.5 L1248.5 2077.3 Z" fill="#fff" stroke="#e01414" stroke-width="3"/>
<path d="M1261.8 2063.5 L1277 2078.7 L1261.8 2093.9 L1246.6 2078.7 Z" fill="#fff" stroke="#e01414" stroke-width="3"/>
<path d="M1256.1 2063.6 L1271.3 2078.8 L1256.1 2094 L1240.9 2078.8 Z" fill="#fff" stroke="#e01414" stroke-width="3"/>
<path d="M1253.7 2062 L1268.9 2077.2 L1253.7 2092.4 L1238.5 2077.2 Z" fill="#fff" stroke="#e01414" stroke-width="3"/>
<path d="M1252.8 2062.4 L1268 2077.6 L1252.8 2092.8 L1237.6 2077.6 Z" fill="#fff" stroke="#e01414" stroke-width="3"/>
<path d="M1251 2064.1 L1266.2 2079.3 L1251 2094.5 L1235.8 2079.3 Z" fill="#fff" stroke="#e01414" stroke-width="3"/>
<path d="M1248.7 2062.7 L1263.9 2077.9 L1248.7 2093.1 L1233.5 2077.9 Z" fill="#fff" stroke="#e01414" stroke-width="3"/>
<path d="M1246.6 2063.6 L1261.8 2078.8 L1246.6 2094 L1231.4 2078.8 Z" fill="#fff" stroke="#e01414" stroke-width="3"/>
<path d="M1240.7 2063.3 L1255.9 2078.5 L1240.7 2093.7 L1225.5 2078.5 Z" fill="#fff" stroke="#e01414" stroke-width="3"/>
<path d="M1239.3 2062.7 L1254.5 2077.9 L1239.3 2093.1 L1224.1 2077.9 Z" fill="#fff" stroke="#e01414" stroke-width="3"/>
<path d="M1238.2 2064.3 L1253.4 2079.5 L1238.2 2094.7 L1223 2079.5 Z" fill="#fff" stroke="#e01414" stroke-width="3"/>
<path d="M1237.2 2063.3 L1252.4 2078.5 L1237.2 2093.7 L1222 2078.5 Z" fill="#fff" stroke="#e01414" stroke-width="3"/>
<path d="M1235.3 2064.6 L1250.5 2079.8 L1235.3 2095 L1220.1 2079.8 Z" fill="#fff" stroke="#e01414" stroke-width="3"/>
<path d="M1234.2 2066.4 L1249.4 2081.6 L1234.2 2096.8 L1219 2081.6 Z" fill="#fff" stroke="#e01414" stroke-width="3"/>
<path d="M1233.5 2064.9 L1248.7 2080.1 L1233.5 2095.3 L1218.3 2080.1 Z" fill="#fff" stroke="#e01414" stroke-width="3"/>
<path d="M1231.8 2066.3 L1247 2081.5 L1231.8 2096.7 L1216.6 2081.5 Z" fill="#fff" stroke="#e01414" stroke-width="3"/>
<path d="M1226.6 2063.8 L1241.8 2079 L1226.6 2094.2 L1211.4 2079 Z" fill="#fff" stroke="#e01414" stroke-width="3"/>
<path d="M1225.4 2061.9 L1240.6 2077.1 L1225.4 2092.3 L1210.2 2077.1 Z" fill="#fff" stroke="#e01414" stroke-width="3"/>
<path d="M1224.2 2061.3 L1239.4 2076.5 L1224.2 2091.7 L1209 2076.5 Z" fill="#fff" stroke="#e01414" stroke-width="3"/>
<path d="M1222.8 2060.6 L1238 2075.8 L1222.8 2091 L1207.6 2075.8 Z" fill="#fff" stroke="#e01414" stroke-width="3"/>
<path d="M1221.4 2057.7 L1236.6 2072.9 L1221.4 2088.1 L1206.2 2072.9 Z" fill="#fff" stroke="#e01414" stroke-width="3"/>
<path d="M1220.4 2056.4 L1235.6 2071.6 L1220.4 2086.8 L1205.2 2071.6 Z" fill="#fff" stroke="#e01414" stroke-width="3"/>
<path d="M1219 2057.4 L1234.2 2072.6 L1219 2087.8 L1203.8 2072.6 Z" fill="#fff" stroke="#e01414" stroke-width="3"/>
<path d="M1216.6 2055.5 L1231.8 2070.7 L1216.6 2085.9 L1201.4 2070.7 Z" fill="#fff" stroke="#e01414" stroke-width="3"/>
<path d="M1216 2055.6 L1231.2 2070.8 L1216 2086 L1200.8 2070.8 Z" fill="#fff" stroke="#e01414" stroke-width="3"/>
<path d="M1213.6 2054.4 L1228.8 2069.6 L1213.6 2084.8 L1198.4 2069.6 Z" fill="#fff" stroke="#e01414" stroke-width="3"/>
<path d="M1212.2 2055.5 L1227.4 2070.7 L1212.2 2085.9 L1197 2070.7 Z" fill="#fff" stroke="#e01414" stroke-width="3"/>
<path d="M1211 2055.8 L1226.2 2071 L1211 2086.2 L1195.8 2071 Z" fill="#fff" stroke="#e01414" stroke-width="3"/>
<path d="M1210.2 2055.8 L1225.4 2071 L1210.2 2086.2 L1195 2071 Z" fill="#fff" stroke="#e01414" stroke-width="3"/>
<path d="M1207.7 2055.4 L1222.9 2070.6 L1207.7 2085.8 L1192.5 2070.6 Z" fill="#fff" stroke="#e01414" stroke-width="3"/>
<path d="M1205.2 2057.2 L1220.4 2072.4 L1205.2 2087.6 L1190 2072.4 Z" fill="#fff" stroke="#e01414" stroke-width="3"/>
<path d="M1204.5 2057 L1219.7 2072.2 L1204.5 2087.4 L1189.3 2072.2 Z" fill="#fff" stroke="#e01414" stroke-width="3"/>
<path d="M1202.1 2055.8 L1217.3 2071 L1202.1 2086.2 L1186.9 2071 Z" fill="#fff" stroke="#e01414" stroke-width="3"/>
<path d="M1201.2 2056 L1216.4 2071.2 L1201.2 2086.4 L1186 2071.2 Z" fill="#fff" stroke="#e01414" stroke-width="3"/>
<path d="M1199.8 2056 L1215 2071.2 L1199.8 2086.4 L1184.6 2071.2 Z" fill="#fff" stroke="#e01414" stroke-width="3"/>
<path d="M1198.8 2054.6 L1214 2069.8 L1198.8 2085 L1183.6 2069.8 Z" fill="#fff" stroke="#e01414" stroke-width="3"/>
<path d="M1197.2 2055.2 L1212.4 2070.4 L1197.2 2085.6 L1182 2070.4 Z" fill="#fff" stroke="#e01414" stroke-width="3"/>
<path d="M1196.1 2056.3 L1211.3 2071.5 L1196.1 2086.7 L1180.9 2071.5 Z" fill="#fff" stroke="#e01414" stroke-width="3"/>
<path d="M1195.4 2056.2 L1210.6 2071.4 L1195.4 2086.6 L1180.2 2071.4 Z" fill="#fff" stroke="#e01414" stroke-width="3"/>
<path d="M1194.7 2057.2 L1209.9 2072.4 L1194.7 2087.6 L1179.5 2072.4 Z" fill="#fff" stroke="#e01414" stroke-width="3"/>
<path d="M1188.8 2060.3 L1204 2075.5 L1188.8 2090.7 L1173.6 2075.5 Z" fill="#fff" stroke="#e01414" stroke-width="3"/>
<path d="M1187.6 2060.5 L1202.8 2075.7 L1187.6 2090.9 L1172.4 2075.7 Z" fill="#fff" stroke="#e01414" stroke-width="3"/>
<path d="M1186.1 2061.5 L1201.3 2076.7 L1186.1 2091.9 L1170.9 2076.7 Z" fill="#fff" stroke="#e01414" stroke-width="3"/>
<path d="M1184.7 2059.9 L1199.9 2075.1 L1184.7 2090.3 L1169.5 2075.1 Z" fill="#fff" stroke="#e01414" stroke-width="3"/>
<path d="M1183.1 2059.9 L1198.3 2075.1 L1183.1 2090.3 L1167.9 2075.1 Z" fill="#fff" stroke="#e01414" stroke-width="3"/>
<path d="M1180.9 2059 L1196.1 2074.2 L1180.9 2089.4 L1165.7 2074.2 Z" fill="#fff" stroke="#e01414" stroke-width="3"/>
<path d="M1179.4 2056.7 L1194.6 2071.9 L1179.4 2087.1 L1164.2 2071.9 Z" fill="#fff" stroke="#e01414" stroke-width="3"/>
<path d="M1177.9 2055.1 L1193.1 2070.3 L1177.9 2085.5 L1162.7 2070.3 Z" fill="#fff" stroke="#e01414" stroke-width="3"/>
<path d="M1176.3 2053.3 L1191.5 2068.5 L1176.3 2083.7 L1161.1 2068.5 Z" fill="#fff" stroke="#e01414" stroke-width="3"/>
<path d="M1175.5 2054.1 L1190.7 2069.3 L1175.5 2084.5 L1160.3 2069.3 Z" fill="#fff" stroke="#e01414" stroke-width="3"/>
<path d="M1173.9 2051.1 L1189.1 2066.3 L1173.9 2081.5 L1158.7 2066.3 Z" fill="#fff" stroke="#e01414" stroke-width="3"/>
<path d="M1172.6 2052.3 L1187.8 2067.5 L1172.6 2082.7 L1157.4 2067.5 Z" fill="#fff" stroke="#e01414" stroke-width="3"/>
<path d="M1170.2 2051.5 L1185.4 2066.7 L1170.2 2081.9 L1155 2066.7 Z" fill="#fff" stroke="#e01414" stroke-width="3"/>
<path d="M1168 2049.5 L1183.2 2064.7 L1168 2079.9 L1152.8 2064.7 Z" fill="#fff" stroke="#e01414" stroke-width="3"/>
<path d="M1166.4 2051.5 L1181.6 2066.7 L1166.4 2081.9 L1151.2 2066.7 Z" fill="#fff" stroke="#e01414" stroke-width="3"/>
<path d="M1165.5 2051.3 L1180.7 2066.5 L1165.5 2081.7 L1150.3 2066.5 Z" fill="#fff" stroke="#e01414" stroke-width="3"/>
<path d="M1164.8 2050.4 L1180 2065.6 L1164.8 2080.8 L1149.6 2065.6 Z" fill="#fff" stroke="#e01414" stroke-width="3"/>
<path d="M1163.9 2051.9 L1179.1 2067.1 L1163.9 2082.3 L1148.7 2067.1 Z" fill="#fff" stroke="#e01414" stroke-width="3"/>
<path d="M1161.6 2050.4 L1176.8 2065.6 L1161.6 2080.8 L1146.4 2065.6 Z" fill="#fff" stroke="#e01414" stroke-width="3"/>
<path d="M1159.2 2050.4 L1174.4 2065.6 L1159.2 2080.8 L1144 2065.6 Z" fill="#fff" stroke="#e01414" stroke-width="3"/>
<path d="M1157.6 2050.4 L1172.8 2065.6 L1157.6 2080.8 L1142.4 2065.6 Z" fill="#fff" stroke="#e01414" stroke-width="3"/>
<path d="M1152.3 2049.6 L1167.5 2064.8 L1152.3 2080 L1137.1 2064.8 Z" fill="#fff" stroke="#e01414" stroke-width="3"/>
<path d="M1150.3 2051.9 L1165.5 2067.1 L1150.3 2082.3 L1135.1 2067.1 Z" fill="#fff" stroke="#e01414" stroke-width="3"/>
<path d="M1148.2 2051.2 L1163.4 2066.4 L1148.2 2081.6 L1133 2066.4 Z" fill="#fff" stroke="#e01414" stroke-width="3"/>
<path d="M1146.3 2053.2 L1161.5 2068.4 L1146.3 2083.6 L1131.1 2068.4 Z" fill="#fff" stroke="#e01414" stroke-width="3"/>
<path d="M1144.6 2055.2 L1159.8 2070.4 L1144.6 2085.6 L1129.4 2070.4 Z" fill="#fff" stroke="#e01414" stroke-width="3"/>
<path d="M1143.8 2056.9 L1159 2072.1 L1143.8 2087.3 L1128.6 2072.1 Z" fill="#fff" stroke="#e01414" stroke-width="3"/>
<path d="M1142.4 2057.4 L1157.6 2072.6 L1142.4 2087.8 L1127.2 2072.6 Z" fill="#fff" stroke="#e01414" stroke-width="3"/>
<path d="M1139.8 2057.9 L1155 2073.1 L1139.8 2088.3 L1124.6 2073.1 Z" fill="#fff" stroke="#e01414" stroke-width="3"/>
<path d="M1137.7 2057.4 L1152.9 2072.6 L1137.7 2087.8 L1122.5 2072.6 Z" fill="#fff" stroke="#e01414" stroke-width="3"/>
<path d="M1135.6 2055.3 L1150.8 2070.5 L1135.6 2085.7 L1120.4 2070.5 Z" fill="#fff" stroke="#e01414" stroke-width="3"/>
<path d="M1134.5 2055.8 L1149.7 2071 L1134.5 2086.2 L1119.3 2071 Z" fill="#fff" stroke="#e01414" stroke-width="3"/>
<path d="M1132.7 2053.9 L1147.9 2069.1 L1132.7 2084.3 L1117.5 2069.1 Z" fill="#fff" stroke="#e01414" stroke-width="3"/>
<path d="M1132.1 2051.7 L1147.3 2066.9 L1132.1 2082.1 L1116.9 2066.9 Z" fill="#fff" stroke="#e01414" stroke-width="3"/>
<path d="M1130.3 2050.6 L1145.5 2065.8 L1130.3 2081 L1115.1 2065.8 Z" fill="#fff" stroke="#e01414" stroke-width="3"/>
<path d="M1127.9 2047.5 L1143.1 2062.7 L1127.9 2077.9 L1112.7 2062.7 Z" fill="#fff" stroke="#e01414" stroke-width="3"/>
<path d="M1126 2045.9 L1141.2 2061.1 L1126 2076.3 L1110.8 2061.1 Z" fill="#fff" stroke="#e01414" stroke-width="3"/>
<path d="M1120.4 2045.4 L1135.6 2060.6 L1120.4 2075.8 L1105.2 2060.6 Z" fill="#fff" stroke="#e01414" stroke-width="3"/>
<path d="M1119.4 2046.7 L1134.6 2061.9 L1119.4 2077.1 L1104.2 2061.9 Z" fill="#fff" stroke="#e01414" stroke-width="3"/>
<path d="M1118.4 2046.9 L1133.6 2062.1 L1118.4 2077.3 L1103.2 2062.1 Z" fill="#fff" stroke="#e01414" stroke-width="3"/>
<path d="M1117.5 2047.8 L1132.7 2063 L1117.5 2078.2 L1102.3 2063 Z" fill="#fff" stroke="#e01414" stroke-width="3"/>
<path d="M1116.6 2045.9 L1131.8 2061.1 L1116.6 2076.3 L1101.4 2061.1 Z" fill="#fff" stroke="#e01414" stroke-width="3"/>
<path d="M1114.3 2047.4 L1129.5 2062.6 L1114.3 2077.8 L1099.1 2062.6 Z" fill="#fff" stroke="#e01414" stroke-width="3"/>
<path d="M1113.1 2045.4 L1128.3 2060.6 L1113.1 2075.8 L1097.9 2060.6 Z" fill="#fff" stroke="#e01414" stroke-width="3"/>
<path d="M1111.4 2045.8 L1126.6 2061 L1111.4 2076.2 L1096.2 2061 Z" fill="#fff" stroke="#e01414" stroke-width="3"/>
<path d="M1109.9 2046.9 L1125.1 2062.1 L1109.9 2077.3 L1094.7 2062.1 Z" fill="#fff" stroke="#e01414" stroke-width="3"/>
<path d="M1108.8 2046.6 L1124 2061.8 L1108.8 2077 L1093.6 2061.8 Z" fill="#fff" stroke="#e01414" stroke-width="3"/>
<path d="M1103 2046.6 L1118.2 2061.8 L1103 2077 L1087.8 2061.8 Z" fill="#fff" stroke="#e01414" stroke-width="3"/>
<path d="M1102.3 2048 L1117.5 2063.2 L1102.3 2078.4 L1087.1 2063.2 Z" fill="#fff" stroke="#e01414" stroke-width="3"/>
<path d="M1096.5 2053.4 L1111.7 2068.6 L1096.5 2083.8 L1081.3 2068.6 Z" fill="#fff" stroke="#e01414" stroke-width="3"/>
<path d="M1095.5 2053.2 L1110.7 2068.4 L1095.5 2083.6 L1080.3 2068.4 Z" fill="#fff" stroke="#e01414" stroke-width="3"/>
<path d="M1093.6 2054.5 L1108.8 2069.7 L1093.6 2084.9 L1078.4 2069.7 Z" fill="#fff" stroke="#e01414" stroke-width="3"/>
<path d="M1092.4 2053.3 L1107.6 2068.5 L1092.4 2083.7 L1077.2 2068.5 Z" fill="#fff" stroke="#e01414" stroke-width="3"/>
<path d="M1086.1 2049.9 L1101.3 2065.1 L1086.1 2080.3 L1070.9 2065.1 Z" fill="#fff" stroke="#e01414" stroke-width="3"/>
<path d="M1085.5 2049.3 L1100.7 2064.5 L1085.5 2079.7 L1070.3 2064.5 Z" fill="#fff" stroke="#e01414" stroke-width="3"/>
<path d="M1083.9 2047.4 L1099.1 2062.6 L1083.9 2077.8 L1068.7 2062.6 Z" fill="#fff" stroke="#e01414" stroke-width="3"/>
<path d="M1082.9 2044.8 L1098.1 2060 L1082.9 2075.2 L1067.7 2060 Z" fill="#fff" stroke="#e01414" stroke-width="3"/>
<path d="M1082.2 2044.7 L1097.4 2059.9 L1082.2 2075.1 L1067 2059.9 Z" fill="#fff" stroke="#e01414" stroke-width="3"/>
<path d="M1080.2 2044.5 L1095.4 2059.7 L1080.2 2074.9 L1065 2059.7 Z" fill="#fff" stroke="#e01414" stroke-width="3"/>
<path d="M1079.1 2043.2 L1094.3 2058.4 L1079.1 2073.6 L1063.9 2058.4 Z" fill="#fff" stroke="#e01414" stroke-width="3"/>
<path d="M1076.9 2042.6 L1092.1 2057.8 L1076.9 2073 L1061.7 2057.8 Z" fill="#fff" stroke="#e01414" stroke-width="3"/>
<path d="M1075 2043.6 L1090.2 2058.8 L1075 2074 L1059.8 2058.8 Z" fill="#fff" stroke="#e01414" stroke-width="3"/>
<path d="M1072.6 2041.6 L1087.8 2056.8 L1072.6 2072 L1057.4 2056.8 Z" fill="#fff" stroke="#e01414" stroke-width="3"/>
<path d="M1071.6 2043.4 L1086.8 2058.6 L1071.6 2073.8 L1056.4 2058.6 Z" fill="#fff" stroke="#e01414" stroke-width="3"/>
<path d="M1069.5 2042.3 L1084.7 2057.5 L1069.5 2072.7 L1054.3 2057.5 Z" fill="#fff" stroke="#e01414" stroke-width="3"/>
<path d="M1068.2 2041.9 L1083.4 2057.1 L1068.2 2072.3 L1053 2057.1 Z" fill="#fff" stroke="#e01414" stroke-width="3"/>
<path d="M1066.4 2042.5 L1081.6 2057.7 L1066.4 2072.9 L1051.2 2057.7 Z" fill="#fff" stroke="#e01414" stroke-width="3"/>
<path d="M1063.8 2041.1 L1079 2056.3 L1063.8 2071.5 L1048.6 2056.3 Z" fill="#fff" stroke="#e01414" stroke-width="3"/>
<path d="M1061.8 2041.5 L1077 2056.7 L1061.8 2071.9 L1046.6 2056.7 Z" fill="#fff" stroke="#e01414" stroke-width="3"/>
<path d="M1059.8 2040.8 L1075 2056 L1059.8 2071.2 L1044.6 2056 Z" fill="#fff" stroke="#e01414" stroke-width="3"/>
<path d="M1058.7 2041.1 L1073.9 2056.3 L1058.7 2071.5 L1043.5 2056.3 Z" fill="#fff" stroke="#e01414" stroke-width="3"/>
<path d="M1052.4 2044.5 L1067.6 2059.7 L1052.4 2074.9 L1037.2 2059.7 Z" fill="#fff" stroke="#e01414" stroke-width="3"/>
<path d="M1047.2 2049.4 L1062.4 2064.6 L1047.2 2079.8 L1032 2064.6 Z" fill="#fff" stroke="#e01414" stroke-width="3"/>
<path d="M1046.3 2047.3 L1061.5 2062.5 L1046.3 2077.7 L1031.1 2062.5 Z" fill="#fff" stroke="#e01414" stroke-width="3"/>
<path d="M1040.3 2044.5 L1055.5 2059.7 L1040.3 2074.9 L1025.1 2059.7 Z" fill="#fff" stroke="#e01414" stroke-width="3"/>
<path d="M1038.2 2040.8 L1053.4 2056 L1038.2 2071.2 L1023 2056 Z" fill="#fff" stroke="#e01414" stroke-width="3"/>
<path d="M1036.9 2041.2 L1052.1 2056.4 L1036.9 2071.6 L1021.7 2056.4 Z" fill="#fff" stroke="#e01414" stroke-width="3"/>
<path d="M1034.5 2037.3 L1049.7 2052.5 L1034.5 2067.7 L1019.3 2052.5 Z" fill="#fff" stroke="#e01414" stroke-width="3"/>
<path d="M1032.1 2038.2 L1047.3 2053.4 L1032.1 2068.6 L1016.9 2053.4 Z" fill="#fff" stroke="#e01414" stroke-width="3"/>
<path d="M1026.8 2035.5 L1042 2050.7 L1026.8 2065.9 L1011.6 2050.7 Z" fill="#fff" stroke="#e01414" stroke-width="3"/>
<path d="M1020.5 2035.7 L1035.7 2050.9 L1020.5 2066.1 L1005.3 2050.9 Z" fill="#fff" stroke="#e01414" stroke-width="3"/>
<path d="M1018.2 2034.3 L1033.4 2049.5 L1018.2 2064.7 L1003 2049.5 Z" fill="#fff" stroke="#e01414" stroke-width="3"/>
<path d="M1017.4 2032.7 L1032.6 2047.9 L1017.4 2063.1 L1002.2 2047.9 Z" fill="#fff" stroke="#e01414" stroke-width="3"/>
<path d="M1016.4 2032.9 L1031.6 2048.1 L1016.4 2063.3 L1001.2 2048.1 Z" fill="#fff" stroke="#e01414" stroke-width="3"/>
<path d="M1015.8 2032.6 L1031 2047.8 L1015.8 2063 L1000.6 2047.8 Z" fill="#fff" stroke="#e01414" stroke-width="3"/>
<path d="M1013.8 2032.7 L1029 2047.9 L1013.8 2063.1 L998.6 2047.9 Z" fill="#fff" stroke="#e01414" stroke-width="3"/>
<path d="M1011.2 2033.9 L1026.4 2049.1 L1011.2 2064.3 L996 2049.1 Z" fill="#fff" stroke="#e01414" stroke-width="3"/>
<path d="M1009.4 2034 L1024.6 2049.2 L1009.4 2064.4 L994.2 2049.2 Z" fill="#fff" stroke="#e01414" stroke-width="3"/>
<path d="M1007.9 2037.1 L1023.1 2052.3 L1007.9 2067.5 L992.7 2052.3 Z" fill="#fff" stroke="#e01414" stroke-width="3"/>
<path d="M1005.9 2038.4 L1021.1 2053.6 L1005.9 2068.8 L990.7 2053.6 Z" fill="#fff" stroke="#e01414" stroke-width="3"/>
<path d="M1003.6 2039.2 L1018.8 2054.4 L1003.6 2069.6 L988.4 2054.4 Z" fill="#fff" stroke="#e01414" stroke-width="3"/>
<path d="M1002.7 2039.6 L1017.9 2054.8 L1002.7 2070 L987.5 2054.8 Z" fill="#fff" stroke="#e01414" stroke-width="3"/>
<path d="M1000.5 2042.5 L1015.7 2057.7 L1000.5 2072.9 L985.3 2057.7 Z" fill="#fff" stroke="#e01414" stroke-width="3"/>
<path d="M994.8 2038.5 L1010 2053.7 L994.8 2068.9 L979.6 2053.7 Z" fill="#fff" stroke="#e01414" stroke-width="3"/>
<path d="M993.8 2037.6 L1009 2052.8 L993.8 2068 L978.6 2052.8 Z" fill="#fff" stroke="#e01414" stroke-width="3"/>
<path d="M991.6 2034.8 L1006.8 2050 L991.6 2065.2 L976.4 2050 Z" fill="#fff" stroke="#e01414" stroke-width="3"/>
<path d="M990.4 2033.7 L1005.6 2048.9 L990.4 2064.1 L975.2 2048.9 Z" fill="#fff" stroke="#e01414" stroke-width="3"/>
<path d="M988.8 2032.2 L1004 2047.4 L988.8 2062.6 L973.6 2047.4 Z" fill="#fff" stroke="#e01414" stroke-width="3"/>
<path d="M988 2033.4 L1003.2 2048.6 L988 2063.8 L972.8 2048.6 Z" fill="#fff" stroke="#e01414" stroke-width="3"/>
<path d="M985.9 2032.2 L1001.1 2047.4 L985.9 2062.6 L970.7 2047.4 Z" fill="#fff" stroke="#e01414" stroke-width="3"/>
<path d="M984.5 2031.4 L999.7 2046.6 L984.5 2061.8 L969.3 2046.6 Z" fill="#fff" stroke="#e01414" stroke-width="3"/>
<path d="M983.7 2032.6 L998.9 2047.8 L983.7 2063 L968.5 2047.8 Z" fill="#fff" stroke="#e01414" stroke-width="3"/>
<path d="M978.4 2030.8 L993.6 2046 L978.4 2061.2 L963.2 2046 Z" fill="#fff" stroke="#e01414" stroke-width="3"/>
<path d="M976.8 2030.7 L992 2045.9 L976.8 2061.1 L961.6 2045.9 Z" fill="#fff" stroke="#e01414" stroke-width="3"/>
<path d="M975.7 2030.6 L990.9 2045.8 L975.7 2061 L960.5 2045.8 Z" fill="#fff" stroke="#e01414" stroke-width="3"/>
<path d="M973.6 2030.4 L988.8 2045.6 L973.6 2060.8 L958.4 2045.6 Z" fill="#fff" stroke="#e01414" stroke-width="3"/>
<path d="M972.3 2028.8 L987.5 2044 L972.3 2059.2 L957.1 2044 Z" fill="#fff" stroke="#e01414" stroke-width="3"/>
<path d="M970 2028.9 L985.2 2044.1 L970 2059.3 L954.8 2044.1 Z" fill="#fff" stroke="#e01414" stroke-width="3"/>
<path d="M969.1 2028.2 L984.3 2043.4 L969.1 2058.6 L953.9 2043.4 Z" fill="#fff" stroke="#e01414" stroke-width="3"/>
<path d="M967.3 2027.6 L982.5 2042.8 L967.3 2058 L952.1 2042.8 Z" fill="#fff" stroke="#e01414" stroke-width="3"/>
<path d="M964.9 2029 L980.1 2044.2 L964.9 2059.4 L949.7 2044.2 Z" fill="#fff" stroke="#e01414" stroke-width="3"/>
<path d="M963.7 2031 L978.9 2046.2 L963.7 2061.4 L948.5 2046.2 Z" fill="#fff" stroke="#e01414" stroke-width="3"/>
<path d="M962.8 2030.5 L978 2045.7 L962.8 2060.9 L947.6 2045.7 Z" fill="#fff" stroke="#e01414" stroke-width="3"/>
<path d="M961.6 2032.7 L976.8 2047.9 L961.6 2063.1 L946.4 2047.9 Z" fill="#fff" stroke="#e01414" stroke-width="3"/>
<path d="M960.3 2033.2 L975.5 2048.4 L960.3 2063.6 L945.1 2048.4 Z" fill="#fff" stroke="#e01414" stroke-width="3"/>
<path d="M958.3 2035.1 L973.5 2050.3 L958.3 2065.5 L943.1 2050.3 Z" fill="#fff" stroke="#e01414" stroke-width="3"/>
<path d="M957.5 2036.4 L972.7 2051.6 L957.5 2066.8 L942.3 2051.6 Z" fill="#fff" stroke="#e01414" stroke-width="3"/>
<path d="M955.3 2038.6 L970.5 2053.8 L955.3 2069 L940.1 2053.8 Z" fill="#fff" stroke="#e01414" stroke-width="3"/>
<path d="M954.3 2038.6 L969.5 2053.8 L954.3 2069 L939.1 2053.8 Z" fill="#fff" stroke="#e01414" stroke-width="3"/>
<path d="M949 2035.8 L964.2 2051 L949 2066.2 L933.8 2051 Z" fill="#fff" stroke="#e01414" stroke-width="3"/>
<path d="M943.4 2031.9 L958.6 2047.1 L943.4 2062.3 L928.2 2047.1 Z" fill="#fff" stroke="#e01414" stroke-width="3"/>
<path d="M941.8 2030.6 L957 2045.8 L941.8 2061 L926.6 2045.8 Z" fill="#fff" stroke="#e01414" stroke-width="3"/>
<path d="M940.9 2030.2 L956.1 2045.4 L940.9 2060.6 L925.7 2045.4 Z" fill="#fff" stroke="#e01414" stroke-width="3"/>
<path d="M938.8 2030.4 L954 2045.6 L938.8 2060.8 L923.6 2045.6 Z" fill="#fff" stroke="#e01414" stroke-width="3"/>
<path d="M937.1 2029.9 L952.3 2045.1 L937.1 2060.3 L921.9 2045.1 Z" fill="#fff" stroke="#e01414" stroke-width="3"/>
<path d="M936 2029.8 L951.2 2045 L936 2060.2 L920.8 2045 Z" fill="#fff" stroke="#e01414" stroke-width="3"/>
<path d="M933.9 2029.6 L949.1 2044.8 L933.9 2060 L918.7 2044.8 Z" fill="#fff" stroke="#e01414" stroke-width="3"/>
<path d="M931.9 2029 L947.1 2044.2 L931.9 2059.4 L916.7 2044.2 Z" fill="#fff" stroke="#e01414" stroke-width="3"/>
<path d="M930.7 2028.6 L945.9 2043.8 L930.7 2059 L915.5 2043.8 Z" fill="#fff" stroke="#e01414" stroke-width="3"/>
<path d="M925 2026.3 L940.2 2041.5 L925 2056.7 L909.8 2041.5 Z" fill="#fff" stroke="#e01414" stroke-width="3"/>
<path d="M923.2 2024.5 L938.4 2039.7 L923.2 2054.9 L908 2039.7 Z" fill="#fff" stroke="#e01414" stroke-width="3"/>
<path d="M921.7 2025.4 L936.9 2040.6 L921.7 2055.8 L906.5 2040.6 Z" fill="#fff" stroke="#e01414" stroke-width="3"/>
<path d="M919.7 2026.7 L934.9 2041.9 L919.7 2057.1 L904.5 2041.9 Z" fill="#fff" stroke="#e01414" stroke-width="3"/>
<path d="M917.8 2027.6 L933 2042.8 L917.8 2058 L902.6 2042.8 Z" fill="#fff" stroke="#e01414" stroke-width="3"/>
<path d="M916.2 2029.4 L931.4 2044.6 L916.2 2059.8 L901 2044.6 Z" fill="#fff" stroke="#e01414" stroke-width="3"/>
<path d="M910.4 2032.8 L925.6 2048 L910.4 2063.2 L895.2 2048 Z" fill="#fff" stroke="#e01414" stroke-width="3"/>
<path d="M907.9 2034.4 L923.1 2049.6 L907.9 2064.8 L892.7 2049.6 Z" fill="#fff" stroke="#e01414" stroke-width="3"/>
<path d="M902.1 2031.6 L917.3 2046.8 L902.1 2062 L886.9 2046.8 Z" fill="#fff" stroke="#e01414" stroke-width="3"/>
<path d="M900.4 2030.4 L915.6 2045.6 L900.4 2060.8 L885.2 2045.6 Z" fill="#fff" stroke="#e01414" stroke-width="3"/>
<path d="M898.8 2028.5 L914 2043.7 L898.8 2058.9 L883.6 2043.7 Z" fill="#fff" stroke="#e01414" stroke-width="3"/>
<path d="M897.8 2028.4 L913 2043.6 L897.8 2058.8 L882.6 2043.6 Z" fill="#fff" stroke="#e01414" stroke-width="3"/>
<path d="M895.7 2025.8 L910.9 2041 L895.7 2056.2 L880.5 2041 Z" fill="#fff" stroke="#e01414" stroke-width="3"/>
<path d="M894.3 2025.1 L909.5 2040.3 L894.3 2055.5 L879.1 2040.3 Z" fill="#fff" stroke="#e01414" stroke-width="3"/>
<path d="M892.9 2024.7 L908.1 2039.9 L892.9 2055.1 L877.7 2039.9 Z" fill="#fff" stroke="#e01414" stroke-width="3"/>
<path d="M891.5 2026.1 L906.7 2041.3 L891.5 2056.5 L876.3 2041.3 Z" fill="#fff" stroke="#e01414" stroke-width="3"/>
<path d="M890.4 2024.8 L905.6 2040 L890.4 2055.2 L875.2 2040 Z" fill="#fff" stroke="#e01414" stroke-width="3"/>
<path d="M887.9 2025.2 L903.1 2040.4 L887.9 2055.6 L872.7 2040.4 Z" fill="#fff" stroke="#e01414" stroke-width="3"/>
<path d="M885.7 2024.2 L900.9 2039.4 L885.7 2054.6 L870.5 2039.4 Z" fill="#fff" stroke="#e01414" stroke-width="3"/>
<path d="M884.8 2024.7 L900 2039.9 L884.8 2055.1 L869.6 2039.9 Z" fill="#fff" stroke="#e01414" stroke-width="3"/>
<path d="M883 2023 L898.2 2038.2 L883 2053.4 L867.8 2038.2 Z" fill="#fff" stroke="#e01414" stroke-width="3"/>
<path d="M881.9 2023.6 L897.1 2038.8 L881.9 2054 L866.7 2038.8 Z" fill="#fff" stroke="#e01414" stroke-width="3"/>
<path d="M880 2022.2 L895.2 2037.4 L880 2052.6 L864.8 2037.4 Z" fill="#fff" stroke="#e01414" stroke-width="3"/>
<path d="M878.5 2020.2 L893.7 2035.4 L878.5 2050.6 L863.3 2035.4 Z" fill="#fff" stroke="#e01414" stroke-width="3"/>
<path d="M877.7 2021.2 L892.9 2036.4 L877.7 2051.6 L862.5 2036.4 Z" fill="#fff" stroke="#e01414" stroke-width="3"/>
<path d="M875.3 2019.5 L890.5 2034.7 L875.3 2049.9 L860.1 2034.7 Z" fill="#fff" stroke="#e01414" stroke-width="3"/>
<path d="M874.2 2020.1 L889.4 2035.3 L874.2 2050.5 L859 2035.3 Z" fill="#fff" stroke="#e01414" stroke-width="3"/>
<path d="M873.6 2021 L888.8 2036.2 L873.6 2051.4 L858.4 2036.2 Z" fill="#fff" stroke="#e01414" stroke-width="3"/>
<path d="M872.5 2020.5 L887.7 2035.7 L872.5 2050.9 L857.3 2035.7 Z" fill="#fff" stroke="#e01414" stroke-width="3"/>
<path d="M871.1 2022.3 L886.3 2037.5 L871.1 2052.7 L855.9 2037.5 Z" fill="#fff" stroke="#e01414" stroke-width="3"/>
<path d="M869.8 2024.1 L885 2039.3 L869.8 2054.5 L854.6 2039.3 Z" fill="#fff" stroke="#e01414" stroke-width="3"/>
<path d="M869.1 2024.4 L884.3 2039.6 L869.1 2054.8 L853.9 2039.6 Z" fill="#fff" stroke="#e01414" stroke-width="3"/>
<path d="M866.9 2024.7 L882.1 2039.9 L866.9 2055.1 L851.7 2039.9 Z" fill="#fff" stroke="#e01414" stroke-width="3"/>
<path d="M865 2025.9 L880.2 2041.1 L865 2056.3 L849.8 2041.1 Z" fill="#fff" stroke="#e01414" stroke-width="3"/>
<path d="M858.6 2027.9 L873.8 2043.1 L858.6 2058.3 L843.4 2043.1 Z" fill="#fff" stroke="#e01414" stroke-width="3"/>
<path d="M857.8 2026.2 L873 2041.4 L857.8 2056.6 L842.6 2041.4 Z" fill="#fff" stroke="#e01414" stroke-width="3"/>
<path d="M855.6 2025.3 L870.8 2040.5 L855.6 2055.7 L840.4 2040.5 Z" fill="#fff" stroke="#e01414" stroke-width="3"/>
<path d="M853.2 2024.6 L868.4 2039.8 L853.2 2055 L838 2039.8 Z" fill="#fff" stroke="#e01414" stroke-width="3"/>
<path d="M850.8 2022.7 L866 2037.9 L850.8 2053.1 L835.6 2037.9 Z" fill="#fff" stroke="#e01414" stroke-width="3"/>
<path d="M848.9 2022.6 L864.1 2037.8 L848.9 2053 L833.7 2037.8 Z" fill="#fff" stroke="#e01414" stroke-width="3"/>
<path d="M846.6 2020.3 L861.8 2035.5 L846.6 2050.7 L831.4 2035.5 Z" fill="#fff" stroke="#e01414" stroke-width="3"/>
<path d="M845 2021.3 L860.2 2036.5 L845 2051.7 L829.8 2036.5 Z" fill="#fff" stroke="#e01414" stroke-width="3"/>
<path d="M842.6 2020.4 L857.8 2035.6 L842.6 2050.8 L827.4 2035.6 Z" fill="#fff" stroke="#e01414" stroke-width="3"/>
<path d="M841.5 2019.2 L856.7 2034.4 L841.5 2049.6 L826.3 2034.4 Z" fill="#fff" stroke="#e01414" stroke-width="3"/>
<path d="M840.8 2019.7 L856 2034.9 L840.8 2050.1 L825.6 2034.9 Z" fill="#fff" stroke="#e01414" stroke-width="3"/>
<path d="M839.2 2019.1 L854.4 2034.3 L839.2 2049.5 L824 2034.3 Z" fill="#fff" stroke="#e01414" stroke-width="3"/>
<path d="M836.9 2016.6 L852.1 2031.8 L836.9 2047 L821.7 2031.8 Z" fill="#fff" stroke="#e01414" stroke-width="3"/>
<path d="M835.4 2016.8 L850.6 2032 L835.4 2047.2 L820.2 2032 Z" fill="#fff" stroke="#e01414" stroke-width="3"/>
<path d="M833.1 2014.9 L848.3 2030.1 L833.1 2045.3 L817.9 2030.1 Z" fill="#fff" stroke="#e01414" stroke-width="3"/>
<path d="M830.6 2013.1 L845.8 2028.3 L830.6 2043.5 L815.4 2028.3 Z" fill="#fff" stroke="#e01414" stroke-width="3"/>
<path d="M828.7 2012.8 L843.9 2028 L828.7 2043.2 L813.5 2028 Z" fill="#fff" stroke="#e01414" stroke-width="3"/>
<path d="M826.7 2015.5 L841.9 2030.7 L826.7 2045.9 L811.5 2030.7 Z" fill="#fff" stroke="#e01414" stroke-width="3"/>
<path d="M824.2 2016.2 L839.4 2031.4 L824.2 2046.6 L809 2031.4 Z" fill="#fff" stroke="#e01414" stroke-width="3"/>
<path d="M821.8 2017.2 L837 2032.4 L821.8 2047.6 L806.6 2032.4 Z" fill="#fff" stroke="#e01414" stroke-width="3"/>
<path d="M819.9 2019.6 L835.1 2034.8 L819.9 2050 L804.7 2034.8 Z" fill="#fff" stroke="#e01414" stroke-width="3"/>
<path d="M818.6 2021 L833.8 2036.2 L818.6 2051.4 L803.4 2036.2 Z" fill="#fff" stroke="#e01414" stroke-width="3"/>
<path d="M816.4 2021.4 L831.6 2036.6 L816.4 2051.8 L801.2 2036.6 Z" fill="#fff" stroke="#e01414" stroke-width="3"/>
<path d="M815 2022.4 L830.2 2037.6 L815 2052.8 L799.8 2037.6 Z" fill="#fff" stroke="#e01414" stroke-width="3"/>
<path d="M813.8 2022.9 L829 2038.1 L813.8 2053.3 L798.6 2038.1 Z" fill="#fff" stroke="#e01414" stroke-width="3"/>
<path d="M812.2 2021 L827.4 2036.2 L812.2 2051.4 L797 2036.2 Z" fill="#fff" stroke="#e01414" stroke-width="3"/>
<path d="M809.7 2020.3 L824.9 2035.5 L809.7 2050.7 L794.5 2035.5 Z" fill="#fff" stroke="#e01414" stroke-width="3"/>
<path d="M808.4 2018.6 L823.6 2033.8 L808.4 2049 L793.2 2033.8 Z" fill="#fff" stroke="#e01414" stroke-width="3"/>
<path d="M806.6 2018 L821.8 2033.2 L806.6 2048.4 L791.4 2033.2 Z" fill="#fff" stroke="#e01414" stroke-width="3"/>
<path d="M805.9 2017.8 L821.1 2033 L805.9 2048.2 L790.7 2033 Z" fill="#fff" stroke="#e01414" stroke-width="3"/>
<path d="M804.3 2015.2 L819.5 2030.4 L804.3 2045.6 L789.1 2030.4 Z" fill="#fff" stroke="#e01414" stroke-width="3"/>
<path d="M803.6 2015.3 L818.8 2030.5 L803.6 2045.7 L788.4 2030.5 Z" fill="#fff" stroke="#e01414" stroke-width="3"/>
<path d="M801.8 2015.8 L817 2031 L801.8 2046.2 L786.6 2031 Z" fill="#fff" stroke="#e01414" stroke-width="3"/>
<path d="M799.4 2015.2 L814.6 2030.4 L799.4 2045.6 L784.2 2030.4 Z" fill="#fff" stroke="#e01414" stroke-width="3"/>
<path d="M797.6 2015.1 L812.8 2030.3 L797.6 2045.5 L782.4 2030.3 Z" fill="#fff" stroke="#e01414" stroke-width="3"/>
<path d="M795.6 2013.4 L810.8 2028.6 L795.6 2043.8 L780.4 2028.6 Z" fill="#fff" stroke="#e01414" stroke-width="3"/>
<path d="M794.1 2014.1 L809.3 2029.3 L794.1 2044.5 L778.9 2029.3 Z" fill="#fff" stroke="#e01414" stroke-width="3"/>
<path d="M788.8 2008.6 L804 2023.8 L788.8 2039 L773.6 2023.8 Z" fill="#fff" stroke="#e01414" stroke-width="3"/>
<path d="M786.4 2008.4 L801.6 2023.6 L786.4 2038.8 L771.2 2023.6 Z" fill="#fff" stroke="#e01414" stroke-width="3"/>
<path d="M784.1 2007.7 L799.3 2022.9 L784.1 2038.1 L768.9 2022.9 Z" fill="#fff" stroke="#e01414" stroke-width="3"/>
<path d="M783 2006.4 L798.2 2021.6 L783 2036.8 L767.8 2021.6 Z" fill="#fff" stroke="#e01414" stroke-width="3"/>
<path d="M781.8 2006.9 L797 2022.1 L781.8 2037.3 L766.6 2022.1 Z" fill="#fff" stroke="#e01414" stroke-width="3"/>
<path d="M779.3 2007.4 L794.5 2022.6 L779.3 2037.8 L764.1 2022.6 Z" fill="#fff" stroke="#e01414" stroke-width="3"/>
<path d="M778.6 2008.1 L793.8 2023.3 L778.6 2038.5 L763.4 2023.3 Z" fill="#fff" stroke="#e01414" stroke-width="3"/>
<path d="M776.9 2011.7 L792.1 2026.9 L776.9 2042.1 L761.7 2026.9 Z" fill="#fff" stroke="#e01414" stroke-width="3"/>
<path d="M776.3 2011.1 L791.5 2026.3 L776.3 2041.5 L761.1 2026.3 Z" fill="#fff" stroke="#e01414" stroke-width="3"/>
<path d="M773.8 2015 L789 2030.2 L773.8 2045.4 L758.6 2030.2 Z" fill="#fff" stroke="#e01414" stroke-width="3"/>
<path d="M772.4 2014.1 L787.6 2029.3 L772.4 2044.5 L757.2 2029.3 Z" fill="#fff" stroke="#e01414" stroke-width="3"/>
<path d="M771.3 2014.8 L786.5 2030 L771.3 2045.2 L756.1 2030 Z" fill="#fff" stroke="#e01414" stroke-width="3"/>
<path d="M766.3 2016.3 L781.5 2031.5 L766.3 2046.7 L751.1 2031.5 Z" fill="#fff" stroke="#e01414" stroke-width="3"/>
<path d="M763.8 2013.5 L779 2028.7 L763.8 2043.9 L748.6 2028.7 Z" fill="#fff" stroke="#e01414" stroke-width="3"/>
<path d="M762.9 2012.7 L778.1 2027.9 L762.9 2043.1 L747.7 2027.9 Z" fill="#fff" stroke="#e01414" stroke-width="3"/>
<path d="M761.8 2013.7 L777 2028.9 L761.8 2044.1 L746.6 2028.9 Z" fill="#fff" stroke="#e01414" stroke-width="3"/>
<path d="M761.1 2013.3 L776.3 2028.5 L761.1 2043.7 L745.9 2028.5 Z" fill="#fff" stroke="#e01414" stroke-width="3"/>
<path d="M758.8 2011.9 L774 2027.1 L758.8 2042.3 L743.6 2027.1 Z" fill="#fff" stroke="#e01414" stroke-width="3"/>
<path d="M752.9 2010.4 L768.1 2025.6 L752.9 2040.8 L737.7 2025.6 Z" fill="#fff" stroke="#e01414" stroke-width="3"/>
<path d="M750.4 2008.8 L765.6 2024 L750.4 2039.2 L735.2 2024 Z" fill="#fff" stroke="#e01414" stroke-width="3"/>
<path d="M748.4 2007.5 L763.6 2022.7 L748.4 2037.9 L733.2 2022.7 Z" fill="#fff" stroke="#e01414" stroke-width="3"/>
<path d="M742.4 2005 L757.6 2020.2 L742.4 2035.4 L727.2 2020.2 Z" fill="#fff" stroke="#e01414" stroke-width="3"/>
<path d="M736.9 2001.9 L752.1 2017.1 L736.9 2032.3 L721.7 2017.1 Z" fill="#fff" stroke="#e01414" stroke-width="3"/>
<path d="M734.6 2001.9 L749.8 2017.1 L734.6 2032.3 L719.4 2017.1 Z" fill="#fff" stroke="#e01414" stroke-width="3"/>
<path d="M729.1 2007 L744.3 2022.2 L729.1 2037.4 L713.9 2022.2 Z" fill="#fff" stroke="#e01414" stroke-width="3"/>
<path d="M727.1 2007.9 L742.3 2023.1 L727.1 2038.3 L711.9 2023.1 Z" fill="#fff" stroke="#e01414" stroke-width="3"/>
<path d="M725.8 2010.2 L741 2025.4 L725.8 2040.6 L710.6 2025.4 Z" fill="#fff" stroke="#e01414" stroke-width="3"/>
<path d="M724.4 2010.3 L739.6 2025.5 L724.4 2040.7 L709.2 2025.5 Z" fill="#fff" stroke="#e01414" stroke-width="3"/>
<path d="M721.9 2011.7 L737.1 2026.9 L721.9 2042.1 L706.7 2026.9 Z" fill="#fff" stroke="#e01414" stroke-width="3"/>
<path d="M720.7 2009.8 L735.9 2025 L720.7 2040.2 L705.5 2025 Z" fill="#fff" stroke="#e01414" stroke-width="3"/>
<path d="M718.7 2010.8 L733.9 2026 L718.7 2041.2 L703.5 2026 Z" fill="#fff" stroke="#e01414" stroke-width="3"/>
<path d="M716.9 2010.2 L732.1 2025.4 L716.9 2040.6 L701.7 2025.4 Z" fill="#fff" stroke="#e01414" stroke-width="3"/>
<path d="M715.1 2007.5 L730.3 2022.7 L715.1 2037.9 L699.9 2022.7 Z" fill="#fff" stroke="#e01414" stroke-width="3"/>
<path d="M712.7 2006.6 L727.9 2021.8 L712.7 2037 L697.5 2021.8 Z" fill="#fff" stroke="#e01414" stroke-width="3"/>
<path d="M710.9 2007.3 L726.1 2022.5 L710.9 2037.7 L695.7 2022.5 Z" fill="#fff" stroke="#e01414" stroke-width="3"/>
<path d="M709.7 2005 L724.9 2020.2 L709.7 2035.4 L694.5 2020.2 Z" fill="#fff" stroke="#e01414" stroke-width="3"/>
<path d="M708.3 2006.2 L723.5 2021.4 L708.3 2036.6 L693.1 2021.4 Z" fill="#fff" stroke="#e01414" stroke-width="3"/>
<path d="M705.9 2004.6 L721.1 2019.8 L705.9 2035 L690.7 2019.8 Z" fill="#fff" stroke="#e01414" stroke-width="3"/>
<path d="M703.7 2006.1 L718.9 2021.3 L703.7 2036.5 L688.5 2021.3 Z" fill="#fff" stroke="#e01414" stroke-width="3"/>
<path d="M702.5 2005.5 L717.7 2020.7 L702.5 2035.9 L687.3 2020.7 Z" fill="#fff" stroke="#e01414" stroke-width="3"/>
<path d="M700.6 2004.5 L715.8 2019.7 L700.6 2034.9 L685.4 2019.7 Z" fill="#fff" stroke="#e01414" stroke-width="3"/>
<path d="M699.8 2003 L715 2018.2 L699.8 2033.4 L684.6 2018.2 Z" fill="#fff" stroke="#e01414" stroke-width="3"/>
<path d="M698.8 2002.6 L714 2017.8 L698.8 2033 L683.6 2017.8 Z" fill="#fff" stroke="#e01414" stroke-width="3"/>
<path d="M697.7 2001.2 L712.9 2016.4 L697.7 2031.6 L682.5 2016.4 Z" fill="#fff" stroke="#e01414" stroke-width="3"/>
<path d="M696.2 1998.8 L711.4 2014 L696.2 2029.2 L681 2014 Z" fill="#fff" stroke="#e01414" stroke-width="3"/>
<path d="M694.1 1998.4 L709.3 2013.6 L694.1 2028.8 L678.9 2013.6 Z" fill="#fff" stroke="#e01414" stroke-width="3"/>
<path d="M693.3 1997.9 L708.5 2013.1 L693.3 2028.3 L678.1 2013.1 Z" fill="#fff" stroke="#e01414" stroke-width="3"/>
<path d="M692.2 1996.8 L707.4 2012 L692.2 2027.2 L677 2012 Z" fill="#fff" stroke="#e01414" stroke-width="3"/>
<path d="M689.9 1996.2 L705.1 2011.4 L689.9 2026.6 L674.7 2011.4 Z" fill="#fff" stroke="#e01414" stroke-width="3"/>
<path d="M688.1 1996 L703.3 2011.2 L688.1 2026.4 L672.9 2011.2 Z" fill="#fff" stroke="#e01414" stroke-width="3"/>
<path d="M687.1 1997.8 L702.3 2013 L687.1 2028.2 L671.9 2013 Z" fill="#fff" stroke="#e01414" stroke-width="3"/>
<path d="M685.4 1998.5 L700.6 2013.7 L685.4 2028.9 L670.2 2013.7 Z" fill="#fff" stroke="#e01414" stroke-width="3"/>
<path d="M684.5 1998.5 L699.7 2013.7 L684.5 2028.9 L669.3 2013.7 Z" fill="#fff" stroke="#e01414" stroke-width="3"/>
<path d="M683.2 2000 L698.4 2015.2 L683.2 2030.4 L668 2015.2 Z" fill="#fff" stroke="#e01414" stroke-width="3"/>
<path d="M681 2002.1 L696.2 2017.3 L681 2032.5 L665.8 2017.3 Z" fill="#fff" stroke="#e01414" stroke-width="3"/>
<path d="M679.7 2003.9 L694.9 2019.1 L679.7 2034.3 L664.5 2019.1 Z" fill="#fff" stroke="#e01414" stroke-width="3"/>
<path d="M674.6 2006 L689.8 2021.2 L674.6 2036.4 L659.4 2021.2 Z" fill="#fff" stroke="#e01414" stroke-width="3"/>
<path d="M673.1 2004.5 L688.3 2019.7 L673.1 2034.9 L657.9 2019.7 Z" fill="#fff" stroke="#e01414" stroke-width="3"/>
<path d="M670.9 2003 L686.1 2018.2 L670.9 2033.4 L655.7 2018.2 Z" fill="#fff" stroke="#e01414" stroke-width="3"/>
<path d="M668.8 2002.8 L684 2018 L668.8 2033.2 L653.6 2018 Z" fill="#fff" stroke="#e01414" stroke-width="3"/>
<path d="M667.7 2000.5 L682.9 2015.7 L667.7 2030.9 L652.5 2015.7 Z" fill="#fff" stroke="#e01414" stroke-width="3"/>
<path d="M666.7 2000.2 L681.9 2015.4 L666.7 2030.6 L651.5 2015.4 Z" fill="#fff" stroke="#e01414" stroke-width="3"/>
<path d="M660.9 2001.1 L676.1 2016.3 L660.9 2031.5 L645.7 2016.3 Z" fill="#fff" stroke="#e01414" stroke-width="3"/>
<path d="M658.4 2000.7 L673.6 2015.9 L658.4 2031.1 L643.2 2015.9 Z" fill="#fff" stroke="#e01414" stroke-width="3"/>
<path d="M652.5 1995.4 L667.7 2010.6 L652.5 2025.8 L637.3 2010.6 Z" fill="#fff" stroke="#e01414" stroke-width="3"/>
<path d="M646 1989.5 L661.2 2004.7 L646 2019.9 L630.8 2004.7 Z" fill="#fff" stroke="#e01414" stroke-width="3"/>
<path d="M644.2 1990.8 L659.4 2006 L644.2 2021.2 L629 2006 Z" fill="#fff" stroke="#e01414" stroke-width="3"/>
<path d="M642.8 1989.7 L658 2004.9 L642.8 2020.1 L627.6 2004.9 Z" fill="#fff" stroke="#e01414" stroke-width="3"/>
<path d="M640.2 1992.4 L655.4 2007.6 L640.2 2022.8 L625 2007.6 Z" fill="#fff" stroke="#e01414" stroke-width="3"/>
<path d="M639.6 1991.1 L654.8 2006.3 L639.6 2021.5 L624.4 2006.3 Z" fill="#fff" stroke="#e01414" stroke-width="3"/>
<path d="M637.2 1994.7 L652.4 2009.9 L637.2 2025.1 L622 2009.9 Z" fill="#fff" stroke="#e01414" stroke-width="3"/>
<path d="M636.5 1995 L651.7 2010.2 L636.5 2025.4 L621.3 2010.2 Z" fill="#fff" stroke="#e01414" stroke-width="3"/>
<path d="M634.6 1996.9 L649.8 2012.1 L634.6 2027.3 L619.4 2012.1 Z" fill="#fff" stroke="#e01414" stroke-width="3"/>
<path d="M629.4 1997.7 L644.6 2012.9 L629.4 2028.1 L614.2 2012.9 Z" fill="#fff" stroke="#e01414" stroke-width="3"/>
<path d="M627.4 1996.1 L642.6 2011.3 L627.4 2026.5 L612.2 2011.3 Z" fill="#fff" stroke="#e01414" stroke-width="3"/>
<path d="M625.3 1994.8 L640.5 2010 L625.3 2025.2 L610.1 2010 Z" fill="#fff" stroke="#e01414" stroke-width="3"/>
<path d="M624.2 1994.3 L639.4 2009.5 L624.2 2024.7 L609 2009.5 Z" fill="#fff" stroke="#e01414" stroke-width="3"/>
<path d="M623.2 1994.2 L638.4 2009.4 L623.2 2024.6 L608 2009.4 Z" fill="#fff" stroke="#e01414" stroke-width="3"/>
<path d="M621.3 1992.9 L636.5 2008.1 L621.3 2023.3 L606.1 2008.1 Z" fill="#fff" stroke="#e01414" stroke-width="3"/>
<path d="M620.3 1992.7 L635.5 2007.9 L620.3 2023.1 L605.1 2007.9 Z" fill="#fff" stroke="#e01414" stroke-width="3"/>
<path d="M619.2 1994.6 L634.4 2009.8 L619.2 2025 L604 2009.8 Z" fill="#fff" stroke="#e01414" stroke-width="3"/>
<path d="M616.9 1992.4 L632.1 2007.6 L616.9 2022.8 L601.7 2007.6 Z" fill="#fff" stroke="#e01414" stroke-width="3"/>
<path d="M616.1 1994.2 L631.3 2009.4 L616.1 2024.6 L600.9 2009.4 Z" fill="#fff" stroke="#e01414" stroke-width="3"/>
<path d="M614.2 1992.9 L629.4 2008.1 L614.2 2023.3 L599 2008.1 Z" fill="#fff" stroke="#e01414" stroke-width="3"/>
<path d="M612 1992.4 L627.2 2007.6 L612 2022.8 L596.8 2007.6 Z" fill="#fff" stroke="#e01414" stroke-width="3"/>
<path d="M611.1 1991.4 L626.3 2006.6 L611.1 2021.8 L595.9 2006.6 Z" fill="#fff" stroke="#e01414" stroke-width="3"/>
<path d="M605 1988.1 L620.2 2003.3 L605 2018.5 L589.8 2003.3 Z" fill="#fff" stroke="#e01414" stroke-width="3"/>
<path d="M602.7 1985.6 L617.9 2000.8 L602.7 2016 L587.5 2000.8 Z" fill="#fff" stroke="#e01414" stroke-width="3"/>
<path d="M601.8 1985 L617 2000.2 L601.8 2015.4 L586.6 2000.2 Z" fill="#fff" stroke="#e01414" stroke-width="3"/>
<path d="M600.5 1984.1 L615.7 1999.3 L600.5 2014.5 L585.3 1999.3 Z" fill="#fff" stroke="#e01414" stroke-width="3"/>
<path d="M599.3 1985.6 L614.5 2000.8 L599.3 2016 L584.1 2000.8 Z" fill="#fff" stroke="#e01414" stroke-width="3"/>
<path d="M592.8 1986.3 L608 2001.5 L592.8 2016.7 L577.6 2001.5 Z" fill="#fff" stroke="#e01414" stroke-width="3"/>
<path d="M590.9 1988.2 L606.1 2003.4 L590.9 2018.6 L575.7 2003.4 Z" fill="#fff" stroke="#e01414" stroke-width="3"/>
<path d="M589.7 1989.2 L604.9 2004.4 L589.7 2019.6 L574.5 2004.4 Z" fill="#fff" stroke="#e01414" stroke-width="3"/>
<path d="M588.4 1991.9 L603.6 2007.1 L588.4 2022.3 L573.2 2007.1 Z" fill="#fff" stroke="#e01414" stroke-width="3"/>
<path d="M585.9 1991 L601.1 2006.2 L585.9 2021.4 L570.7 2006.2 Z" fill="#fff" stroke="#e01414" stroke-width="3"/>
<path d="M583.5 1991.6 L598.7 2006.8 L583.5 2022 L568.3 2006.8 Z" fill="#fff" stroke="#e01414" stroke-width="3"/>
<path d="M582.3 1994 L597.5 2009.2 L582.3 2024.4 L567.1 2009.2 Z" fill="#fff" stroke="#e01414" stroke-width="3"/>
<path d="M576.1 1992.5 L591.3 2007.7 L576.1 2022.9 L560.9 2007.7 Z" fill="#fff" stroke="#e01414" stroke-width="3"/>
<path d="M575.5 1993.7 L590.7 2008.9 L575.5 2024.1 L560.3 2008.9 Z" fill="#fff" stroke="#e01414" stroke-width="3"/>
<path d="M574.5 1992.9 L589.7 2008.1 L574.5 2023.3 L559.3 2008.1 Z" fill="#fff" stroke="#e01414" stroke-width="3"/>
<path d="M573.5 1993.4 L588.7 2008.6 L573.5 2023.8 L558.3 2008.6 Z" fill="#fff" stroke="#e01414" stroke-width="3"/>
<path d="M572.5 1994.1 L587.7 2009.3 L572.5 2024.5 L557.3 2009.3 Z" fill="#fff" stroke="#e01414" stroke-width="3"/>
<path d="M571.5 1992.6 L586.7 2007.8 L571.5 2023 L556.3 2007.8 Z" fill="#fff" stroke="#e01414" stroke-width="3"/>
<path d="M565.6 1994.7 L580.8 2009.9 L565.6 2025.1 L550.4 2009.9 Z" fill="#fff" stroke="#e01414" stroke-width="3"/>
<path d="M564.6 1994.9 L579.8 2010.1 L564.6 2025.3 L549.4 2010.1 Z" fill="#fff" stroke="#e01414" stroke-width="3"/>
<path d="M562.4 1994.5 L577.6 2009.7 L562.4 2024.9 L547.2 2009.7 Z" fill="#fff" stroke="#e01414" stroke-width="3"/>
<path d="M561.7 1994.7 L576.9 2009.9 L561.7 2025.1 L546.5 2009.9 Z" fill="#fff" stroke="#e01414" stroke-width="3"/>
<path d="M559.6 1992.5 L574.8 2007.7 L559.6 2022.9 L544.4 2007.7 Z" fill="#fff" stroke="#e01414" stroke-width="3"/>
<path d="M558.4 1993.9 L573.6 2009.1 L558.4 2024.3 L543.2 2009.1 Z" fill="#fff" stroke="#e01414" stroke-width="3"/>
<path d="M554.1 1999.1 L569.3 2014.3 L554.1 2029.5 L538.9 2014.3 Z" fill="#fff" stroke="#e01414" stroke-width="3"/>
<path d="M553 2010.1 L568.2 2025.3 L553 2040.5 L537.8 2025.3 Z" fill="#fff" stroke="#e01414" stroke-width="3"/>
<path d="M552.7 2010.8 L567.9 2026 L552.7 2041.2 L537.5 2026 Z" fill="#fff" stroke="#e01414" stroke-width="3"/>
<path d="M551 2025.2 L566.2 2040.4 L551 2055.6 L535.8 2040.4 Z" fill="#fff" stroke="#e01414" stroke-width="3"/>
<path d="M548.5 2027 L563.7 2042.2 L548.5 2057.4 L533.3 2042.2 Z" fill="#fff" stroke="#e01414" stroke-width="3"/>
<path d="M546.9 2043.5 L562.1 2058.7 L546.9 2073.9 L531.7 2058.7 Z" fill="#fff" stroke="#e01414" stroke-width="3"/>
<path d="M546 2051.1 L561.2 2066.3 L546 2081.5 L530.8 2066.3 Z" fill="#fff" stroke="#e01414" stroke-width="3"/>
<path d="M544.9 2060.8 L560.1 2076 L544.9 2091.2 L529.7 2076 Z" fill="#fff" stroke="#e01414" stroke-width="3"/>
<path d="M544.1 2066.3 L559.3 2081.5 L544.1 2096.7 L528.9 2081.5 Z" fill="#fff" stroke="#e01414" stroke-width="3"/>
<path d="M543.6 2071.3 L558.8 2086.5 L543.6 2101.7 L528.4 2086.5 Z" fill="#fff" stroke="#e01414" stroke-width="3"/>
<path d="M542.8 2073.5 L558 2088.7 L542.8 2103.9 L527.6 2088.7 Z" fill="#fff" stroke="#e01414" stroke-width="3"/>
<path d="M542.8 2075.4 L558 2090.6 L542.8 2105.8 L527.6 2090.6 Z" fill="#fff" stroke="#e01414" stroke-width="3"/>
<path d="M542.9 2075.1 L558.1 2090.3 L542.9 2105.5 L527.7 2090.3 Z" fill="#fff" stroke="#e01414" stroke-width="3"/>
<path d="M543 2077.7 L558.2 2092.9 L543 2108.1 L527.8 2092.9 Z" fill="#fff" stroke="#e01414" stroke-width="3"/>
<path d="M543.3 2080.1 L558.5 2095.3 L543.3 2110.5 L528.1 2095.3 Z" fill="#fff" stroke="#e01414" stroke-width="3"/>
<path d="M540.5 2088.4 L555.7 2103.6 L540.5 2118.8 L525.3 2103.6 Z" fill="#fff" stroke="#e01414" stroke-width="3"/>
<path d="M536.6 2105.4 L551.8 2120.6 L536.6 2135.8 L521.4 2120.6 Z" fill="#fff" stroke="#e01414" stroke-width="3"/>
<path d="M530.8 2118.5 L546 2133.7 L530.8 2148.9 L515.6 2133.7 Z" fill="#fff" stroke="#e01414" stroke-width="3"/>
<path d="M531.2 2123.5 L546.4 2138.7 L531.2 2153.9 L516 2138.7 Z" fill="#fff" stroke="#e01414" stroke-width="3"/>
<path d="M526.2 2133.5 L541.4 2148.7 L526.2 2163.9 L511 2148.7 Z" fill="#fff" stroke="#e01414" stroke-width="3"/>
<path d="M526.4 2135.5 L541.6 2150.7 L526.4 2165.9 L511.2 2150.7 Z" fill="#fff" stroke="#e01414" stroke-width="3"/>
<path d="M524 2144 L539.2 2159.2 L524 2174.4 L508.8 2159.2 Z" fill="#fff" stroke="#e01414" stroke-width="3"/>
<path d="M519.3 2157.5 L534.5 2172.7 L519.3 2187.9 L504.1 2172.7 Z" fill="#fff" stroke="#e01414" stroke-width="3"/>
<path d="M518.8 2159.2 L534 2174.4 L518.8 2189.6 L503.6 2174.4 Z" fill="#fff" stroke="#e01414" stroke-width="3"/>
<path d="M516.5 2162.3 L531.7 2177.5 L516.5 2192.7 L501.3 2177.5 Z" fill="#fff" stroke="#e01414" stroke-width="3"/>
<path d="M516.6 2163.9 L531.8 2179.1 L516.6 2194.3 L501.4 2179.1 Z" fill="#fff" stroke="#e01414" stroke-width="3"/>
<path d="M514.7 2165.3 L529.9 2180.5 L514.7 2195.7 L499.5 2180.5 Z" fill="#fff" stroke="#e01414" stroke-width="3"/>
<path d="M513.1 2165.6 L528.3 2180.8 L513.1 2196 L497.9 2180.8 Z" fill="#fff" stroke="#e01414" stroke-width="3"/>
<path d="M511.4 2170 L526.6 2185.2 L511.4 2200.4 L496.2 2185.2 Z" fill="#fff" stroke="#e01414" stroke-width="3"/>
<path d="M510.7 2172 L525.9 2187.2 L510.7 2202.4 L495.5 2187.2 Z" fill="#fff" stroke="#e01414" stroke-width="3"/>
<path d="M510.4 2172.4 L525.6 2187.6 L510.4 2202.8 L495.2 2187.6 Z" fill="#fff" stroke="#e01414" stroke-width="3"/>
<path d="M507.5 2175.2 L522.7 2190.4 L507.5 2205.6 L492.3 2190.4 Z" fill="#fff" stroke="#e01414" stroke-width="3"/>
<path d="M508.2 2177.2 L523.4 2192.4 L508.2 2207.6 L493 2192.4 Z" fill="#fff" stroke="#e01414" stroke-width="3"/>
<path d="M505.6 2179 L520.8 2194.2 L505.6 2209.4 L490.4 2194.2 Z" fill="#fff" stroke="#e01414" stroke-width="3"/>
<path d="M504.6 2180.7 L519.8 2195.9 L504.6 2211.1 L489.4 2195.9 Z" fill="#fff" stroke="#e01414" stroke-width="3"/>
<path d="M504.1 2182.6 L519.3 2197.8 L504.1 2213 L488.9 2197.8 Z" fill="#fff" stroke="#e01414" stroke-width="3"/>
<path d="M503.6 2182.8 L518.8 2198 L503.6 2213.2 L488.4 2198 Z" fill="#fff" stroke="#e01414" stroke-width="3"/>
<path d="M500.8 2185.5 L516 2200.7 L500.8 2215.9 L485.6 2200.7 Z" fill="#fff" stroke="#e01414" stroke-width="3"/>
<path d="M501.6 2188.3 L516.8 2203.5 L501.6 2218.7 L486.4 2203.5 Z" fill="#fff" stroke="#e01414" stroke-width="3"/>
<path d="M498.5 2190.3 L513.7 2205.5 L498.5 2220.7 L483.3 2205.5 Z" fill="#fff" stroke="#e01414" stroke-width="3"/>
<path d="M498.8 2191.7 L514 2206.9 L498.8 2222.1 L483.6 2206.9 Z" fill="#fff" stroke="#e01414" stroke-width="3"/>
<path d="M496.5 2199.2 L511.7 2214.4 L496.5 2229.6 L481.3 2214.4 Z" fill="#fff" stroke="#e01414" stroke-width="3"/>
<path d="M489.4 2211.9 L504.6 2227.1 L489.4 2242.3 L474.2 2227.1 Z" fill="#fff" stroke="#e01414" stroke-width="3"/>
<path d="M491.5 2214.5 L506.7 2229.7 L491.5 2244.9 L476.3 2229.7 Z" fill="#fff" stroke="#e01414" stroke-width="3"/>
<path d="M492 2231.6 L507.2 2246.8 L492 2262 L476.8 2246.8 Z" fill="#fff" stroke="#e01414" stroke-width="3"/>
<path d="M490 2233.8 L505.2 2249 L490 2264.2 L474.8 2249 Z" fill="#fff" stroke="#e01414" stroke-width="3"/>
<path d="M486.8 2247.7 L502 2262.9 L486.8 2278.1 L471.6 2262.9 Z" fill="#fff" stroke="#e01414" stroke-width="3"/>
<path d="M486.3 2250.3 L501.5 2265.5 L486.3 2280.7 L471.1 2265.5 Z" fill="#fff" stroke="#e01414" stroke-width="3"/>
<path d="M482.2 2267.9 L497.4 2283.1 L482.2 2298.3 L467 2283.1 Z" fill="#fff" stroke="#e01414" stroke-width="3"/>
<path d="M480.9 2272.4 L496.1 2287.6 L480.9 2302.8 L465.7 2287.6 Z" fill="#fff" stroke="#e01414" stroke-width="3"/>
<path d="M480.3 2283.7 L495.5 2298.9 L480.3 2314.1 L465.1 2298.9 Z" fill="#fff" stroke="#e01414" stroke-width="3"/>
<path d="M480.5 2283.6 L495.7 2298.8 L480.5 2314 L465.3 2298.8 Z" fill="#fff" stroke="#e01414" stroke-width="3"/>
<path d="M478.2 2285.4 L493.4 2300.6 L478.2 2315.8 L463 2300.6 Z" fill="#fff" stroke="#e01414" stroke-width="3"/>
<path d="M477.6 2288.6 L492.8 2303.8 L477.6 2319 L462.4 2303.8 Z" fill="#fff" stroke="#e01414" stroke-width="3"/>
<path d="M477.9 2291.3 L493.1 2306.5 L477.9 2321.7 L462.7 2306.5 Z" fill="#fff" stroke="#e01414" stroke-width="3"/>
<path d="M475.4 2292.6 L490.6 2307.8 L475.4 2323 L460.2 2307.8 Z" fill="#fff" stroke="#e01414" stroke-width="3"/>
<path d="M474.5 2294.4 L489.7 2309.6 L474.5 2324.8 L459.3 2309.6 Z" fill="#fff" stroke="#e01414" stroke-width="3"/>
<path d="M474.7 2295.6 L489.9 2310.8 L474.7 2326 L459.5 2310.8 Z" fill="#fff" stroke="#e01414" stroke-width="3"/>
<path d="M472.9 2300.7 L488.1 2315.9 L472.9 2331.1 L457.7 2315.9 Z" fill="#fff" stroke="#e01414" stroke-width="3"/>
<path d="M471.9 2303.1 L487.1 2318.3 L471.9 2333.5 L456.7 2318.3 Z" fill="#fff" stroke="#e01414" stroke-width="3"/>
<path d="M471.7 2303 L486.9 2318.2 L471.7 2333.4 L456.5 2318.2 Z" fill="#fff" stroke="#e01414" stroke-width="3"/>
<path d="M471.8 2305.4 L487 2320.6 L471.8 2335.8 L456.6 2320.6 Z" fill="#fff" stroke="#e01414" stroke-width="3"/>
<path d="M471.5 2308.9 L486.7 2324.1 L471.5 2339.3 L456.3 2324.1 Z" fill="#fff" stroke="#e01414" stroke-width="3"/>
<path d="M470.3 2309.4 L485.5 2324.6 L470.3 2339.8 L455.1 2324.6 Z" fill="#fff" stroke="#e01414" stroke-width="3"/>
<path d="M468.8 2312.5 L484 2327.7 L468.8 2342.9 L453.6 2327.7 Z" fill="#fff" stroke="#e01414" stroke-width="3"/>
<path d="M470 2313.8 L485.2 2329 L470 2344.2 L454.8 2329 Z" fill="#fff" stroke="#e01414" stroke-width="3"/>
<path d="M467.7 2316.4 L482.9 2331.6 L467.7 2346.8 L452.5 2331.6 Z" fill="#fff" stroke="#e01414" stroke-width="3"/>
<path d="M466.1 2329.9 L481.3 2345.1 L466.1 2360.3 L450.9 2345.1 Z" fill="#fff" stroke="#e01414" stroke-width="3"/>
<path d="M465.4 2332.4 L480.6 2347.6 L465.4 2362.8 L450.2 2347.6 Z" fill="#fff" stroke="#e01414" stroke-width="3"/>
<path d="M461.7 2348.9 L476.9 2364.1 L461.7 2379.3 L446.5 2364.1 Z" fill="#fff" stroke="#e01414" stroke-width="3"/>
<path d="M460.3 2352.3 L475.5 2367.5 L460.3 2382.7 L445.1 2367.5 Z" fill="#fff" stroke="#e01414" stroke-width="3"/>
<path d="M459.8 2355.2 L475 2370.4 L459.8 2385.6 L444.6 2370.4 Z" fill="#fff" stroke="#e01414" stroke-width="3"/>
<path d="M458.4 2356.3 L473.6 2371.5 L458.4 2386.7 L443.2 2371.5 Z" fill="#fff" stroke="#e01414" stroke-width="3"/>
<path d="M458.7 2359 L473.9 2374.2 L458.7 2389.4 L443.5 2374.2 Z" fill="#fff" stroke="#e01414" stroke-width="3"/>
<path d="M458.1 2363 L473.3 2378.2 L458.1 2393.4 L442.9 2378.2 Z" fill="#fff" stroke="#e01414" stroke-width="3"/>
<path d="M458.7 2363.5 L473.9 2378.7 L458.7 2393.9 L443.5 2378.7 Z" fill="#fff" stroke="#e01414" stroke-width="3"/>
<path d="M456.1 2367.8 L471.3 2383 L456.1 2398.2 L440.9 2383 Z" fill="#fff" stroke="#e01414" stroke-width="3"/>
<path d="M455.7 2367.6 L470.9 2382.8 L455.7 2398 L440.5 2382.8 Z" fill="#fff" stroke="#e01414" stroke-width="3"/>
<path d="M455.4 2369.5 L470.6 2384.7 L455.4 2399.9 L440.2 2384.7 Z" fill="#fff" stroke="#e01414" stroke-width="3"/>
<path d="M455 2371.1 L470.2 2386.3 L455 2401.5 L439.8 2386.3 Z" fill="#fff" stroke="#e01414" stroke-width="3"/>
<path d="M453 2372.7 L468.2 2387.9 L453 2403.1 L437.8 2387.9 Z" fill="#fff" stroke="#e01414" stroke-width="3"/>
<path d="M452.6 2377.1 L467.8 2392.3 L452.6 2407.5 L437.4 2392.3 Z" fill="#fff" stroke="#e01414" stroke-width="3"/>
<path d="M452.2 2379.8 L467.4 2395 L452.2 2410.2 L437 2395 Z" fill="#fff" stroke="#e01414" stroke-width="3"/>
<path d="M452.1 2380.9 L467.3 2396.1 L452.1 2411.3 L436.9 2396.1 Z" fill="#fff" stroke="#e01414" stroke-width="3"/>
<path d="M450.8 2383.8 L466 2399 L450.8 2414.2 L435.6 2399 Z" fill="#fff" stroke="#e01414" stroke-width="3"/>
<path d="M448.7 2395.5 L463.9 2410.7 L448.7 2425.9 L433.5 2410.7 Z" fill="#fff" stroke="#e01414" stroke-width="3"/>
<path d="M449.1 2404.7 L464.3 2419.9 L449.1 2435.1 L433.9 2419.9 Z" fill="#fff" stroke="#e01414" stroke-width="3"/>
<path d="M444.2 2410 L459.4 2425.2 L444.2 2440.4 L429 2425.2 Z" fill="#fff" stroke="#e01414" stroke-width="3"/>
<path d="M437.3 2425.9 L452.5 2441.1 L437.3 2456.3 L422.1 2441.1 Z" fill="#fff" stroke="#e01414" stroke-width="3"/>
<path d="M433.9 2427.6 L449.1 2442.8 L433.9 2458 L418.7 2442.8 Z" fill="#fff" stroke="#e01414" stroke-width="3"/>
<path d="M424.5 2436.8 L439.7 2452 L424.5 2467.2 L409.3 2452 Z" fill="#fff" stroke="#e01414" stroke-width="3"/>
<path d="M421.6 2449.3 L436.8 2464.5 L421.6 2479.7 L406.4 2464.5 Z" fill="#fff" stroke="#e01414" stroke-width="3"/>
<path d="M416.8 2457.7 L432 2472.9 L416.8 2488.1 L401.6 2472.9 Z" fill="#fff" stroke="#e01414" stroke-width="3"/>
<path d="M412.8 2466.1 L428 2481.3 L412.8 2496.5 L397.6 2481.3 Z" fill="#fff" stroke="#e01414" stroke-width="3"/>
<path d="M405 2474 L420.2 2489.2 L405 2504.4 L389.8 2489.2 Z" fill="#fff" stroke="#e01414" stroke-width="3"/>
<path d="M405.6 2477.3 L420.8 2492.5 L405.6 2507.7 L390.4 2492.5 Z" fill="#fff" stroke="#e01414" stroke-width="3"/>
<path d="M398.7 2489.7 L413.9 2504.9 L398.7 2520.1 L383.5 2504.9 Z" fill="#fff" stroke="#e01414" stroke-width="3"/>
<path d="M394.2 2497.5 L409.4 2512.7 L394.2 2527.9 L379 2512.7 Z" fill="#fff" stroke="#e01414" stroke-width="3"/>
<path d="M386.9 2504.6 L402.1 2519.8 L386.9 2535 L371.7 2519.8 Z" fill="#fff" stroke="#e01414" stroke-width="3"/>
<path d="M382.6 2510.2 L397.8 2525.4 L382.6 2540.6 L367.4 2525.4 Z" fill="#fff" stroke="#e01414" stroke-width="3"/>
<path d="M381.4 2512.6 L396.6 2527.8 L381.4 2543 L366.2 2527.8 Z" fill="#fff" stroke="#e01414" stroke-width="3"/>
<path d="M376.4 2524 L391.6 2539.2 L376.4 2554.4 L361.2 2539.2 Z" fill="#fff" stroke="#e01414" stroke-width="3"/>
<path d="M372.5 2530.6 L387.7 2545.8 L372.5 2561 L357.3 2545.8 Z" fill="#fff" stroke="#e01414" stroke-width="3"/>
<path d="M366.1 2543.1 L381.3 2558.3 L366.1 2573.5 L350.9 2558.3 Z" fill="#fff" stroke="#e01414" stroke-width="3"/>
<path d="M364.2 2544.1 L379.4 2559.3 L364.2 2574.5 L349 2559.3 Z" fill="#fff" stroke="#e01414" stroke-width="3"/>
<path d="M359 2551.7 L374.2 2566.9 L359 2582.1 L343.8 2566.9 Z" fill="#fff" stroke="#e01414" stroke-width="3"/>
<path d="M352.9 2565.2 L368.1 2580.4 L352.9 2595.6 L337.7 2580.4 Z" fill="#fff" stroke="#e01414" stroke-width="3"/>
<path d="M351.1 2570.3 L366.3 2585.5 L351.1 2600.7 L335.9 2585.5 Z" fill="#fff" stroke="#e01414" stroke-width="3"/>
<path d="M345.2 2584.1 L360.4 2599.3 L345.2 2614.5 L330 2599.3 Z" fill="#fff" stroke="#e01414" stroke-width="3"/>
<path d="M342.6 2593.5 L357.8 2608.7 L342.6 2623.9 L327.4 2608.7 Z" fill="#fff" stroke="#e01414" stroke-width="3"/>
<path d="M338.6 2598.3 L353.8 2613.5 L338.6 2628.7 L323.4 2613.5 Z" fill="#fff" stroke="#e01414" stroke-width="3"/>
<path d="M332.7 2603.8 L347.9 2619 L332.7 2634.2 L317.5 2619 Z" fill="#fff" stroke="#e01414" stroke-width="3"/>
<path d="M325.4 2611.5 L340.6 2626.7 L325.4 2641.9 L310.2 2626.7 Z" fill="#fff" stroke="#e01414" stroke-width="3"/>
<path d="M318.5 2619.7 L333.7 2634.9 L318.5 2650.1 L303.3 2634.9 Z" fill="#fff" stroke="#e01414" stroke-width="3"/>
<path d="M316.8 2620.9 L332 2636.1 L316.8 2651.3 L301.6 2636.1 Z" fill="#fff" stroke="#e01414" stroke-width="3"/>
<path d="M307.8 2629.9 L323 2645.1 L307.8 2660.3 L292.6 2645.1 Z" fill="#fff" stroke="#e01414" stroke-width="3"/>
<path d="M302.8 2635.7 L318 2650.9 L302.8 2666.1 L287.6 2650.9 Z" fill="#fff" stroke="#e01414" stroke-width="3"/>
<path d="M299 2644.4 L314.2 2659.6 L299 2674.8 L283.8 2659.6 Z" fill="#fff" stroke="#e01414" stroke-width="3"/>
<path d="M296 2656.1 L311.2 2671.3 L296 2686.5 L280.8 2671.3 Z" fill="#fff" stroke="#e01414" stroke-width="3"/>
<path d="M300 2612.8 L315.2 2628 L300 2643.2 L284.8 2628 Z" fill="#fff" stroke="#e01414" stroke-width="3"/>
<path d="M292 2629.8 L307.2 2645 L292 2660.2 L276.8 2645 Z" fill="#fff" stroke="#e01414" stroke-width="3"/>
<path d="M306 2639.8 L321.2 2655 L306 2670.2 L290.8 2655 Z" fill="#fff" stroke="#e01414" stroke-width="3"/>
<path d="M296 2646.8 L311.2 2662 L296 2677.2 L280.8 2662 Z" fill="#fff" stroke="#e01414" stroke-width="3"/>
<path d="M312 2652.8 L327.2 2668 L312 2683.2 L296.8 2668 Z" fill="#fff" stroke="#e01414" stroke-width="3"/>
<path d="M290 2664.8 L305.2 2680 L290 2695.2 L274.8 2680 Z" fill="#fff" stroke="#e01414" stroke-width="3"/>
<path d="M303 2674.8 L318.2 2690 L303 2705.2 L287.8 2690 Z" fill="#fff" stroke="#e01414" stroke-width="3"/>
<path d="M318 2668.8 L333.2 2684 L318 2699.2 L302.8 2684 Z" fill="#fff" stroke="#e01414" stroke-width="3"/>
</g>
<line x1="287" y1="2081" x2="1299" y2="2081" stroke="#505050" stroke-width="2.4" stroke-dasharray="9 5.5"/>
<line x1="287" y1="2009" x2="1299" y2="2009" stroke="#505050" stroke-width="2.4" stroke-dasharray="9 5.5"/>
<line x1="530" y1="1963" x2="530" y2="2677" stroke="#505050" stroke-width="2.4" stroke-dasharray="9 5.5"/>
<rect x="286.5" y="1962" width="1013.5" height="715.5" fill="none" stroke="#1c1c1c" stroke-width="3.2"/>
<line x1="273" y1="2081" x2="286" y2="2081" stroke="#1c1c1c" stroke-width="3"/>
<line x1="1300" y1="2081" x2="1287" y2="2081" stroke="#1c1c1c" stroke-width="3"/>
<text x="265" y="2096" font-size="44" text-anchor="end" fill="#1e1e1e" font-family='"Liberation Sans", sans-serif' textLength="65" lengthAdjust="spacingAndGlyphs">0.0</text>
<line x1="273" y1="2279.8" x2="286" y2="2279.8" stroke="#1c1c1c" stroke-width="3"/>
<line x1="1300" y1="2279.8" x2="1287" y2="2279.8" stroke="#1c1c1c" stroke-width="3"/>
<text x="265" y="2294.8" font-size="44" text-anchor="end" fill="#1e1e1e" font-family='"Liberation Sans", sans-serif' textLength="85" lengthAdjust="spacingAndGlyphs">-0.1</text>
<line x1="273" y1="2478.6" x2="286" y2="2478.6" stroke="#1c1c1c" stroke-width="3"/>
<line x1="1300" y1="2478.6" x2="1287" y2="2478.6" stroke="#1c1c1c" stroke-width="3"/>
<text x="265" y="2493.6" font-size="44" text-anchor="end" fill="#1e1e1e" font-family='"Liberation Sans", sans-serif' textLength="85" lengthAdjust="spacingAndGlyphs">-0.2</text>
<line x1="273" y1="2677.4" x2="286" y2="2677.4" stroke="#1c1c1c" stroke-width="3"/>
<line x1="1300" y1="2677.4" x2="1287" y2="2677.4" stroke="#1c1c1c" stroke-width="3"/>
<text x="265" y="2692.4" font-size="44" text-anchor="end" fill="#1e1e1e" font-family='"Liberation Sans", sans-serif' textLength="85" lengthAdjust="spacingAndGlyphs">-0.3</text>
<line x1="279.5" y1="1981.6" x2="286" y2="1981.6" stroke="#1c1c1c" stroke-width="3"/>
<line x1="1300" y1="1981.6" x2="1293" y2="1981.6" stroke="#1c1c1c" stroke-width="3"/>
<line x1="279.5" y1="2180.4" x2="286" y2="2180.4" stroke="#1c1c1c" stroke-width="3"/>
<line x1="1300" y1="2180.4" x2="1293" y2="2180.4" stroke="#1c1c1c" stroke-width="3"/>
<line x1="279.5" y1="2379.2" x2="286" y2="2379.2" stroke="#1c1c1c" stroke-width="3"/>
<line x1="1300" y1="2379.2" x2="1293" y2="2379.2" stroke="#1c1c1c" stroke-width="3"/>
<line x1="279.5" y1="2578" x2="286" y2="2578" stroke="#1c1c1c" stroke-width="3"/>
<line x1="1300" y1="2578" x2="1293" y2="2578" stroke="#1c1c1c" stroke-width="3"/>
<line x1="363.2" y1="2677.5" x2="363.2" y2="2688.5" stroke="#1c1c1c" stroke-width="3"/>
<line x1="363.2" y1="1962" x2="363.2" y2="1976" stroke="#1c1c1c" stroke-width="3"/>
<text x="363.2" y="2737.5" font-size="44" text-anchor="middle" fill="#1e1e1e" font-family='"Liberation Sans", sans-serif' textLength="25" lengthAdjust="spacingAndGlyphs">3</text>
<line x1="591.5" y1="2677.5" x2="591.5" y2="2688.5" stroke="#1c1c1c" stroke-width="3"/>
<line x1="591.5" y1="1962" x2="591.5" y2="1976" stroke="#1c1c1c" stroke-width="3"/>
<text x="591.5" y="2737.5" font-size="44" text-anchor="middle" fill="#1e1e1e" font-family='"Liberation Sans", sans-serif' textLength="25" lengthAdjust="spacingAndGlyphs">6</text>
<line x1="819.8" y1="2677.5" x2="819.8" y2="2688.5" stroke="#1c1c1c" stroke-width="3"/>
<line x1="819.8" y1="1962" x2="819.8" y2="1976" stroke="#1c1c1c" stroke-width="3"/>
<text x="819.8" y="2737.5" font-size="44" text-anchor="middle" fill="#1e1e1e" font-family='"Liberation Sans", sans-serif' textLength="25" lengthAdjust="spacingAndGlyphs">9</text>
<line x1="1048.1" y1="2677.5" x2="1048.1" y2="2688.5" stroke="#1c1c1c" stroke-width="3"/>
<line x1="1048.1" y1="1962" x2="1048.1" y2="1976" stroke="#1c1c1c" stroke-width="3"/>
<text x="1049.1" y="2737.5" font-size="44" text-anchor="middle" fill="#1e1e1e" font-family='"Liberation Sans", sans-serif' textLength="52" lengthAdjust="spacingAndGlyphs">12</text>
<line x1="1276.4" y1="2677.5" x2="1276.4" y2="2688.5" stroke="#1c1c1c" stroke-width="3"/>
<line x1="1276.4" y1="1962" x2="1276.4" y2="1976" stroke="#1c1c1c" stroke-width="3"/>
<text x="1277.4" y="2737.5" font-size="44" text-anchor="middle" fill="#1e1e1e" font-family='"Liberation Sans", sans-serif' textLength="52" lengthAdjust="spacingAndGlyphs">15</text>
<line x1="477.3" y1="2677.5" x2="477.3" y2="2684" stroke="#1c1c1c" stroke-width="3"/>
<line x1="477.3" y1="1962" x2="477.3" y2="1970" stroke="#1c1c1c" stroke-width="3"/>
<line x1="705.6" y1="2677.5" x2="705.6" y2="2684" stroke="#1c1c1c" stroke-width="3"/>
<line x1="705.6" y1="1962" x2="705.6" y2="1970" stroke="#1c1c1c" stroke-width="3"/>
<line x1="934" y1="2677.5" x2="934" y2="2684" stroke="#1c1c1c" stroke-width="3"/>
<line x1="934" y1="1962" x2="934" y2="1970" stroke="#1c1c1c" stroke-width="3"/>
<line x1="1162.2" y1="2677.5" x2="1162.2" y2="2684" stroke="#1c1c1c" stroke-width="3"/>
<line x1="1162.2" y1="1962" x2="1162.2" y2="1970" stroke="#1c1c1c" stroke-width="3"/>
<line x1="287.6" y1="2677.5" x2="287.6" y2="2684" stroke="#1c1c1c" stroke-width="3"/>
<text x="752" y="2818" font-size="52" text-anchor="start" fill="#1e1e1e" font-family='"Liberation Sans", sans-serif' textLength="100" lengthAdjust="spacingAndGlyphs">T, K</text>
<text x="556" y="2649" font-size="47.5" text-anchor="start" fill="#1e1e1e" font-family='"Liberation Sans", sans-serif' textLength="115" lengthAdjust="spacingAndGlyphs">5.2 K</text>
<text x="1093" y="2640.5" font-size="47.5" text-anchor="start" fill="#1e1e1e" font-family='"Liberation Sans", sans-serif' textLength="193" lengthAdjust="spacingAndGlyphs">Cu-NW2</text>
<text x="61" y="1998.5" font-size="70" text-anchor="start" fill="#1e1e1e" font-family='"Liberation Sans", sans-serif' stroke="#fff" stroke-width="0.9" textLength="76" lengthAdjust="spacingAndGlyphs">(c)</text>
<text transform="translate(130.5 2494) rotate(-90)" font-size="52" fill="#1e1e1e" font-family='"Liberation Sans", sans-serif' textLength="346" lengthAdjust="spacingAndGlyphs">(R-R<tspan font-size="38" dy="14">15K</tspan><tspan dy="-14">)/R</tspan><tspan font-size="38" dy="14">15K</tspan></text>
<path d="M604.4 2226 L620.1 2241.7 L604.4 2257.4 L588.7 2241.7 Z" fill="none" stroke="#d82020" stroke-width="2.8"/>
<circle cx="604.4" cy="2321" r="12.7" fill="none" stroke="#3ae03a" stroke-width="3.4"/>
<path d="M604 2385.8 L618 2409.8 L590 2409.8 Z" fill="none" stroke="#1414dc" stroke-width="2.8"/>
<text x="659.5" y="2258.5" font-size="49" text-anchor="start" fill="#1e1e1e" font-family='"Liberation Sans", sans-serif' textLength="27" lengthAdjust="spacingAndGlyphs">L</text>
<text x="686.5" y="2279" font-size="40" text-anchor="start" fill="#1e1e1e" font-family='"Liberation Sans", sans-serif' textLength="22" lengthAdjust="spacingAndGlyphs">1</text>
<text x="659.5" y="2338.5" font-size="49" text-anchor="start" fill="#1e1e1e" font-family='"Liberation Sans", sans-serif' textLength="27" lengthAdjust="spacingAndGlyphs">L</text>
<text x="686.5" y="2359" font-size="40" text-anchor="start" fill="#1e1e1e" font-family='"Liberation Sans", sans-serif' textLength="22" lengthAdjust="spacingAndGlyphs">2</text>
<text x="659.5" y="2417.5" font-size="49" text-anchor="start" fill="#1e1e1e" font-family='"Liberation Sans", sans-serif' textLength="27" lengthAdjust="spacingAndGlyphs">L</text>
<text x="686.5" y="2438" font-size="40" text-anchor="start" fill="#1e1e1e" font-family='"Liberation Sans", sans-serif' textLength="22" lengthAdjust="spacingAndGlyphs">3</text>
<path d="M839.9 2385.6 L1281.8 2264.3 L1282.7 2270.1 L842.1 2390.9 Z" fill="#a8a8a8" stroke="none" stroke-width="1"/>
<path d="M777.7 2204.4 L1195.2 2140 L1281.8 2264.3 L839.9 2385.6 Z" fill="url(#gsub)" stroke="none" stroke-width="1"/>
<path d="M777.7 2204.4 L797.7 2201.3 L856.4 2382 L839.9 2385.6 Z" fill="#bdbdbd" stroke="none" stroke-width="1" opacity="0.7"/>
<path d="M815.5 2199 L893.2 2186.6 L914.1 2239 L835.5 2253.2 Z" fill="#ecc40a" stroke="none" stroke-width="1"/>
<path d="M902.1 2183.1 L948.7 2176 L967.4 2226.6 L922.1 2236.4 Z" fill="#ecc40a" stroke="none" stroke-width="1"/>
<path d="M957.6 2172.4 L1002.9 2166.6 L1022.4 2216.8 L979.8 2225.7 Z" fill="#ecc40a" stroke="none" stroke-width="1"/>
<path d="M1030.9 2163.5 L1073.1 2157.7 L1093.1 2206.6 L1053.1 2211.9 Z" fill="#ecc40a" stroke="none" stroke-width="1"/>
<path d="M1077.5 2156.4 L1117.5 2151.1 L1137.5 2199.9 L1097.5 2204.4 Z" fill="#ecc40a" stroke="none" stroke-width="1"/>
<path d="M1122.8 2147.5 L1177.4 2140 L1201.9 2186.6 L1145 2194.6 Z" fill="#ecc40a" stroke="none" stroke-width="1"/>
<line x1="811.1" y1="2302.1" x2="833.8" y2="2298.6" stroke="#e01818" stroke-width="6"/>
<path d="M845.7 2296.7 L835 2306.5 L832.6 2290.7 Z" fill="#e01818" stroke="none" stroke-width="1"/>
<line x1="1246.3" y1="2216.8" x2="1260.9" y2="2213.6" stroke="#e01818" stroke-width="5"/>
<path d="M1270.7 2211.5 L1262.4 2220.5 L1259.4 2206.8 Z" fill="#e01818" stroke="none" stroke-width="1"/>
<line x1="869.7" y1="2335.4" x2="1260.5" y2="2239.9" stroke="#8c1212" stroke-width="13.5" stroke-linecap="butt"/>
<line x1="869.7" y1="2333.4" x2="1260.5" y2="2237.9" stroke="#c81e1e" stroke-width="8.5" stroke-linecap="butt"/>
<line x1="869.7" y1="2331.9" x2="1260.5" y2="2236.4" stroke="#d83a3a" stroke-width="2.5" stroke-linecap="butt"/>
<circle cx="1260.5" cy="2239.9" r="6.7" fill="#b01a1a"/>
<line x1="893.2" y1="2223" x2="945.2" y2="2338.5" stroke="#585858" stroke-width="9.5" stroke-linecap="round"/>
<line x1="891.7" y1="2225" x2="943.7" y2="2338.5" stroke="#767676" stroke-width="2.5" stroke-linecap="round"/>
<line x1="931.7" y1="2308.5" x2="945.2" y2="2338.5" stroke="#686868" stroke-width="14.5" stroke-linecap="round"/>
<line x1="928.7" y1="2308.5" x2="942.2" y2="2338.5" stroke="#7c7c7c" stroke-width="3" stroke-linecap="round"/>
<line x1="953.2" y1="2211" x2="1004.7" y2="2322.1" stroke="#585858" stroke-width="9.5" stroke-linecap="round"/>
<line x1="951.7" y1="2213" x2="1003.2" y2="2322.1" stroke="#767676" stroke-width="2.5" stroke-linecap="round"/>
<line x1="991.3" y1="2293.2" x2="1004.7" y2="2322.1" stroke="#686868" stroke-width="14.5" stroke-linecap="round"/>
<line x1="988.3" y1="2293.2" x2="1001.7" y2="2322.1" stroke="#7c7c7c" stroke-width="3" stroke-linecap="round"/>
<line x1="1005.1" y1="2203.5" x2="1058" y2="2310.1" stroke="#585858" stroke-width="9.5" stroke-linecap="round"/>
<line x1="1003.6" y1="2205.5" x2="1056.5" y2="2310.1" stroke="#767676" stroke-width="2.5" stroke-linecap="round"/>
<line x1="1044.2" y1="2282.4" x2="1058" y2="2310.1" stroke="#686868" stroke-width="14.5" stroke-linecap="round"/>
<line x1="1041.2" y1="2282.4" x2="1055" y2="2310.1" stroke="#7c7c7c" stroke-width="3" stroke-linecap="round"/>
<line x1="1065.1" y1="2191.9" x2="1118.4" y2="2292.3" stroke="#585858" stroke-width="9.5" stroke-linecap="round"/>
<line x1="1063.6" y1="2193.9" x2="1116.9" y2="2292.3" stroke="#767676" stroke-width="2.5" stroke-linecap="round"/>
<line x1="1104.5" y1="2266.2" x2="1118.4" y2="2292.3" stroke="#686868" stroke-width="14.5" stroke-linecap="round"/>
<line x1="1101.5" y1="2266.2" x2="1115.4" y2="2292.3" stroke="#7c7c7c" stroke-width="3" stroke-linecap="round"/>
<line x1="1109.5" y1="2183.1" x2="1165" y2="2280.8" stroke="#585858" stroke-width="9.5" stroke-linecap="round"/>
<line x1="1108" y1="2185.1" x2="1163.5" y2="2280.8" stroke="#767676" stroke-width="2.5" stroke-linecap="round"/>
<line x1="1150.6" y1="2255.4" x2="1165" y2="2280.8" stroke="#686868" stroke-width="14.5" stroke-linecap="round"/>
<line x1="1147.6" y1="2255.4" x2="1162" y2="2280.8" stroke="#7c7c7c" stroke-width="3" stroke-linecap="round"/>
<line x1="1157.4" y1="2175.5" x2="1209.8" y2="2267.4" stroke="#585858" stroke-width="9.5" stroke-linecap="round"/>
<line x1="1155.9" y1="2177.5" x2="1208.3" y2="2267.4" stroke="#767676" stroke-width="2.5" stroke-linecap="round"/>
<line x1="1196.2" y1="2243.5" x2="1209.8" y2="2267.4" stroke="#686868" stroke-width="14.5" stroke-linecap="round"/>
<line x1="1193.2" y1="2243.5" x2="1206.8" y2="2267.4" stroke="#7c7c7c" stroke-width="3" stroke-linecap="round"/>
<line x1="1081.9" y1="2266.5" x2="1100.6" y2="2306.5" stroke="#262626" stroke-width="11" stroke-linecap="round"/>
<line x1="1060.6" y1="2315.4" x2="1079.7" y2="2337.6" stroke="#3a46c0" stroke-width="2"/>
<line x1="1125.5" y1="2297.6" x2="1136.1" y2="2323.4" stroke="#3a46c0" stroke-width="2"/>
<line x1="1010.9" y1="2328.7" x2="1042" y2="2375.4" stroke="#3a46c0" stroke-width="2"/>
<line x1="1173" y1="2288.8" x2="1193" y2="2332.3" stroke="#3a46c0" stroke-width="2"/>
<line x1="950.9" y1="2344.3" x2="993.1" y2="2425.5" stroke="#3a46c0" stroke-width="2"/>
<line x1="1217.4" y1="2273.2" x2="1259.6" y2="2344.3" stroke="#3a46c0" stroke-width="2"/>
<line x1="1081.1" y1="2336.7" x2="1127.4" y2="2325.5" stroke="#1428c8" stroke-width="3.6"/>
<path d="M1136.1 2323.4 L1128.6 2330.4 L1126.2 2320.6 Z" fill="#1428c8" stroke="none" stroke-width="1"/>
<line x1="1136.1" y1="2323.4" x2="1089.8" y2="2334.6" stroke="#1428c8" stroke-width="3.6"/>
<path d="M1081.1 2336.7 L1088.6 2329.7 L1091 2339.5 Z" fill="#1428c8" stroke="none" stroke-width="1"/>
<line x1="1043.3" y1="2374.9" x2="1184.3" y2="2334.7" stroke="#1428c8" stroke-width="3.6"/>
<path d="M1193 2332.3 L1185.7 2339.5 L1182.9 2329.9 Z" fill="#1428c8" stroke="none" stroke-width="1"/>
<line x1="1193" y1="2332.3" x2="1052" y2="2372.4" stroke="#1428c8" stroke-width="3.6"/>
<path d="M1043.3 2374.9 L1050.6 2367.6 L1053.3 2377.3 Z" fill="#1428c8" stroke="none" stroke-width="1"/>
<line x1="994" y1="2425.1" x2="1251" y2="2346.9" stroke="#1428c8" stroke-width="3.6"/>
<path d="M1259.6 2344.3 L1252.4 2351.7 L1249.5 2342.1 Z" fill="#1428c8" stroke="none" stroke-width="1"/>
<line x1="1259.6" y1="2344.3" x2="1002.6" y2="2422.5" stroke="#1428c8" stroke-width="3.6"/>
<path d="M994 2425.1 L1001.2 2417.7 L1004.1 2427.3 Z" fill="#1428c8" stroke="none" stroke-width="1"/>
<line x1="899.9" y1="2164.4" x2="948.7" y2="2215.5" stroke="#111" stroke-width="2"/>
<line x1="899.9" y1="2164.4" x2="1002" y2="2204.4" stroke="#111" stroke-width="2"/>
<line x1="819.9" y1="2394.4" x2="873.2" y2="2336.7" stroke="#111" stroke-width="2"/>
<line x1="1141.9" y1="2410.9" x2="1090.8" y2="2293.2" stroke="#111" stroke-width="2.6"/>
<text x="732" y="2166" font-size="39" text-anchor="start" fill="#1e1e1e" font-family='"Liberation Sans", sans-serif' textLength="165" lengthAdjust="spacingAndGlyphs">Pt-FIBID</text>
<text x="765" y="2428" font-size="42" text-anchor="start" fill="#1e1e1e" font-family='"Liberation Sans", sans-serif' textLength="135" lengthAdjust="spacingAndGlyphs">Cu NW</text>
<text x="1125" y="2453" font-size="42" text-anchor="start" fill="#1e1e1e" font-family='"Liberation Sans", sans-serif' textLength="160" lengthAdjust="spacingAndGlyphs">W-FIBID</text>
<text x="1043" y="2358" font-size="39" text-anchor="start" fill="#2a2a2a" font-family='"Liberation Sans", sans-serif' textLength="21" lengthAdjust="spacingAndGlyphs">L</text>
<text x="1067" y="2358" font-size="23" text-anchor="start" fill="#8a8a8a" font-family='"Liberation Sans", sans-serif' textLength="12" lengthAdjust="spacingAndGlyphs">1</text>
<text x="994.5" y="2393.5" font-size="39" text-anchor="start" fill="#2a2a2a" font-family='"Liberation Sans", sans-serif' textLength="21" lengthAdjust="spacingAndGlyphs">L</text>
<text x="1018.5" y="2393.5" font-size="23" text-anchor="start" fill="#8a8a8a" font-family='"Liberation Sans", sans-serif' textLength="12" lengthAdjust="spacingAndGlyphs">2</text>
<text x="946" y="2429" font-size="39" text-anchor="start" fill="#2a2a2a" font-family='"Liberation Sans", sans-serif' textLength="21" lengthAdjust="spacingAndGlyphs">L</text>
<text x="970" y="2429" font-size="23" text-anchor="start" fill="#8a8a8a" font-family='"Liberation Sans", sans-serif' textLength="12" lengthAdjust="spacingAndGlyphs">3</text></g></svg></body></html>
